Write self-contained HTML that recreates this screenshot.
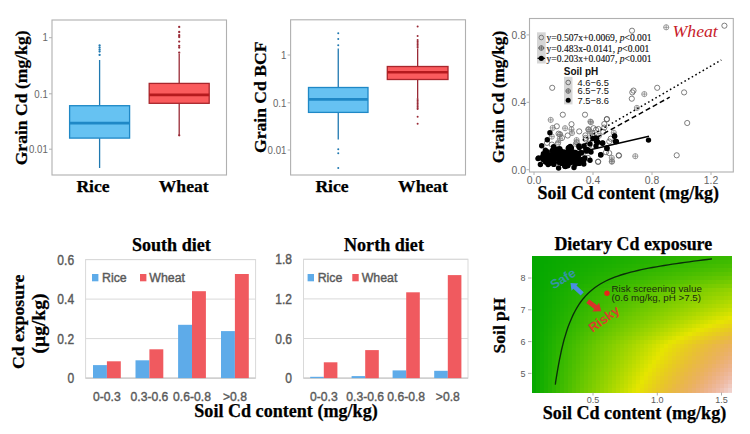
<!DOCTYPE html>
<html><head><meta charset="utf-8"><title>Figure</title>
<style>html,body{margin:0;padding:0;background:#fff;width:750px;height:434px;overflow:hidden}svg{display:block}</style>
</head><body>
<svg width="750" height="434" viewBox="0 0 750 434">
<rect width="750" height="434" fill="#fff"/>
<rect x="52" y="20" width="174.5" height="155" fill="none" stroke="#b0b0b0" stroke-width="1.1"/>
<line x1="49" y1="37.7" x2="52" y2="37.7" stroke="#b0b0b0" stroke-width="1"/>
<text transform="translate(47.8,41.4) scale(0.93,1)" font-size="10.4" text-anchor="end" font-family="Liberation Sans" fill="#666">1</text>
<line x1="49" y1="93.8" x2="52" y2="93.8" stroke="#b0b0b0" stroke-width="1"/>
<text transform="translate(47.8,97.5) scale(0.93,1)" font-size="10.4" text-anchor="end" font-family="Liberation Sans" fill="#666">0.1</text>
<line x1="49" y1="149.2" x2="52" y2="149.2" stroke="#b0b0b0" stroke-width="1"/>
<text transform="translate(47.8,152.9) scale(0.93,1)" font-size="10.4" text-anchor="end" font-family="Liberation Sans" fill="#666">0.01</text>
<line x1="99.6" y1="60" x2="99.6" y2="105.7" stroke="#1f78b0" stroke-width="1.3"/>
<line x1="99.6" y1="138.1" x2="99.6" y2="168" stroke="#1f78b0" stroke-width="1.3"/>
<rect x="69.6" y="105.7" width="60.0" height="32.39999999999999" fill="#66c2f2" stroke="#1f88c6" stroke-width="1.3"/>
<line x1="69.6" y1="123.1" x2="129.6" y2="123.1" stroke="#1f88c6" stroke-width="2.6"/>
<circle cx="99.6" cy="45.5" r="1.15" fill="#1f78b0"/>
<circle cx="99.6" cy="47.6" r="1.15" fill="#1f78b0"/>
<circle cx="99.6" cy="49.7" r="1.15" fill="#1f78b0"/>
<circle cx="99.6" cy="51.6" r="1.15" fill="#1f78b0"/>
<circle cx="99.6" cy="54.9" r="1.15" fill="#1f78b0"/>
<line x1="179.2" y1="54" x2="179.2" y2="83.4" stroke="#9a2a36" stroke-width="1.3"/>
<line x1="179.2" y1="103.3" x2="179.2" y2="135.3" stroke="#9a2a36" stroke-width="1.3"/>
<rect x="149.2" y="83.4" width="60.0" height="19.89999999999999" fill="#fa5b5d" stroke="#a8262c" stroke-width="1.3"/>
<line x1="149.2" y1="94.9" x2="209.2" y2="94.9" stroke="#b51a1e" stroke-width="2.6"/>
<circle cx="179.2" cy="26.9" r="1.15" fill="#9a2a36"/>
<circle cx="179.2" cy="32.0" r="1.15" fill="#9a2a36"/>
<circle cx="179.2" cy="35.2" r="1.15" fill="#9a2a36"/>
<circle cx="179.2" cy="37.0" r="1.15" fill="#9a2a36"/>
<circle cx="179.2" cy="41.6" r="1.15" fill="#9a2a36"/>
<circle cx="179.2" cy="45.8" r="1.15" fill="#9a2a36"/>
<circle cx="179.2" cy="47.6" r="1.15" fill="#9a2a36"/>
<circle cx="179.2" cy="52.7" r="1.15" fill="#9a2a36"/>
<circle cx="179.2" cy="135.3" r="1.15" fill="#9a2a36"/>
<text x="0.0" y="0.0" font-size="17.6" text-anchor="middle" font-family="Liberation Serif" font-weight="bold" stroke="#000" stroke-width="0.25" fill="#000" transform="translate(26.5,97.9) rotate(-90)">Grain Cd (mg/kg)</text>
<text x="93.0" y="192.0" font-size="17.6" text-anchor="middle" font-family="Liberation Serif" font-weight="bold" stroke="#000" stroke-width="0.25" fill="#000">Rice</text>
<text x="183.7" y="192.0" font-size="17.6" text-anchor="middle" font-family="Liberation Serif" font-weight="bold" stroke="#000" stroke-width="0.25" fill="#000">Wheat</text>
<rect x="290.6" y="19.8" width="174.89999999999998" height="155.2" fill="none" stroke="#b0b0b0" stroke-width="1.1"/>
<line x1="287.6" y1="55" x2="290.6" y2="55" stroke="#b0b0b0" stroke-width="1"/>
<text transform="translate(286.4,58.7) scale(0.93,1)" font-size="10.4" text-anchor="end" font-family="Liberation Sans" fill="#666">1</text>
<line x1="287.6" y1="102.8" x2="290.6" y2="102.8" stroke="#b0b0b0" stroke-width="1"/>
<text transform="translate(286.4,106.5) scale(0.93,1)" font-size="10.4" text-anchor="end" font-family="Liberation Sans" fill="#666">0.1</text>
<line x1="287.6" y1="150" x2="290.6" y2="150" stroke="#b0b0b0" stroke-width="1"/>
<text transform="translate(286.4,153.7) scale(0.93,1)" font-size="10.4" text-anchor="end" font-family="Liberation Sans" fill="#666">0.01</text>
<line x1="338.25" y1="48.4" x2="338.25" y2="87.5" stroke="#1f78b0" stroke-width="1.3"/>
<line x1="338.25" y1="112.4" x2="338.25" y2="139.5" stroke="#1f78b0" stroke-width="1.3"/>
<rect x="308.5" y="87.5" width="59.5" height="24.900000000000006" fill="#66c2f2" stroke="#1f88c6" stroke-width="1.3"/>
<line x1="308.5" y1="99.4" x2="368" y2="99.4" stroke="#1f88c6" stroke-width="2.6"/>
<circle cx="338.25" cy="33.2" r="1.0" fill="#1f78b0"/>
<circle cx="338.25" cy="39.0" r="1.0" fill="#1f78b0"/>
<circle cx="338.25" cy="45.3" r="1.0" fill="#1f78b0"/>
<circle cx="338.25" cy="149.2" r="1.0" fill="#1f78b0"/>
<circle cx="338.25" cy="153.3" r="1.0" fill="#1f78b0"/>
<circle cx="338.25" cy="168.0" r="1.0" fill="#1f78b0"/>
<line x1="417.65" y1="48.4" x2="417.65" y2="66.5" stroke="#9a2a36" stroke-width="1.3"/>
<line x1="417.65" y1="79.5" x2="417.65" y2="98" stroke="#9a2a36" stroke-width="1.3"/>
<rect x="387.3" y="66.5" width="60.69999999999999" height="13.0" fill="#fa5b5d" stroke="#a8262c" stroke-width="1.3"/>
<line x1="387.3" y1="72.3" x2="448" y2="72.3" stroke="#b51a1e" stroke-width="2.6"/>
<circle cx="417.65" cy="26.6" r="1.0" fill="#9a2a36"/>
<circle cx="417.65" cy="36.0" r="1.0" fill="#9a2a36"/>
<circle cx="417.65" cy="40.0" r="1.0" fill="#9a2a36"/>
<circle cx="417.65" cy="41.5" r="1.0" fill="#9a2a36"/>
<circle cx="417.65" cy="43.0" r="1.0" fill="#9a2a36"/>
<circle cx="417.65" cy="44.5" r="1.0" fill="#9a2a36"/>
<circle cx="417.65" cy="46.0" r="1.0" fill="#9a2a36"/>
<circle cx="417.65" cy="47.5" r="1.0" fill="#9a2a36"/>
<circle cx="417.65" cy="99.0" r="1.0" fill="#9a2a36"/>
<circle cx="417.65" cy="100.5" r="1.0" fill="#9a2a36"/>
<circle cx="417.65" cy="102.0" r="1.0" fill="#9a2a36"/>
<circle cx="417.65" cy="103.5" r="1.0" fill="#9a2a36"/>
<circle cx="417.65" cy="105.0" r="1.0" fill="#9a2a36"/>
<circle cx="417.65" cy="106.5" r="1.0" fill="#9a2a36"/>
<circle cx="417.65" cy="108.0" r="1.0" fill="#9a2a36"/>
<circle cx="417.65" cy="109.0" r="1.0" fill="#9a2a36"/>
<circle cx="417.65" cy="116.8" r="1.0" fill="#9a2a36"/>
<circle cx="417.65" cy="123.7" r="1.0" fill="#9a2a36"/>
<text x="0.0" y="0.0" font-size="17.6" text-anchor="middle" font-family="Liberation Serif" font-weight="bold" stroke="#000" stroke-width="0.25" fill="#000" transform="translate(265.8,97.3) rotate(-90)">Grain Cd BCF</text>
<text x="332.0" y="192.0" font-size="17.6" text-anchor="middle" font-family="Liberation Serif" font-weight="bold" stroke="#000" stroke-width="0.25" fill="#000">Rice</text>
<text x="423.0" y="192.0" font-size="17.6" text-anchor="middle" font-family="Liberation Serif" font-weight="bold" stroke="#000" stroke-width="0.25" fill="#000">Wheat</text>
<rect x="529.5" y="18.5" width="203.8" height="153.5" fill="none" stroke="#b0b0b0" stroke-width="1.1"/>
<line x1="526.5" y1="169.7" x2="529.5" y2="169.7" stroke="#b0b0b0" stroke-width="1"/>
<text transform="translate(526,173.6) scale(0.95,1)" font-size="11" text-anchor="end" font-family="Liberation Sans" fill="#666">0.0</text>
<line x1="526.5" y1="102.3" x2="529.5" y2="102.3" stroke="#b0b0b0" stroke-width="1"/>
<text transform="translate(526,106.2) scale(0.95,1)" font-size="11" text-anchor="end" font-family="Liberation Sans" fill="#666">0.4</text>
<line x1="526.5" y1="34.9" x2="529.5" y2="34.9" stroke="#b0b0b0" stroke-width="1"/>
<text transform="translate(526,38.8) scale(0.95,1)" font-size="11" text-anchor="end" font-family="Liberation Sans" fill="#666">0.8</text>
<line x1="534.0" y1="172" x2="534.0" y2="175" stroke="#b0b0b0" stroke-width="1"/>
<text transform="translate(534.0,184.4) scale(0.95,1)" font-size="11" text-anchor="middle" font-family="Liberation Sans" fill="#666">0.0</text>
<line x1="593.0" y1="172" x2="593.0" y2="175" stroke="#b0b0b0" stroke-width="1"/>
<text transform="translate(593.0,184.4) scale(0.95,1)" font-size="11" text-anchor="middle" font-family="Liberation Sans" fill="#666">0.4</text>
<line x1="652.0" y1="172" x2="652.0" y2="175" stroke="#b0b0b0" stroke-width="1"/>
<text transform="translate(652.0,184.4) scale(0.95,1)" font-size="11" text-anchor="middle" font-family="Liberation Sans" fill="#666">0.8</text>
<line x1="711.0" y1="172" x2="711.0" y2="175" stroke="#b0b0b0" stroke-width="1"/>
<text transform="translate(711.0,184.4) scale(0.95,1)" font-size="11" text-anchor="middle" font-family="Liberation Sans" fill="#666">1.2</text>
<circle cx="724.4" cy="25.7" r="2.6" fill="none" stroke="#555" stroke-width="0.75"/>
<circle cx="632.0" cy="30.7" r="2.6" fill="none" stroke="#555" stroke-width="0.75"/>
<circle cx="552.2" cy="87.8" r="2.6" fill="none" stroke="#555" stroke-width="0.75"/>
<circle cx="657.2" cy="87.8" r="2.6" fill="none" stroke="#555" stroke-width="0.75"/>
<circle cx="684.1" cy="92.4" r="2.6" fill="none" stroke="#555" stroke-width="0.75"/>
<circle cx="632.3" cy="92.4" r="2.6" fill="none" stroke="#555" stroke-width="0.75"/>
<circle cx="633.5" cy="90.6" r="2.6" fill="none" stroke="#555" stroke-width="0.75"/>
<circle cx="631.8" cy="98.7" r="2.6" fill="none" stroke="#555" stroke-width="0.75"/>
<circle cx="687.2" cy="123.0" r="2.6" fill="none" stroke="#555" stroke-width="0.75"/>
<circle cx="585.0" cy="114.7" r="2.6" fill="none" stroke="#555" stroke-width="0.75"/>
<circle cx="606.8" cy="119.4" r="2.6" fill="none" stroke="#555" stroke-width="0.75"/>
<circle cx="604.3" cy="124.0" r="2.6" fill="none" stroke="#555" stroke-width="0.75"/>
<circle cx="676.7" cy="155.3" r="2.6" fill="none" stroke="#555" stroke-width="0.75"/>
<circle cx="618.7" cy="155.3" r="2.6" fill="none" stroke="#555" stroke-width="0.75"/>
<circle cx="598.0" cy="161.7" r="2.6" fill="none" stroke="#555" stroke-width="0.75"/>
<circle cx="562.8" cy="114.7" r="2.6" fill="none" stroke="#555" stroke-width="0.75"/>
<circle cx="556.8" cy="126.3" r="2.6" fill="none" stroke="#555" stroke-width="0.75"/>
<circle cx="571.5" cy="124.2" r="2.6" fill="none" stroke="#555" stroke-width="0.75"/>
<circle cx="579.2" cy="131.4" r="2.6" fill="none" stroke="#555" stroke-width="0.75"/>
<circle cx="606.9" cy="119.0" r="2.6" fill="none" stroke="#555" stroke-width="0.75"/>
<circle cx="604.3" cy="127.6" r="2.6" fill="none" stroke="#555" stroke-width="0.75"/>
<circle cx="562.0" cy="138.0" r="2.6" fill="none" stroke="#555" stroke-width="0.75"/>
<circle cx="619.0" cy="155.6" r="2.6" fill="none" stroke="#555" stroke-width="0.75"/>
<circle cx="598.2" cy="161.8" r="2.6" fill="none" stroke="#555" stroke-width="0.75"/>
<circle cx="587.9" cy="157.9" r="2.6" fill="none" stroke="#555" stroke-width="0.75"/>
<circle cx="576.7" cy="142.3" r="2.6" fill="none" stroke="#555" stroke-width="0.75"/>
<circle cx="598.3" cy="129.0" r="2.6" fill="none" stroke="#555" stroke-width="0.75"/>
<circle cx="589.2" cy="145.7" r="2.6" fill="none" stroke="#555" stroke-width="0.75"/>
<circle cx="547.0" cy="142.9" r="2.6" fill="none" stroke="#555" stroke-width="0.75"/>
<circle cx="558.6" cy="133.7" r="2.6" fill="none" stroke="#555" stroke-width="0.75"/>
<circle cx="580.3" cy="146.5" r="2.6" fill="none" stroke="#555" stroke-width="0.75"/>
<circle cx="589.7" cy="140.6" r="2.6" fill="none" stroke="#555" stroke-width="0.75"/>
<circle cx="592.7" cy="136.1" r="2.6" fill="none" stroke="#555" stroke-width="0.75"/>
<circle cx="572.4" cy="153.1" r="2.6" fill="none" stroke="#555" stroke-width="0.75"/>
<circle cx="609.2" cy="153.1" r="2.6" fill="none" stroke="#555" stroke-width="0.75"/>
<circle cx="559.8" cy="155.1" r="2.6" fill="none" stroke="#555" stroke-width="0.75"/>
<circle cx="610.7" cy="138.7" r="2.6" fill="none" stroke="#555" stroke-width="0.75"/>
<circle cx="587.5" cy="150.9" r="2.6" fill="none" stroke="#555" stroke-width="0.75"/>
<circle cx="596.0" cy="129.8" r="2.6" fill="none" stroke="#555" stroke-width="0.75"/>
<circle cx="557.7" cy="143.9" r="2.6" fill="none" stroke="#555" stroke-width="0.75"/>
<circle cx="558.6" cy="149.4" r="2.6" fill="none" stroke="#555" stroke-width="0.75"/>
<circle cx="588.5" cy="129.7" r="2.6" fill="none" stroke="#555" stroke-width="0.75"/>
<circle cx="567.7" cy="135.5" r="2.6" fill="none" stroke="#555" stroke-width="0.75"/>
<circle cx="551.9" cy="144.6" r="2.6" fill="none" stroke="#555" stroke-width="0.75"/>
<circle cx="585.7" cy="137.9" r="2.6" fill="none" stroke="#555" stroke-width="0.75"/>
<circle cx="609.3" cy="141.5" r="2.6" fill="none" stroke="#555" stroke-width="0.75"/>
<circle cx="603.2" cy="131.9" r="2.6" fill="none" stroke="#555" stroke-width="0.75"/>
<circle cx="606.0" cy="152.2" r="2.6" fill="none" stroke="#555" stroke-width="0.75"/>
<circle cx="585.8" cy="139.5" r="2.6" fill="none" stroke="#555" stroke-width="0.75"/>
<circle cx="548.6" cy="156.8" r="2.6" fill="none" stroke="#555" stroke-width="0.75"/>
<circle cx="585.4" cy="135.4" r="2.6" fill="none" stroke="#555" stroke-width="0.75"/>
<circle cx="593.5" cy="128.2" r="2.6" fill="none" stroke="#555" stroke-width="0.75"/>
<g stroke="#777" stroke-width="0.7" fill="none"><circle cx="666.2" cy="27.3" r="2.6"/><path d="M663.6 27.3h5.2M666.2 24.7v5.2"/></g>
<g stroke="#777" stroke-width="0.7" fill="none"><circle cx="644.3" cy="94.1" r="2.6"/><path d="M641.7 94.1h5.2M644.3 91.5v5.2"/></g>
<g stroke="#777" stroke-width="0.7" fill="none"><circle cx="636.9" cy="107.9" r="2.6"/><path d="M634.3 107.9h5.2M636.9 105.3v5.2"/></g>
<g stroke="#777" stroke-width="0.7" fill="none"><circle cx="591.0" cy="122.2" r="2.6"/><path d="M588.4 122.2h5.2M591.0 119.6v5.2"/></g>
<g stroke="#777" stroke-width="0.7" fill="none"><circle cx="635.3" cy="156.2" r="2.6"/><path d="M632.7 156.2h5.2M635.3 153.6v5.2"/></g>
<g stroke="#777" stroke-width="0.7" fill="none"><circle cx="611.8" cy="161.7" r="2.6"/><path d="M609.2 161.7h5.2M611.8 159.1v5.2"/></g>
<g stroke="#777" stroke-width="0.7" fill="none"><circle cx="550.7" cy="119.9" r="2.6"/><path d="M548.1 119.9h5.2M550.7 117.3v5.2"/></g>
<g stroke="#777" stroke-width="0.7" fill="none"><circle cx="590.4" cy="121.6" r="2.6"/><path d="M587.8 121.6h5.2M590.4 119.0v5.2"/></g>
<g stroke="#777" stroke-width="0.7" fill="none"><circle cx="571.5" cy="129.4" r="2.6"/><path d="M568.9 129.4h5.2M571.5 126.8v5.2"/></g>
<g stroke="#777" stroke-width="0.7" fill="none"><circle cx="572.0" cy="133.0" r="2.6"/><path d="M569.4 133.0h5.2M572.0 130.4v5.2"/></g>
<g stroke="#777" stroke-width="0.7" fill="none"><circle cx="589.6" cy="131.4" r="2.6"/><path d="M587.0 131.4h5.2M589.6 128.8v5.2"/></g>
<g stroke="#777" stroke-width="0.7" fill="none"><circle cx="612.0" cy="161.3" r="2.6"/><path d="M609.4 161.3h5.2M612.0 158.7v5.2"/></g>
<g stroke="#777" stroke-width="0.7" fill="none"><circle cx="613.8" cy="132.8" r="2.6"/><path d="M611.2 132.8h5.2M613.8 130.2v5.2"/></g>
<g stroke="#777" stroke-width="0.7" fill="none"><circle cx="575.9" cy="143.9" r="2.6"/><path d="M573.3 143.9h5.2M575.9 141.3v5.2"/></g>
<g stroke="#777" stroke-width="0.7" fill="none"><circle cx="558.2" cy="142.4" r="2.6"/><path d="M555.6 142.4h5.2M558.2 139.8v5.2"/></g>
<g stroke="#777" stroke-width="0.7" fill="none"><circle cx="552.0" cy="151.9" r="2.6"/><path d="M549.4 151.9h5.2M552.0 149.3v5.2"/></g>
<g stroke="#777" stroke-width="0.7" fill="none"><circle cx="548.8" cy="157.4" r="2.6"/><path d="M546.2 157.4h5.2M548.8 154.8v5.2"/></g>
<g stroke="#777" stroke-width="0.7" fill="none"><circle cx="576.6" cy="140.1" r="2.6"/><path d="M574.0 140.1h5.2M576.6 137.5v5.2"/></g>
<g stroke="#777" stroke-width="0.7" fill="none"><circle cx="611.8" cy="157.9" r="2.6"/><path d="M609.2 157.9h5.2M611.8 155.3v5.2"/></g>
<g stroke="#777" stroke-width="0.7" fill="none"><circle cx="565.1" cy="128.2" r="2.6"/><path d="M562.5 128.2h5.2M565.1 125.6v5.2"/></g>
<g stroke="#777" stroke-width="0.7" fill="none"><circle cx="551.8" cy="136.6" r="2.6"/><path d="M549.2 136.6h5.2M551.8 134.0v5.2"/></g>
<g stroke="#777" stroke-width="0.7" fill="none"><circle cx="552.7" cy="127.9" r="2.6"/><path d="M550.1 127.9h5.2M552.7 125.3v5.2"/></g>
<g stroke="#777" stroke-width="0.7" fill="none"><circle cx="560.0" cy="134.6" r="2.6"/><path d="M557.4 134.6h5.2M560.0 132.0v5.2"/></g>
<g stroke="#777" stroke-width="0.7" fill="none"><circle cx="599.0" cy="135.7" r="2.6"/><path d="M596.4 135.7h5.2M599.0 133.1v5.2"/></g>
<g stroke="#777" stroke-width="0.7" fill="none"><circle cx="559.9" cy="138.6" r="2.6"/><path d="M557.3 138.6h5.2M559.9 136.0v5.2"/></g>
<g stroke="#777" stroke-width="0.7" fill="none"><circle cx="588.4" cy="129.2" r="2.6"/><path d="M585.8 129.2h5.2M588.4 126.6v5.2"/></g>
<g stroke="#777" stroke-width="0.7" fill="none"><circle cx="560.1" cy="134.3" r="2.6"/><path d="M557.5 134.3h5.2M560.1 131.7v5.2"/></g>
<g stroke="#777" stroke-width="0.7" fill="none"><circle cx="558.5" cy="149.7" r="2.6"/><path d="M555.9 149.7h5.2M558.5 147.1v5.2"/></g>
<g stroke="#777" stroke-width="0.7" fill="none"><circle cx="559.0" cy="156.4" r="2.6"/><path d="M556.4 156.4h5.2M559.0 153.8v5.2"/></g>
<g stroke="#777" stroke-width="0.7" fill="none"><circle cx="592.5" cy="134.2" r="2.6"/><path d="M589.9 134.2h5.2M592.5 131.6v5.2"/></g>
<g stroke="#777" stroke-width="0.7" fill="none"><circle cx="582.9" cy="153.3" r="2.6"/><path d="M580.3 153.3h5.2M582.9 150.7v5.2"/></g>
<circle cx="648.5" cy="140.1" r="2.7" fill="#000"/>
<circle cx="614.5" cy="136.0" r="2.7" fill="#000"/>
<circle cx="615.4" cy="141.5" r="2.7" fill="#000"/>
<circle cx="607.0" cy="147.9" r="2.7" fill="#000"/>
<circle cx="600.7" cy="154.8" r="2.7" fill="#000"/>
<circle cx="602.7" cy="142.9" r="2.7" fill="#000"/>
<circle cx="596.6" cy="138.8" r="2.7" fill="#000"/>
<circle cx="598.0" cy="142.3" r="2.7" fill="#000"/>
<circle cx="549.9" cy="132.8" r="2.7" fill="#000"/>
<circle cx="547.3" cy="139.7" r="2.7" fill="#000"/>
<circle cx="595.6" cy="138.0" r="2.7" fill="#000"/>
<circle cx="596.5" cy="141.5" r="2.7" fill="#000"/>
<circle cx="602.5" cy="143.2" r="2.7" fill="#000"/>
<circle cx="606.9" cy="148.4" r="2.7" fill="#000"/>
<circle cx="600.8" cy="154.9" r="2.7" fill="#000"/>
<circle cx="614.6" cy="136.3" r="2.7" fill="#000"/>
<circle cx="616.4" cy="141.5" r="2.7" fill="#000"/>
<circle cx="538.6" cy="157.9" r="2.7" fill="#000"/>
<circle cx="543.0" cy="159.6" r="2.7" fill="#000"/>
<circle cx="565.4" cy="166.5" r="2.7" fill="#000"/>
<circle cx="590.0" cy="144.0" r="2.7" fill="#000"/>
<circle cx="593.0" cy="138.5" r="2.7" fill="#000"/>
<circle cx="596.0" cy="146.0" r="2.7" fill="#000"/>
<circle cx="588.0" cy="150.0" r="2.7" fill="#000"/>
<circle cx="584.0" cy="146.0" r="2.7" fill="#000"/>
<circle cx="591.0" cy="152.0" r="2.7" fill="#000"/>
<circle cx="558.6" cy="168.0" r="2.7" fill="#000"/>
<circle cx="563.5" cy="158.9" r="2.7" fill="#000"/>
<circle cx="561.6" cy="163.4" r="2.7" fill="#000"/>
<circle cx="569.1" cy="159.2" r="2.7" fill="#000"/>
<circle cx="553.7" cy="162.8" r="2.7" fill="#000"/>
<circle cx="569.7" cy="161.5" r="2.7" fill="#000"/>
<circle cx="585.8" cy="149.1" r="2.7" fill="#000"/>
<circle cx="554.1" cy="151.6" r="2.7" fill="#000"/>
<circle cx="558.0" cy="156.6" r="2.7" fill="#000"/>
<circle cx="564.9" cy="158.2" r="2.7" fill="#000"/>
<circle cx="576.8" cy="153.8" r="2.7" fill="#000"/>
<circle cx="565.1" cy="157.8" r="2.7" fill="#000"/>
<circle cx="555.1" cy="153.7" r="2.7" fill="#000"/>
<circle cx="561.9" cy="153.7" r="2.7" fill="#000"/>
<circle cx="567.2" cy="158.0" r="2.7" fill="#000"/>
<circle cx="546.6" cy="155.7" r="2.7" fill="#000"/>
<circle cx="576.9" cy="153.2" r="2.7" fill="#000"/>
<circle cx="557.7" cy="149.5" r="2.7" fill="#000"/>
<circle cx="571.4" cy="155.6" r="2.7" fill="#000"/>
<circle cx="554.1" cy="148.1" r="2.7" fill="#000"/>
<circle cx="570.5" cy="154.2" r="2.7" fill="#000"/>
<circle cx="568.3" cy="148.3" r="2.7" fill="#000"/>
<circle cx="549.8" cy="154.9" r="2.7" fill="#000"/>
<circle cx="552.7" cy="162.5" r="2.7" fill="#000"/>
<circle cx="559.7" cy="156.7" r="2.7" fill="#000"/>
<circle cx="541.7" cy="145.8" r="2.7" fill="#000"/>
<circle cx="575.3" cy="152.5" r="2.7" fill="#000"/>
<circle cx="549.9" cy="163.3" r="2.7" fill="#000"/>
<circle cx="553.1" cy="155.4" r="2.7" fill="#000"/>
<circle cx="565.3" cy="156.2" r="2.7" fill="#000"/>
<circle cx="563.0" cy="156.8" r="2.7" fill="#000"/>
<circle cx="553.3" cy="154.6" r="2.7" fill="#000"/>
<circle cx="565.0" cy="165.7" r="2.7" fill="#000"/>
<circle cx="548.5" cy="158.1" r="2.7" fill="#000"/>
<circle cx="570.1" cy="156.2" r="2.7" fill="#000"/>
<circle cx="571.9" cy="158.3" r="2.7" fill="#000"/>
<circle cx="559.9" cy="155.0" r="2.7" fill="#000"/>
<circle cx="574.0" cy="167.5" r="2.7" fill="#000"/>
<circle cx="556.9" cy="153.4" r="2.7" fill="#000"/>
<circle cx="570.3" cy="155.2" r="2.7" fill="#000"/>
<circle cx="559.5" cy="155.1" r="2.7" fill="#000"/>
<circle cx="545.7" cy="161.8" r="2.7" fill="#000"/>
<circle cx="581.6" cy="152.7" r="2.7" fill="#000"/>
<circle cx="552.6" cy="162.4" r="2.7" fill="#000"/>
<circle cx="560.7" cy="160.5" r="2.7" fill="#000"/>
<circle cx="543.0" cy="158.2" r="2.7" fill="#000"/>
<circle cx="572.6" cy="151.6" r="2.7" fill="#000"/>
<circle cx="571.0" cy="156.8" r="2.7" fill="#000"/>
<circle cx="568.6" cy="162.8" r="2.7" fill="#000"/>
<circle cx="561.9" cy="161.4" r="2.7" fill="#000"/>
<circle cx="550.4" cy="161.6" r="2.7" fill="#000"/>
<circle cx="553.9" cy="158.2" r="2.7" fill="#000"/>
<circle cx="578.8" cy="146.0" r="2.7" fill="#000"/>
<circle cx="559.0" cy="158.6" r="2.7" fill="#000"/>
<circle cx="583.9" cy="160.0" r="2.7" fill="#000"/>
<circle cx="578.9" cy="160.0" r="2.7" fill="#000"/>
<circle cx="554.8" cy="156.2" r="2.7" fill="#000"/>
<circle cx="563.5" cy="157.1" r="2.7" fill="#000"/>
<circle cx="570.6" cy="162.2" r="2.7" fill="#000"/>
<circle cx="582.5" cy="159.5" r="2.7" fill="#000"/>
<circle cx="563.5" cy="160.7" r="2.7" fill="#000"/>
<circle cx="577.2" cy="160.0" r="2.7" fill="#000"/>
<circle cx="549.0" cy="160.3" r="2.7" fill="#000"/>
<circle cx="552.3" cy="150.5" r="2.7" fill="#000"/>
<circle cx="578.4" cy="156.0" r="2.7" fill="#000"/>
<circle cx="566.7" cy="163.4" r="2.7" fill="#000"/>
<circle cx="563.7" cy="158.7" r="2.7" fill="#000"/>
<circle cx="546.6" cy="159.4" r="2.7" fill="#000"/>
<circle cx="566.6" cy="161.6" r="2.7" fill="#000"/>
<circle cx="553.8" cy="164.4" r="2.7" fill="#000"/>
<circle cx="548.6" cy="157.1" r="2.7" fill="#000"/>
<circle cx="563.4" cy="153.0" r="2.7" fill="#000"/>
<circle cx="568.9" cy="147.5" r="2.7" fill="#000"/>
<circle cx="583.8" cy="164.0" r="2.7" fill="#000"/>
<circle cx="562.0" cy="155.4" r="2.7" fill="#000"/>
<circle cx="548.9" cy="160.0" r="2.7" fill="#000"/>
<circle cx="571.6" cy="155.4" r="2.7" fill="#000"/>
<circle cx="543.4" cy="153.7" r="2.7" fill="#000"/>
<circle cx="570.3" cy="146.5" r="2.7" fill="#000"/>
<circle cx="548.2" cy="159.6" r="2.7" fill="#000"/>
<circle cx="567.7" cy="165.7" r="2.7" fill="#000"/>
<circle cx="569.3" cy="151.5" r="2.7" fill="#000"/>
<circle cx="561.5" cy="154.6" r="2.7" fill="#000"/>
<circle cx="586.8" cy="149.8" r="2.7" fill="#000"/>
<circle cx="575.9" cy="157.1" r="2.7" fill="#000"/>
<circle cx="565.3" cy="153.7" r="2.7" fill="#000"/>
<circle cx="580.4" cy="152.7" r="2.7" fill="#000"/>
<circle cx="560.5" cy="159.7" r="2.7" fill="#000"/>
<circle cx="550.6" cy="160.3" r="2.7" fill="#000"/>
<circle cx="564.4" cy="152.3" r="2.7" fill="#000"/>
<circle cx="581.8" cy="159.6" r="2.7" fill="#000"/>
<circle cx="580.3" cy="161.5" r="2.7" fill="#000"/>
<circle cx="567.4" cy="162.0" r="2.7" fill="#000"/>
<circle cx="564.4" cy="155.3" r="2.7" fill="#000"/>
<circle cx="570.5" cy="162.8" r="2.7" fill="#000"/>
<circle cx="559.7" cy="148.6" r="2.7" fill="#000"/>
<circle cx="553.6" cy="146.8" r="2.7" fill="#000"/>
<circle cx="538.0" cy="158.6" r="2.7" fill="#000"/>
<circle cx="569.4" cy="159.8" r="2.7" fill="#000"/>
<circle cx="554.4" cy="157.3" r="2.7" fill="#000"/>
<circle cx="561.0" cy="150.9" r="2.7" fill="#000"/>
<circle cx="543.0" cy="156.6" r="2.7" fill="#000"/>
<circle cx="554.6" cy="156.4" r="2.7" fill="#000"/>
<circle cx="548.1" cy="164.6" r="2.7" fill="#000"/>
<circle cx="568.8" cy="156.0" r="2.7" fill="#000"/>
<circle cx="579.3" cy="147.4" r="2.7" fill="#000"/>
<circle cx="549.5" cy="157.0" r="2.7" fill="#000"/>
<circle cx="566.9" cy="163.9" r="2.7" fill="#000"/>
<circle cx="548.7" cy="157.9" r="2.7" fill="#000"/>
<circle cx="590.0" cy="160.3" r="2.7" fill="#000"/>
<circle cx="552.4" cy="157.5" r="2.7" fill="#000"/>
<circle cx="567.3" cy="151.9" r="2.7" fill="#000"/>
<circle cx="546.9" cy="158.4" r="2.7" fill="#000"/>
<circle cx="575.0" cy="160.5" r="2.7" fill="#000"/>
<circle cx="540.4" cy="164.5" r="2.7" fill="#000"/>
<circle cx="570.4" cy="156.2" r="2.7" fill="#000"/>
<circle cx="557.6" cy="158.4" r="2.7" fill="#000"/>
<circle cx="545.3" cy="161.7" r="2.7" fill="#000"/>
<circle cx="572.7" cy="154.7" r="2.7" fill="#000"/>
<circle cx="560.2" cy="161.0" r="2.7" fill="#000"/>
<circle cx="545.4" cy="150.3" r="2.7" fill="#000"/>
<circle cx="575.5" cy="164.3" r="2.7" fill="#000"/>
<circle cx="569.8" cy="158.5" r="2.7" fill="#000"/>
<circle cx="565.3" cy="165.5" r="2.7" fill="#000"/>
<circle cx="558.7" cy="162.2" r="2.7" fill="#000"/>
<circle cx="559.4" cy="156.4" r="2.7" fill="#000"/>
<circle cx="562.4" cy="155.5" r="2.7" fill="#000"/>
<circle cx="555.0" cy="157.8" r="2.7" fill="#000"/>
<circle cx="567.2" cy="163.8" r="2.7" fill="#000"/>
<circle cx="553.6" cy="159.9" r="2.7" fill="#000"/>
<circle cx="552.0" cy="161.2" r="2.7" fill="#000"/>
<circle cx="566.8" cy="160.9" r="2.7" fill="#000"/>
<circle cx="552.8" cy="152.8" r="2.7" fill="#000"/>
<circle cx="542.9" cy="156.2" r="2.7" fill="#000"/>
<circle cx="547.2" cy="151.6" r="2.7" fill="#000"/>
<circle cx="564.9" cy="166.2" r="2.7" fill="#000"/>
<circle cx="571.4" cy="148.0" r="2.7" fill="#000"/>
<circle cx="559.3" cy="162.0" r="2.7" fill="#000"/>
<circle cx="569.5" cy="156.4" r="2.7" fill="#000"/>
<circle cx="584.9" cy="157.9" r="2.7" fill="#000"/>
<circle cx="568.2" cy="160.8" r="2.7" fill="#000"/>
<circle cx="561.8" cy="154.2" r="2.7" fill="#000"/>
<circle cx="579.3" cy="163.4" r="2.7" fill="#000"/>
<circle cx="546.7" cy="162.2" r="2.7" fill="#000"/>
<circle cx="570.5" cy="161.6" r="2.7" fill="#000"/>
<circle cx="562.2" cy="157.1" r="2.7" fill="#000"/>
<circle cx="567.8" cy="165.2" r="2.7" fill="#000"/>
<circle cx="586.4" cy="151.1" r="2.7" fill="#000"/>
<circle cx="572.3" cy="161.9" r="2.7" fill="#000"/>
<circle cx="563.6" cy="152.1" r="2.7" fill="#000"/>
<line x1="582.7" y1="151.6" x2="649.0" y2="136.2" stroke="#000" stroke-width="1.5" />
<line x1="582.7" y1="145.2" x2="669.7" y2="97.2" stroke="#000" stroke-width="1.5" stroke-dasharray="5 3"/>
<line x1="582.7" y1="140.3" x2="721.3" y2="60.0" stroke="#000" stroke-width="1.5" stroke-dasharray="1.6 2.6"/>
<rect x="537" y="32.3" width="8.7" height="31.2" fill="#d6d6d6"/>
<circle cx="541.3" cy="37.5" r="2.3" fill="none" stroke="#666" stroke-width="0.8"/>
<g stroke="#555" stroke-width="0.8" fill="none"><circle cx="541.3" cy="48" r="2.3"/><path d="M538 48h6.6M541.3 45.7v4.6"/></g>
<circle cx="541.3" cy="58.3" r="2.6" fill="#000"/><path d="M537.5 58.3h7.6" stroke="#000" stroke-width="1.2"/>
<text x="546.5" y="41" font-size="9.6" font-family="Liberation Serif" fill="#111" stroke="#111" stroke-width="0.12">y=0.507x+0.0069, <tspan font-style="italic">p</tspan>&lt;0.001</text>
<text x="546.5" y="51.5" font-size="9.6" font-family="Liberation Serif" fill="#111" stroke="#111" stroke-width="0.12">y=0.483x-0.0141, <tspan font-style="italic">p</tspan>&lt;0.001</text>
<text x="546.5" y="61.6" font-size="9.6" font-family="Liberation Serif" fill="#111" stroke="#111" stroke-width="0.12">y=0.203x+0.0407, <tspan font-style="italic">p</tspan>&lt;0.001</text>
<text x="563.8" y="75.3" font-size="10" text-anchor="start" font-family="Liberation Sans" font-weight="bold" fill="#111">Soil pH</text>
<rect x="564" y="76.8" width="8.5" height="27.6" fill="#d6d6d6"/>
<circle cx="568.2" cy="82.5" r="2.3" fill="none" stroke="#555" stroke-width="0.8"/>
<g stroke="#555" stroke-width="0.8" fill="none"><circle cx="568.2" cy="91" r="2.3"/><path d="M565.9 91h4.6M568.2 88.7v4.6"/></g>
<circle cx="568.2" cy="100.3" r="2.5" fill="#000"/>
<text x="577.6" y="85.8" font-size="9.3" text-anchor="start" font-family="Liberation Sans" fill="#111">4.6−6.5</text>
<text x="577.6" y="94.3" font-size="9.3" text-anchor="start" font-family="Liberation Sans" fill="#111">6.5−7.5</text>
<text x="577.6" y="103.6" font-size="9.3" text-anchor="start" font-family="Liberation Sans" fill="#111">7.5−8.6</text>
<text x="672.6" y="36.5" font-size="17.7" text-anchor="start" font-family="Liberation Serif" font-style="italic" fill="#c8202a">Wheat</text>
<text x="0.0" y="0.0" font-size="17.3" text-anchor="middle" font-family="Liberation Serif" font-weight="bold" stroke="#000" stroke-width="0.25" fill="#000" transform="translate(504,97) rotate(-90)">Grain Cd (mg/kg)</text>
<text x="628.3" y="198.9" font-size="17.9" text-anchor="middle" font-family="Liberation Serif" font-weight="bold" stroke="#000" stroke-width="0.25" fill="#000">Soil Cd content (mg/kg)</text>
<rect x="85.6" y="259.6" width="170.0" height="118.5" fill="none" stroke="#d9d9d9" stroke-width="1"/>
<text transform="translate(74.1,383.1) scale(0.86,1)" x="0" y="0" font-size="14" text-anchor="end" font-family="Liberation Sans" fill="#595959" stroke="#595959" stroke-width="0.42">0</text>
<line x1="85.6" y1="338.6" x2="255.6" y2="338.6" stroke="#d9d9d9" stroke-width="1"/>
<text transform="translate(74.1,343.6) scale(0.86,1)" x="0" y="0" font-size="14" text-anchor="end" font-family="Liberation Sans" fill="#595959" stroke="#595959" stroke-width="0.42">0.2</text>
<line x1="85.6" y1="299.1" x2="255.6" y2="299.1" stroke="#d9d9d9" stroke-width="1"/>
<text transform="translate(74.1,304.1) scale(0.86,1)" x="0" y="0" font-size="14" text-anchor="end" font-family="Liberation Sans" fill="#595959" stroke="#595959" stroke-width="0.42">0.4</text>
<line x1="85.6" y1="259.6" x2="255.6" y2="259.6" stroke="#d9d9d9" stroke-width="1"/>
<text transform="translate(74.1,264.6) scale(0.86,1)" x="0" y="0" font-size="14" text-anchor="end" font-family="Liberation Sans" fill="#595959" stroke="#595959" stroke-width="0.42">0.6</text>
<line x1="85.6" y1="378.1" x2="255.6" y2="378.1" stroke="#c8c8c8" stroke-width="1.2"/>
<rect x="93" y="365.1" width="13.9" height="13.0" fill="#5eabe9"/>
<rect x="106.9" y="361.3" width="13.9" height="16.8" fill="#f05a5f"/>
<text transform="translate(106.9,400.6) scale(0.9,1)" x="0" y="0" font-size="13.5" text-anchor="middle" font-family="Liberation Sans" fill="#595959" stroke="#595959" stroke-width="0.42">0-0.3</text>
<rect x="135.5" y="360.3" width="13.9" height="17.8" fill="#5eabe9"/>
<rect x="149.4" y="349.3" width="13.9" height="28.8" fill="#f05a5f"/>
<text transform="translate(149.4,400.6) scale(0.9,1)" x="0" y="0" font-size="13.5" text-anchor="middle" font-family="Liberation Sans" fill="#595959" stroke="#595959" stroke-width="0.42">0.3-0.6</text>
<rect x="178.1" y="324.8" width="13.9" height="53.3" fill="#5eabe9"/>
<rect x="192.0" y="291.2" width="13.9" height="86.9" fill="#f05a5f"/>
<text transform="translate(192.0,400.6) scale(0.9,1)" x="0" y="0" font-size="13.5" text-anchor="middle" font-family="Liberation Sans" fill="#595959" stroke="#595959" stroke-width="0.42">0.6-0.8</text>
<rect x="221" y="331.1" width="13.9" height="47.0" fill="#5eabe9"/>
<rect x="234.9" y="274.0" width="13.9" height="104.1" fill="#f05a5f"/>
<text transform="translate(234.9,400.6) scale(0.9,1)" x="0" y="0" font-size="13.5" text-anchor="middle" font-family="Liberation Sans" fill="#595959" stroke="#595959" stroke-width="0.42">&gt;0.8</text>
<rect x="92" y="274" width="6.4" height="7.3" fill="#5eabe9"/>
<text transform="translate(102.0,282.4) scale(0.93,1)" x="0" y="0" font-size="13.3" text-anchor="start" font-family="Liberation Sans" fill="#595959" stroke="#595959" stroke-width="0.42">Rice</text>
<rect x="140" y="274" width="6.4" height="7.3" fill="#f05a5f"/>
<text transform="translate(149.3,282.4) scale(0.93,1)" x="0" y="0" font-size="13.3" text-anchor="start" font-family="Liberation Sans" fill="#595959" stroke="#595959" stroke-width="0.42">Wheat</text>
<text x="131.9" y="251.0" font-size="18.1" text-anchor="start" font-family="Liberation Serif" font-weight="bold" stroke="#000" stroke-width="0.25" fill="#000">South diet</text>
<rect x="303.5" y="259.3" width="164.5" height="118.80000000000001" fill="none" stroke="#d9d9d9" stroke-width="1"/>
<text transform="translate(292.0,383.1) scale(0.86,1)" x="0" y="0" font-size="14" text-anchor="end" font-family="Liberation Sans" fill="#595959" stroke="#595959" stroke-width="0.42">0</text>
<line x1="303.5" y1="338.5" x2="468" y2="338.5" stroke="#d9d9d9" stroke-width="1"/>
<text transform="translate(292.0,343.5) scale(0.86,1)" x="0" y="0" font-size="14" text-anchor="end" font-family="Liberation Sans" fill="#595959" stroke="#595959" stroke-width="0.42">0.6</text>
<line x1="303.5" y1="298.9" x2="468" y2="298.9" stroke="#d9d9d9" stroke-width="1"/>
<text transform="translate(292.0,303.9) scale(0.86,1)" x="0" y="0" font-size="14" text-anchor="end" font-family="Liberation Sans" fill="#595959" stroke="#595959" stroke-width="0.42">1.2</text>
<line x1="303.5" y1="259.3" x2="468" y2="259.3" stroke="#d9d9d9" stroke-width="1"/>
<text transform="translate(292.0,264.3) scale(0.86,1)" x="0" y="0" font-size="14" text-anchor="end" font-family="Liberation Sans" fill="#595959" stroke="#595959" stroke-width="0.42">1.8</text>
<line x1="303.5" y1="378.1" x2="468" y2="378.1" stroke="#c8c8c8" stroke-width="1.2"/>
<rect x="310.2" y="376.8" width="13.6" height="1.3" fill="#5eabe9"/>
<rect x="323.8" y="362.3" width="13.6" height="15.8" fill="#f05a5f"/>
<text transform="translate(323.8,400.6) scale(0.9,1)" x="0" y="0" font-size="13.5" text-anchor="middle" font-family="Liberation Sans" fill="#595959" stroke="#595959" stroke-width="0.42">0-0.3</text>
<rect x="351.6" y="376.1" width="13.6" height="2.0" fill="#5eabe9"/>
<rect x="365.20000000000005" y="350.1" width="13.6" height="28.1" fill="#f05a5f"/>
<text transform="translate(365.2,400.6) scale(0.9,1)" x="0" y="0" font-size="13.5" text-anchor="middle" font-family="Liberation Sans" fill="#595959" stroke="#595959" stroke-width="0.42">0.3-0.6</text>
<rect x="392.6" y="370.4" width="13.6" height="7.7" fill="#5eabe9"/>
<rect x="406.20000000000005" y="292.3" width="13.6" height="85.8" fill="#f05a5f"/>
<text transform="translate(406.2,400.6) scale(0.9,1)" x="0" y="0" font-size="13.5" text-anchor="middle" font-family="Liberation Sans" fill="#595959" stroke="#595959" stroke-width="0.42">0.6-0.8</text>
<rect x="434.2" y="370.8" width="13.6" height="7.3" fill="#5eabe9"/>
<rect x="447.8" y="275.1" width="13.6" height="103.0" fill="#f05a5f"/>
<text transform="translate(447.8,400.6) scale(0.9,1)" x="0" y="0" font-size="13.5" text-anchor="middle" font-family="Liberation Sans" fill="#595959" stroke="#595959" stroke-width="0.42">&gt;0.8</text>
<rect x="307.6" y="274" width="6.4" height="7.3" fill="#5eabe9"/>
<text transform="translate(317.7,282.4) scale(0.93,1)" x="0" y="0" font-size="13.3" text-anchor="start" font-family="Liberation Sans" fill="#595959" stroke="#595959" stroke-width="0.42">Rice</text>
<rect x="352.3" y="274" width="6.4" height="7.3" fill="#f05a5f"/>
<text transform="translate(361.7,282.4) scale(0.93,1)" x="0" y="0" font-size="13.3" text-anchor="start" font-family="Liberation Sans" fill="#595959" stroke="#595959" stroke-width="0.42">Wheat</text>
<text x="344.0" y="251.0" font-size="18.1" text-anchor="start" font-family="Liberation Serif" font-weight="bold" stroke="#000" stroke-width="0.25" fill="#000">North diet</text>
<text x="0.0" y="0.0" font-size="17.7" text-anchor="middle" font-family="Liberation Serif" font-weight="bold" stroke="#000" stroke-width="0.25" fill="#000" transform="translate(24.2,321.8) rotate(-90)">Cd exposure</text>
<text x="0.0" y="0.0" font-size="19.5" text-anchor="middle" font-family="Liberation Serif" font-weight="bold" stroke="#000" stroke-width="0.25" fill="#000" transform="translate(45,323.5) rotate(-90)">(μg/kg)</text>
<text x="286.0" y="417.2" font-size="18.1" text-anchor="middle" font-family="Liberation Serif" font-weight="bold" stroke="#000" stroke-width="0.25" fill="#000">Soil Cd content (mg/kg)</text>
<g shape-rendering="crispEdges">
<rect x="532" y="256" width="4.0" height="4.3" fill="#04a700"/>
<rect x="536" y="256" width="4.0" height="4.3" fill="#05a800"/>
<rect x="540" y="256" width="4.0" height="4.3" fill="#06a800"/>
<rect x="544" y="256" width="4.0" height="4.3" fill="#07a800"/>
<rect x="548" y="256" width="4.0" height="4.3" fill="#08a900"/>
<rect x="552" y="256" width="4.0" height="4.3" fill="#09a900"/>
<rect x="556" y="256" width="4.0" height="4.3" fill="#0aa900"/>
<rect x="560" y="256" width="4.0" height="4.3" fill="#0baa00"/>
<rect x="564" y="256" width="4.0" height="4.3" fill="#0caa00"/>
<rect x="568" y="256" width="4.0" height="4.3" fill="#0dab00"/>
<rect x="572" y="256" width="4.0" height="4.3" fill="#0eab00"/>
<rect x="576" y="256" width="4.0" height="4.3" fill="#0fab00"/>
<rect x="580" y="256" width="4.0" height="4.3" fill="#10ac00"/>
<rect x="584" y="256" width="4.0" height="4.3" fill="#11ac00"/>
<rect x="588" y="256" width="4.0" height="4.3" fill="#12ac00"/>
<rect x="592" y="256" width="4.0" height="4.3" fill="#13ad00"/>
<rect x="596" y="256" width="4.0" height="4.3" fill="#14ad00"/>
<rect x="600" y="256" width="4.0" height="4.3" fill="#15ae00"/>
<rect x="604" y="256" width="4.0" height="4.3" fill="#16ae00"/>
<rect x="608" y="256" width="4.0" height="4.3" fill="#17ae00"/>
<rect x="612" y="256" width="4.0" height="4.3" fill="#19af00"/>
<rect x="616" y="256" width="4.0" height="4.3" fill="#1aaf00"/>
<rect x="620" y="256" width="4.0" height="4.3" fill="#1baf00"/>
<rect x="624" y="256" width="4.0" height="4.3" fill="#1cb000"/>
<rect x="628" y="256" width="4.0" height="4.3" fill="#1db000"/>
<rect x="632" y="256" width="4.0" height="4.3" fill="#1eb100"/>
<rect x="636" y="256" width="4.0" height="4.3" fill="#1fb100"/>
<rect x="640" y="256" width="4.0" height="4.3" fill="#20b100"/>
<rect x="644" y="256" width="4.0" height="4.3" fill="#21b200"/>
<rect x="648" y="256" width="4.0" height="4.3" fill="#22b200"/>
<rect x="652" y="256" width="4.0" height="4.3" fill="#24b200"/>
<rect x="656" y="256" width="4.0" height="4.3" fill="#25b300"/>
<rect x="660" y="256" width="4.0" height="4.3" fill="#26b300"/>
<rect x="664" y="256" width="4.0" height="4.3" fill="#27b400"/>
<rect x="668" y="256" width="4.0" height="4.3" fill="#28b400"/>
<rect x="672" y="256" width="4.0" height="4.3" fill="#29b400"/>
<rect x="676" y="256" width="4.0" height="4.3" fill="#2ab500"/>
<rect x="680" y="256" width="4.0" height="4.3" fill="#2bb500"/>
<rect x="684" y="256" width="4.0" height="4.3" fill="#2db500"/>
<rect x="688" y="256" width="4.0" height="4.3" fill="#2eb600"/>
<rect x="692" y="256" width="4.0" height="4.3" fill="#2fb600"/>
<rect x="696" y="256" width="4.0" height="4.3" fill="#30b700"/>
<rect x="700" y="256" width="4.0" height="4.3" fill="#31b700"/>
<rect x="704" y="256" width="4.0" height="4.3" fill="#32b700"/>
<rect x="708" y="256" width="4.0" height="4.3" fill="#34b800"/>
<rect x="712" y="256" width="4.0" height="4.3" fill="#35b800"/>
<rect x="716" y="256" width="4.0" height="4.3" fill="#36b800"/>
<rect x="720" y="256" width="4.0" height="4.3" fill="#37b900"/>
<rect x="724" y="256" width="4.0" height="4.3" fill="#38b900"/>
<rect x="728" y="256" width="4.0" height="4.3" fill="#39ba00"/>
<rect x="732" y="256" width="0.3" height="4.3" fill="#3aba00"/>
<rect x="532" y="260" width="4.0" height="4.3" fill="#04a700"/>
<rect x="536" y="260" width="4.0" height="4.3" fill="#05a800"/>
<rect x="540" y="260" width="4.0" height="4.3" fill="#06a800"/>
<rect x="544" y="260" width="4.0" height="4.3" fill="#07a800"/>
<rect x="548" y="260" width="4.0" height="4.3" fill="#08a900"/>
<rect x="552" y="260" width="4.0" height="4.3" fill="#0aa900"/>
<rect x="556" y="260" width="4.0" height="4.3" fill="#0baa00"/>
<rect x="560" y="260" width="4.0" height="4.3" fill="#0caa00"/>
<rect x="564" y="260" width="4.0" height="4.3" fill="#0dab00"/>
<rect x="568" y="260" width="4.0" height="4.3" fill="#0eab00"/>
<rect x="572" y="260" width="4.0" height="4.3" fill="#0fab00"/>
<rect x="576" y="260" width="4.0" height="4.3" fill="#10ac00"/>
<rect x="580" y="260" width="4.0" height="4.3" fill="#12ac00"/>
<rect x="584" y="260" width="4.0" height="4.3" fill="#13ad00"/>
<rect x="588" y="260" width="4.0" height="4.3" fill="#14ad00"/>
<rect x="592" y="260" width="4.0" height="4.3" fill="#15ae00"/>
<rect x="596" y="260" width="4.0" height="4.3" fill="#16ae00"/>
<rect x="600" y="260" width="4.0" height="4.3" fill="#18ae00"/>
<rect x="604" y="260" width="4.0" height="4.3" fill="#19af00"/>
<rect x="608" y="260" width="4.0" height="4.3" fill="#1aaf00"/>
<rect x="612" y="260" width="4.0" height="4.3" fill="#1bb000"/>
<rect x="616" y="260" width="4.0" height="4.3" fill="#1db000"/>
<rect x="620" y="260" width="4.0" height="4.3" fill="#1eb000"/>
<rect x="624" y="260" width="4.0" height="4.3" fill="#1fb100"/>
<rect x="628" y="260" width="4.0" height="4.3" fill="#20b100"/>
<rect x="632" y="260" width="4.0" height="4.3" fill="#21b200"/>
<rect x="636" y="260" width="4.0" height="4.3" fill="#23b200"/>
<rect x="640" y="260" width="4.0" height="4.3" fill="#24b300"/>
<rect x="644" y="260" width="4.0" height="4.3" fill="#25b300"/>
<rect x="648" y="260" width="4.0" height="4.3" fill="#27b300"/>
<rect x="652" y="260" width="4.0" height="4.3" fill="#28b400"/>
<rect x="656" y="260" width="4.0" height="4.3" fill="#29b400"/>
<rect x="660" y="260" width="4.0" height="4.3" fill="#2ab500"/>
<rect x="664" y="260" width="4.0" height="4.3" fill="#2cb500"/>
<rect x="668" y="260" width="4.0" height="4.3" fill="#2db600"/>
<rect x="672" y="260" width="4.0" height="4.3" fill="#2eb600"/>
<rect x="676" y="260" width="4.0" height="4.3" fill="#30b600"/>
<rect x="680" y="260" width="4.0" height="4.3" fill="#31b700"/>
<rect x="684" y="260" width="4.0" height="4.3" fill="#32b700"/>
<rect x="688" y="260" width="4.0" height="4.3" fill="#34b800"/>
<rect x="692" y="260" width="4.0" height="4.3" fill="#35b800"/>
<rect x="696" y="260" width="4.0" height="4.3" fill="#36b800"/>
<rect x="700" y="260" width="4.0" height="4.3" fill="#38b900"/>
<rect x="704" y="260" width="4.0" height="4.3" fill="#39b900"/>
<rect x="708" y="260" width="4.0" height="4.3" fill="#3aba00"/>
<rect x="712" y="260" width="4.0" height="4.3" fill="#3bba00"/>
<rect x="716" y="260" width="4.0" height="4.3" fill="#3dba00"/>
<rect x="720" y="260" width="4.0" height="4.3" fill="#3ebb00"/>
<rect x="724" y="260" width="4.0" height="4.3" fill="#3fbb00"/>
<rect x="728" y="260" width="4.0" height="4.3" fill="#40bc00"/>
<rect x="732" y="260" width="0.3" height="4.3" fill="#41bc00"/>
<rect x="532" y="264" width="4.0" height="4.3" fill="#04a700"/>
<rect x="536" y="264" width="4.0" height="4.3" fill="#05a800"/>
<rect x="540" y="264" width="4.0" height="4.3" fill="#06a800"/>
<rect x="544" y="264" width="4.0" height="4.3" fill="#08a900"/>
<rect x="548" y="264" width="4.0" height="4.3" fill="#09a900"/>
<rect x="552" y="264" width="4.0" height="4.3" fill="#0aaa00"/>
<rect x="556" y="264" width="4.0" height="4.3" fill="#0caa00"/>
<rect x="560" y="264" width="4.0" height="4.3" fill="#0dab00"/>
<rect x="564" y="264" width="4.0" height="4.3" fill="#0eab00"/>
<rect x="568" y="264" width="4.0" height="4.3" fill="#10ac00"/>
<rect x="572" y="264" width="4.0" height="4.3" fill="#11ac00"/>
<rect x="576" y="264" width="4.0" height="4.3" fill="#12ac00"/>
<rect x="580" y="264" width="4.0" height="4.3" fill="#14ad00"/>
<rect x="584" y="264" width="4.0" height="4.3" fill="#15ad00"/>
<rect x="588" y="264" width="4.0" height="4.3" fill="#16ae00"/>
<rect x="592" y="264" width="4.0" height="4.3" fill="#18ae00"/>
<rect x="596" y="264" width="4.0" height="4.3" fill="#19af00"/>
<rect x="600" y="264" width="4.0" height="4.3" fill="#1aaf00"/>
<rect x="604" y="264" width="4.0" height="4.3" fill="#1cb000"/>
<rect x="608" y="264" width="4.0" height="4.3" fill="#1db000"/>
<rect x="612" y="264" width="4.0" height="4.3" fill="#1eb100"/>
<rect x="616" y="264" width="4.0" height="4.3" fill="#20b100"/>
<rect x="620" y="264" width="4.0" height="4.3" fill="#21b200"/>
<rect x="624" y="264" width="4.0" height="4.3" fill="#23b200"/>
<rect x="628" y="264" width="4.0" height="4.3" fill="#24b300"/>
<rect x="632" y="264" width="4.0" height="4.3" fill="#26b300"/>
<rect x="636" y="264" width="4.0" height="4.3" fill="#27b400"/>
<rect x="640" y="264" width="4.0" height="4.3" fill="#28b400"/>
<rect x="644" y="264" width="4.0" height="4.3" fill="#2ab500"/>
<rect x="648" y="264" width="4.0" height="4.3" fill="#2bb500"/>
<rect x="652" y="264" width="4.0" height="4.3" fill="#2db500"/>
<rect x="656" y="264" width="4.0" height="4.3" fill="#2eb600"/>
<rect x="660" y="264" width="4.0" height="4.3" fill="#30b600"/>
<rect x="664" y="264" width="4.0" height="4.3" fill="#31b700"/>
<rect x="668" y="264" width="4.0" height="4.3" fill="#33b700"/>
<rect x="672" y="264" width="4.0" height="4.3" fill="#34b800"/>
<rect x="676" y="264" width="4.0" height="4.3" fill="#36b800"/>
<rect x="680" y="264" width="4.0" height="4.3" fill="#37b900"/>
<rect x="684" y="264" width="4.0" height="4.3" fill="#39b900"/>
<rect x="688" y="264" width="4.0" height="4.3" fill="#3aba00"/>
<rect x="692" y="264" width="4.0" height="4.3" fill="#3bba00"/>
<rect x="696" y="264" width="4.0" height="4.3" fill="#3dbb00"/>
<rect x="700" y="264" width="4.0" height="4.3" fill="#3ebb00"/>
<rect x="704" y="264" width="4.0" height="4.3" fill="#40bb00"/>
<rect x="708" y="264" width="4.0" height="4.3" fill="#41bc00"/>
<rect x="712" y="264" width="4.0" height="4.3" fill="#43bc00"/>
<rect x="716" y="264" width="4.0" height="4.3" fill="#44bd00"/>
<rect x="720" y="264" width="4.0" height="4.3" fill="#46bd00"/>
<rect x="724" y="264" width="4.0" height="4.3" fill="#47be00"/>
<rect x="728" y="264" width="4.0" height="4.3" fill="#48be00"/>
<rect x="732" y="264" width="0.3" height="4.3" fill="#49be00"/>
<rect x="532" y="268" width="4.0" height="4.3" fill="#04a700"/>
<rect x="536" y="268" width="4.0" height="4.3" fill="#05a800"/>
<rect x="540" y="268" width="4.0" height="4.3" fill="#07a800"/>
<rect x="544" y="268" width="4.0" height="4.3" fill="#08a900"/>
<rect x="548" y="268" width="4.0" height="4.3" fill="#0aa900"/>
<rect x="552" y="268" width="4.0" height="4.3" fill="#0baa00"/>
<rect x="556" y="268" width="4.0" height="4.3" fill="#0daa00"/>
<rect x="560" y="268" width="4.0" height="4.3" fill="#0eab00"/>
<rect x="564" y="268" width="4.0" height="4.3" fill="#10ac00"/>
<rect x="568" y="268" width="4.0" height="4.3" fill="#11ac00"/>
<rect x="572" y="268" width="4.0" height="4.3" fill="#13ad00"/>
<rect x="576" y="268" width="4.0" height="4.3" fill="#14ad00"/>
<rect x="580" y="268" width="4.0" height="4.3" fill="#16ae00"/>
<rect x="584" y="268" width="4.0" height="4.3" fill="#17ae00"/>
<rect x="588" y="268" width="4.0" height="4.3" fill="#19af00"/>
<rect x="592" y="268" width="4.0" height="4.3" fill="#1aaf00"/>
<rect x="596" y="268" width="4.0" height="4.3" fill="#1cb000"/>
<rect x="600" y="268" width="4.0" height="4.3" fill="#1db000"/>
<rect x="604" y="268" width="4.0" height="4.3" fill="#1fb100"/>
<rect x="608" y="268" width="4.0" height="4.3" fill="#20b100"/>
<rect x="612" y="268" width="4.0" height="4.3" fill="#22b200"/>
<rect x="616" y="268" width="4.0" height="4.3" fill="#24b200"/>
<rect x="620" y="268" width="4.0" height="4.3" fill="#25b300"/>
<rect x="624" y="268" width="4.0" height="4.3" fill="#27b400"/>
<rect x="628" y="268" width="4.0" height="4.3" fill="#28b400"/>
<rect x="632" y="268" width="4.0" height="4.3" fill="#2ab500"/>
<rect x="636" y="268" width="4.0" height="4.3" fill="#2cb500"/>
<rect x="640" y="268" width="4.0" height="4.3" fill="#2db600"/>
<rect x="644" y="268" width="4.0" height="4.3" fill="#2fb600"/>
<rect x="648" y="268" width="4.0" height="4.3" fill="#31b700"/>
<rect x="652" y="268" width="4.0" height="4.3" fill="#32b700"/>
<rect x="656" y="268" width="4.0" height="4.3" fill="#34b800"/>
<rect x="660" y="268" width="4.0" height="4.3" fill="#36b800"/>
<rect x="664" y="268" width="4.0" height="4.3" fill="#37b900"/>
<rect x="668" y="268" width="4.0" height="4.3" fill="#39b900"/>
<rect x="672" y="268" width="4.0" height="4.3" fill="#3bba00"/>
<rect x="676" y="268" width="4.0" height="4.3" fill="#3cba00"/>
<rect x="680" y="268" width="4.0" height="4.3" fill="#3ebb00"/>
<rect x="684" y="268" width="4.0" height="4.3" fill="#3fbb00"/>
<rect x="688" y="268" width="4.0" height="4.3" fill="#41bc00"/>
<rect x="692" y="268" width="4.0" height="4.3" fill="#43bc00"/>
<rect x="696" y="268" width="4.0" height="4.3" fill="#44bd00"/>
<rect x="700" y="268" width="4.0" height="4.3" fill="#46bd00"/>
<rect x="704" y="268" width="4.0" height="4.3" fill="#48be00"/>
<rect x="708" y="268" width="4.0" height="4.3" fill="#49be00"/>
<rect x="712" y="268" width="4.0" height="4.3" fill="#4bbf00"/>
<rect x="716" y="268" width="4.0" height="4.3" fill="#4dbf00"/>
<rect x="720" y="268" width="4.0" height="4.3" fill="#4ec000"/>
<rect x="724" y="268" width="4.0" height="4.3" fill="#50c000"/>
<rect x="728" y="268" width="4.0" height="4.3" fill="#52c100"/>
<rect x="732" y="268" width="0.3" height="4.3" fill="#53c100"/>
<rect x="532" y="272" width="4.0" height="4.3" fill="#04a700"/>
<rect x="536" y="272" width="4.0" height="4.3" fill="#06a800"/>
<rect x="540" y="272" width="4.0" height="4.3" fill="#07a900"/>
<rect x="544" y="272" width="4.0" height="4.3" fill="#09a900"/>
<rect x="548" y="272" width="4.0" height="4.3" fill="#0baa00"/>
<rect x="552" y="272" width="4.0" height="4.3" fill="#0caa00"/>
<rect x="556" y="272" width="4.0" height="4.3" fill="#0eab00"/>
<rect x="560" y="272" width="4.0" height="4.3" fill="#10ac00"/>
<rect x="564" y="272" width="4.0" height="4.3" fill="#11ac00"/>
<rect x="568" y="272" width="4.0" height="4.3" fill="#13ad00"/>
<rect x="572" y="272" width="4.0" height="4.3" fill="#15ad00"/>
<rect x="576" y="272" width="4.0" height="4.3" fill="#16ae00"/>
<rect x="580" y="272" width="4.0" height="4.3" fill="#18af00"/>
<rect x="584" y="272" width="4.0" height="4.3" fill="#1aaf00"/>
<rect x="588" y="272" width="4.0" height="4.3" fill="#1bb000"/>
<rect x="592" y="272" width="4.0" height="4.3" fill="#1db000"/>
<rect x="596" y="272" width="4.0" height="4.3" fill="#1fb100"/>
<rect x="600" y="272" width="4.0" height="4.3" fill="#21b200"/>
<rect x="604" y="272" width="4.0" height="4.3" fill="#23b200"/>
<rect x="608" y="272" width="4.0" height="4.3" fill="#24b300"/>
<rect x="612" y="272" width="4.0" height="4.3" fill="#26b300"/>
<rect x="616" y="272" width="4.0" height="4.3" fill="#28b400"/>
<rect x="620" y="272" width="4.0" height="4.3" fill="#2ab500"/>
<rect x="624" y="272" width="4.0" height="4.3" fill="#2cb500"/>
<rect x="628" y="272" width="4.0" height="4.3" fill="#2db600"/>
<rect x="632" y="272" width="4.0" height="4.3" fill="#2fb600"/>
<rect x="636" y="272" width="4.0" height="4.3" fill="#31b700"/>
<rect x="640" y="272" width="4.0" height="4.3" fill="#33b700"/>
<rect x="644" y="272" width="4.0" height="4.3" fill="#35b800"/>
<rect x="648" y="272" width="4.0" height="4.3" fill="#37b900"/>
<rect x="652" y="272" width="4.0" height="4.3" fill="#39b900"/>
<rect x="656" y="272" width="4.0" height="4.3" fill="#3aba00"/>
<rect x="660" y="272" width="4.0" height="4.3" fill="#3cba00"/>
<rect x="664" y="272" width="4.0" height="4.3" fill="#3ebb00"/>
<rect x="668" y="272" width="4.0" height="4.3" fill="#40bb00"/>
<rect x="672" y="272" width="4.0" height="4.3" fill="#42bc00"/>
<rect x="676" y="272" width="4.0" height="4.3" fill="#44bd00"/>
<rect x="680" y="272" width="4.0" height="4.3" fill="#45bd00"/>
<rect x="684" y="272" width="4.0" height="4.3" fill="#47be00"/>
<rect x="688" y="272" width="4.0" height="4.3" fill="#49be00"/>
<rect x="692" y="272" width="4.0" height="4.3" fill="#4bbf00"/>
<rect x="696" y="272" width="4.0" height="4.3" fill="#4dbf00"/>
<rect x="700" y="272" width="4.0" height="4.3" fill="#4fc000"/>
<rect x="704" y="272" width="4.0" height="4.3" fill="#51c000"/>
<rect x="708" y="272" width="4.0" height="4.3" fill="#53c100"/>
<rect x="712" y="272" width="4.0" height="4.3" fill="#55c200"/>
<rect x="716" y="272" width="4.0" height="4.3" fill="#57c200"/>
<rect x="720" y="272" width="4.0" height="4.3" fill="#58c300"/>
<rect x="724" y="272" width="4.0" height="4.3" fill="#5ac300"/>
<rect x="728" y="272" width="4.0" height="4.3" fill="#5cc400"/>
<rect x="732" y="272" width="0.3" height="4.3" fill="#5ec400"/>
<rect x="532" y="276" width="4.0" height="4.3" fill="#04a700"/>
<rect x="536" y="276" width="4.0" height="4.3" fill="#06a800"/>
<rect x="540" y="276" width="4.0" height="4.3" fill="#08a900"/>
<rect x="544" y="276" width="4.0" height="4.3" fill="#0aa900"/>
<rect x="548" y="276" width="4.0" height="4.3" fill="#0baa00"/>
<rect x="552" y="276" width="4.0" height="4.3" fill="#0dab00"/>
<rect x="556" y="276" width="4.0" height="4.3" fill="#0fab00"/>
<rect x="560" y="276" width="4.0" height="4.3" fill="#11ac00"/>
<rect x="564" y="276" width="4.0" height="4.3" fill="#13ad00"/>
<rect x="568" y="276" width="4.0" height="4.3" fill="#15ad00"/>
<rect x="572" y="276" width="4.0" height="4.3" fill="#17ae00"/>
<rect x="576" y="276" width="4.0" height="4.3" fill="#19af00"/>
<rect x="580" y="276" width="4.0" height="4.3" fill="#1baf00"/>
<rect x="584" y="276" width="4.0" height="4.3" fill="#1db000"/>
<rect x="588" y="276" width="4.0" height="4.3" fill="#1fb100"/>
<rect x="592" y="276" width="4.0" height="4.3" fill="#21b100"/>
<rect x="596" y="276" width="4.0" height="4.3" fill="#23b200"/>
<rect x="600" y="276" width="4.0" height="4.3" fill="#25b300"/>
<rect x="604" y="276" width="4.0" height="4.3" fill="#27b300"/>
<rect x="608" y="276" width="4.0" height="4.3" fill="#29b400"/>
<rect x="612" y="276" width="4.0" height="4.3" fill="#2bb500"/>
<rect x="616" y="276" width="4.0" height="4.3" fill="#2db600"/>
<rect x="620" y="276" width="4.0" height="4.3" fill="#2fb600"/>
<rect x="624" y="276" width="4.0" height="4.3" fill="#31b700"/>
<rect x="628" y="276" width="4.0" height="4.3" fill="#33b800"/>
<rect x="632" y="276" width="4.0" height="4.3" fill="#35b800"/>
<rect x="636" y="276" width="4.0" height="4.3" fill="#37b900"/>
<rect x="640" y="276" width="4.0" height="4.3" fill="#39b900"/>
<rect x="644" y="276" width="4.0" height="4.3" fill="#3bba00"/>
<rect x="648" y="276" width="4.0" height="4.3" fill="#3ebb00"/>
<rect x="652" y="276" width="4.0" height="4.3" fill="#40bb00"/>
<rect x="656" y="276" width="4.0" height="4.3" fill="#42bc00"/>
<rect x="660" y="276" width="4.0" height="4.3" fill="#44bd00"/>
<rect x="664" y="276" width="4.0" height="4.3" fill="#46bd00"/>
<rect x="668" y="276" width="4.0" height="4.3" fill="#48be00"/>
<rect x="672" y="276" width="4.0" height="4.3" fill="#4abf00"/>
<rect x="676" y="276" width="4.0" height="4.3" fill="#4cbf00"/>
<rect x="680" y="276" width="4.0" height="4.3" fill="#4ec000"/>
<rect x="684" y="276" width="4.0" height="4.3" fill="#50c000"/>
<rect x="688" y="276" width="4.0" height="4.3" fill="#53c100"/>
<rect x="692" y="276" width="4.0" height="4.3" fill="#55c200"/>
<rect x="696" y="276" width="4.0" height="4.3" fill="#57c200"/>
<rect x="700" y="276" width="4.0" height="4.3" fill="#59c300"/>
<rect x="704" y="276" width="4.0" height="4.3" fill="#5bc400"/>
<rect x="708" y="276" width="4.0" height="4.3" fill="#5dc400"/>
<rect x="712" y="276" width="4.0" height="4.3" fill="#60c500"/>
<rect x="716" y="276" width="4.0" height="4.3" fill="#62c500"/>
<rect x="720" y="276" width="4.0" height="4.3" fill="#64c600"/>
<rect x="724" y="276" width="4.0" height="4.3" fill="#66c700"/>
<rect x="728" y="276" width="4.0" height="4.3" fill="#69c700"/>
<rect x="732" y="276" width="0.3" height="4.3" fill="#6ac800"/>
<rect x="532" y="280" width="4.0" height="4.3" fill="#04a700"/>
<rect x="536" y="280" width="4.0" height="4.3" fill="#06a800"/>
<rect x="540" y="280" width="4.0" height="4.3" fill="#08a900"/>
<rect x="544" y="280" width="4.0" height="4.3" fill="#0aaa00"/>
<rect x="548" y="280" width="4.0" height="4.3" fill="#0daa00"/>
<rect x="552" y="280" width="4.0" height="4.3" fill="#0fab00"/>
<rect x="556" y="280" width="4.0" height="4.3" fill="#11ac00"/>
<rect x="560" y="280" width="4.0" height="4.3" fill="#13ad00"/>
<rect x="564" y="280" width="4.0" height="4.3" fill="#15ad00"/>
<rect x="568" y="280" width="4.0" height="4.3" fill="#17ae00"/>
<rect x="572" y="280" width="4.0" height="4.3" fill="#19af00"/>
<rect x="576" y="280" width="4.0" height="4.3" fill="#1cb000"/>
<rect x="580" y="280" width="4.0" height="4.3" fill="#1eb000"/>
<rect x="584" y="280" width="4.0" height="4.3" fill="#20b100"/>
<rect x="588" y="280" width="4.0" height="4.3" fill="#22b200"/>
<rect x="592" y="280" width="4.0" height="4.3" fill="#25b300"/>
<rect x="596" y="280" width="4.0" height="4.3" fill="#27b400"/>
<rect x="600" y="280" width="4.0" height="4.3" fill="#29b400"/>
<rect x="604" y="280" width="4.0" height="4.3" fill="#2bb500"/>
<rect x="608" y="280" width="4.0" height="4.3" fill="#2eb600"/>
<rect x="612" y="280" width="4.0" height="4.3" fill="#30b700"/>
<rect x="616" y="280" width="4.0" height="4.3" fill="#32b700"/>
<rect x="620" y="280" width="4.0" height="4.3" fill="#35b800"/>
<rect x="624" y="280" width="4.0" height="4.3" fill="#37b900"/>
<rect x="628" y="280" width="4.0" height="4.3" fill="#3aba00"/>
<rect x="632" y="280" width="4.0" height="4.3" fill="#3cba00"/>
<rect x="636" y="280" width="4.0" height="4.3" fill="#3ebb00"/>
<rect x="640" y="280" width="4.0" height="4.3" fill="#40bc00"/>
<rect x="644" y="280" width="4.0" height="4.3" fill="#43bc00"/>
<rect x="648" y="280" width="4.0" height="4.3" fill="#45bd00"/>
<rect x="652" y="280" width="4.0" height="4.3" fill="#47be00"/>
<rect x="656" y="280" width="4.0" height="4.3" fill="#4abe00"/>
<rect x="660" y="280" width="4.0" height="4.3" fill="#4cbf00"/>
<rect x="664" y="280" width="4.0" height="4.3" fill="#4fc000"/>
<rect x="668" y="280" width="4.0" height="4.3" fill="#51c100"/>
<rect x="672" y="280" width="4.0" height="4.3" fill="#53c100"/>
<rect x="676" y="280" width="4.0" height="4.3" fill="#56c200"/>
<rect x="680" y="280" width="4.0" height="4.3" fill="#58c300"/>
<rect x="684" y="280" width="4.0" height="4.3" fill="#5bc300"/>
<rect x="688" y="280" width="4.0" height="4.3" fill="#5dc400"/>
<rect x="692" y="280" width="4.0" height="4.3" fill="#60c500"/>
<rect x="696" y="280" width="4.0" height="4.3" fill="#62c500"/>
<rect x="700" y="280" width="4.0" height="4.3" fill="#65c600"/>
<rect x="704" y="280" width="4.0" height="4.3" fill="#67c700"/>
<rect x="708" y="280" width="4.0" height="4.3" fill="#6ac800"/>
<rect x="712" y="280" width="4.0" height="4.3" fill="#6cc800"/>
<rect x="716" y="280" width="4.0" height="4.3" fill="#6fc900"/>
<rect x="720" y="280" width="4.0" height="4.3" fill="#71c900"/>
<rect x="724" y="280" width="4.0" height="4.3" fill="#73ca00"/>
<rect x="728" y="280" width="4.0" height="4.3" fill="#75cb00"/>
<rect x="732" y="280" width="0.3" height="4.3" fill="#77cb00"/>
<rect x="532" y="284" width="4.0" height="4.3" fill="#04a700"/>
<rect x="536" y="284" width="4.0" height="4.3" fill="#07a800"/>
<rect x="540" y="284" width="4.0" height="4.3" fill="#09a900"/>
<rect x="544" y="284" width="4.0" height="4.3" fill="#0baa00"/>
<rect x="548" y="284" width="4.0" height="4.3" fill="#0eab00"/>
<rect x="552" y="284" width="4.0" height="4.3" fill="#10ac00"/>
<rect x="556" y="284" width="4.0" height="4.3" fill="#12ad00"/>
<rect x="560" y="284" width="4.0" height="4.3" fill="#15ad00"/>
<rect x="564" y="284" width="4.0" height="4.3" fill="#17ae00"/>
<rect x="568" y="284" width="4.0" height="4.3" fill="#1aaf00"/>
<rect x="572" y="284" width="4.0" height="4.3" fill="#1cb000"/>
<rect x="576" y="284" width="4.0" height="4.3" fill="#1fb100"/>
<rect x="580" y="284" width="4.0" height="4.3" fill="#21b200"/>
<rect x="584" y="284" width="4.0" height="4.3" fill="#24b300"/>
<rect x="588" y="284" width="4.0" height="4.3" fill="#26b300"/>
<rect x="592" y="284" width="4.0" height="4.3" fill="#29b400"/>
<rect x="596" y="284" width="4.0" height="4.3" fill="#2cb500"/>
<rect x="600" y="284" width="4.0" height="4.3" fill="#2eb600"/>
<rect x="604" y="284" width="4.0" height="4.3" fill="#31b700"/>
<rect x="608" y="284" width="4.0" height="4.3" fill="#34b800"/>
<rect x="612" y="284" width="4.0" height="4.3" fill="#36b800"/>
<rect x="616" y="284" width="4.0" height="4.3" fill="#39b900"/>
<rect x="620" y="284" width="4.0" height="4.3" fill="#3bba00"/>
<rect x="624" y="284" width="4.0" height="4.3" fill="#3ebb00"/>
<rect x="628" y="284" width="4.0" height="4.3" fill="#41bc00"/>
<rect x="632" y="284" width="4.0" height="4.3" fill="#43bc00"/>
<rect x="636" y="284" width="4.0" height="4.3" fill="#46bd00"/>
<rect x="640" y="284" width="4.0" height="4.3" fill="#48be00"/>
<rect x="644" y="284" width="4.0" height="4.3" fill="#4bbf00"/>
<rect x="648" y="284" width="4.0" height="4.3" fill="#4ec000"/>
<rect x="652" y="284" width="4.0" height="4.3" fill="#51c000"/>
<rect x="656" y="284" width="4.0" height="4.3" fill="#53c100"/>
<rect x="660" y="284" width="4.0" height="4.3" fill="#56c200"/>
<rect x="664" y="284" width="4.0" height="4.3" fill="#59c300"/>
<rect x="668" y="284" width="4.0" height="4.3" fill="#5cc400"/>
<rect x="672" y="284" width="4.0" height="4.3" fill="#5ec400"/>
<rect x="676" y="284" width="4.0" height="4.3" fill="#61c500"/>
<rect x="680" y="284" width="4.0" height="4.3" fill="#64c600"/>
<rect x="684" y="284" width="4.0" height="4.3" fill="#67c700"/>
<rect x="688" y="284" width="4.0" height="4.3" fill="#6ac800"/>
<rect x="692" y="284" width="4.0" height="4.3" fill="#6dc800"/>
<rect x="696" y="284" width="4.0" height="4.3" fill="#6fc900"/>
<rect x="700" y="284" width="4.0" height="4.3" fill="#72ca00"/>
<rect x="704" y="284" width="4.0" height="4.3" fill="#74ca00"/>
<rect x="708" y="284" width="4.0" height="4.3" fill="#77cb00"/>
<rect x="712" y="284" width="4.0" height="4.3" fill="#79cc00"/>
<rect x="716" y="284" width="4.0" height="4.3" fill="#7ccc00"/>
<rect x="720" y="284" width="4.0" height="4.3" fill="#7ecd00"/>
<rect x="724" y="284" width="4.0" height="4.3" fill="#81ce00"/>
<rect x="728" y="284" width="4.0" height="4.3" fill="#83ce00"/>
<rect x="732" y="284" width="0.3" height="4.3" fill="#85cf00"/>
<rect x="532" y="288" width="4.0" height="4.3" fill="#05a800"/>
<rect x="536" y="288" width="4.0" height="4.3" fill="#07a800"/>
<rect x="540" y="288" width="4.0" height="4.3" fill="#0aa900"/>
<rect x="544" y="288" width="4.0" height="4.3" fill="#0caa00"/>
<rect x="548" y="288" width="4.0" height="4.3" fill="#0fab00"/>
<rect x="552" y="288" width="4.0" height="4.3" fill="#12ac00"/>
<rect x="556" y="288" width="4.0" height="4.3" fill="#14ad00"/>
<rect x="560" y="288" width="4.0" height="4.3" fill="#17ae00"/>
<rect x="564" y="288" width="4.0" height="4.3" fill="#1aaf00"/>
<rect x="568" y="288" width="4.0" height="4.3" fill="#1db000"/>
<rect x="572" y="288" width="4.0" height="4.3" fill="#1fb100"/>
<rect x="576" y="288" width="4.0" height="4.3" fill="#22b200"/>
<rect x="580" y="288" width="4.0" height="4.3" fill="#25b300"/>
<rect x="584" y="288" width="4.0" height="4.3" fill="#28b400"/>
<rect x="588" y="288" width="4.0" height="4.3" fill="#2bb500"/>
<rect x="592" y="288" width="4.0" height="4.3" fill="#2eb600"/>
<rect x="596" y="288" width="4.0" height="4.3" fill="#31b700"/>
<rect x="600" y="288" width="4.0" height="4.3" fill="#34b800"/>
<rect x="604" y="288" width="4.0" height="4.3" fill="#37b900"/>
<rect x="608" y="288" width="4.0" height="4.3" fill="#3aba00"/>
<rect x="612" y="288" width="4.0" height="4.3" fill="#3dbb00"/>
<rect x="616" y="288" width="4.0" height="4.3" fill="#40bb00"/>
<rect x="620" y="288" width="4.0" height="4.3" fill="#43bc00"/>
<rect x="624" y="288" width="4.0" height="4.3" fill="#46bd00"/>
<rect x="628" y="288" width="4.0" height="4.3" fill="#49be00"/>
<rect x="632" y="288" width="4.0" height="4.3" fill="#4cbf00"/>
<rect x="636" y="288" width="4.0" height="4.3" fill="#4fc000"/>
<rect x="640" y="288" width="4.0" height="4.3" fill="#52c100"/>
<rect x="644" y="288" width="4.0" height="4.3" fill="#55c200"/>
<rect x="648" y="288" width="4.0" height="4.3" fill="#58c300"/>
<rect x="652" y="288" width="4.0" height="4.3" fill="#5bc300"/>
<rect x="656" y="288" width="4.0" height="4.3" fill="#5ec400"/>
<rect x="660" y="288" width="4.0" height="4.3" fill="#61c500"/>
<rect x="664" y="288" width="4.0" height="4.3" fill="#65c600"/>
<rect x="668" y="288" width="4.0" height="4.3" fill="#68c700"/>
<rect x="672" y="288" width="4.0" height="4.3" fill="#6bc800"/>
<rect x="676" y="288" width="4.0" height="4.3" fill="#6ec900"/>
<rect x="680" y="288" width="4.0" height="4.3" fill="#71c900"/>
<rect x="684" y="288" width="4.0" height="4.3" fill="#74ca00"/>
<rect x="688" y="288" width="4.0" height="4.3" fill="#76cb00"/>
<rect x="692" y="288" width="4.0" height="4.3" fill="#79cc00"/>
<rect x="696" y="288" width="4.0" height="4.3" fill="#7ccc00"/>
<rect x="700" y="288" width="4.0" height="4.3" fill="#7fcd00"/>
<rect x="704" y="288" width="4.0" height="4.3" fill="#82ce00"/>
<rect x="708" y="288" width="4.0" height="4.3" fill="#85cf00"/>
<rect x="712" y="288" width="4.0" height="4.3" fill="#88cf00"/>
<rect x="716" y="288" width="4.0" height="4.3" fill="#8bd000"/>
<rect x="720" y="288" width="4.0" height="4.3" fill="#8ed100"/>
<rect x="724" y="288" width="4.0" height="4.3" fill="#91d200"/>
<rect x="728" y="288" width="4.0" height="4.3" fill="#94d200"/>
<rect x="732" y="288" width="0.3" height="4.3" fill="#95d300"/>
<rect x="532" y="292" width="4.0" height="4.3" fill="#05a800"/>
<rect x="536" y="292" width="4.0" height="4.3" fill="#07a900"/>
<rect x="540" y="292" width="4.0" height="4.3" fill="#0aaa00"/>
<rect x="544" y="292" width="4.0" height="4.3" fill="#0dab00"/>
<rect x="548" y="292" width="4.0" height="4.3" fill="#10ac00"/>
<rect x="552" y="292" width="4.0" height="4.3" fill="#13ad00"/>
<rect x="556" y="292" width="4.0" height="4.3" fill="#15ae00"/>
<rect x="560" y="292" width="4.0" height="4.3" fill="#18af00"/>
<rect x="564" y="292" width="4.0" height="4.3" fill="#1bb000"/>
<rect x="568" y="292" width="4.0" height="4.3" fill="#1eb100"/>
<rect x="572" y="292" width="4.0" height="4.3" fill="#21b200"/>
<rect x="576" y="292" width="4.0" height="4.3" fill="#24b300"/>
<rect x="580" y="292" width="4.0" height="4.3" fill="#27b400"/>
<rect x="584" y="292" width="4.0" height="4.3" fill="#2bb500"/>
<rect x="588" y="292" width="4.0" height="4.3" fill="#2eb600"/>
<rect x="592" y="292" width="4.0" height="4.3" fill="#31b700"/>
<rect x="596" y="292" width="4.0" height="4.3" fill="#34b800"/>
<rect x="600" y="292" width="4.0" height="4.3" fill="#37b900"/>
<rect x="604" y="292" width="4.0" height="4.3" fill="#3aba00"/>
<rect x="608" y="292" width="4.0" height="4.3" fill="#3dbb00"/>
<rect x="612" y="292" width="4.0" height="4.3" fill="#40bc00"/>
<rect x="616" y="292" width="4.0" height="4.3" fill="#44bd00"/>
<rect x="620" y="292" width="4.0" height="4.3" fill="#47be00"/>
<rect x="624" y="292" width="4.0" height="4.3" fill="#4abe00"/>
<rect x="628" y="292" width="4.0" height="4.3" fill="#4dbf00"/>
<rect x="632" y="292" width="4.0" height="4.3" fill="#50c000"/>
<rect x="636" y="292" width="4.0" height="4.3" fill="#54c100"/>
<rect x="640" y="292" width="4.0" height="4.3" fill="#57c200"/>
<rect x="644" y="292" width="4.0" height="4.3" fill="#5ac300"/>
<rect x="648" y="292" width="4.0" height="4.3" fill="#5dc400"/>
<rect x="652" y="292" width="4.0" height="4.3" fill="#61c500"/>
<rect x="656" y="292" width="4.0" height="4.3" fill="#64c600"/>
<rect x="660" y="292" width="4.0" height="4.3" fill="#68c700"/>
<rect x="664" y="292" width="4.0" height="4.3" fill="#6bc800"/>
<rect x="668" y="292" width="4.0" height="4.3" fill="#6ec900"/>
<rect x="672" y="292" width="4.0" height="4.3" fill="#71ca00"/>
<rect x="676" y="292" width="4.0" height="4.3" fill="#74ca00"/>
<rect x="680" y="292" width="4.0" height="4.3" fill="#77cb00"/>
<rect x="684" y="292" width="4.0" height="4.3" fill="#7acc00"/>
<rect x="688" y="292" width="4.0" height="4.3" fill="#7dcd00"/>
<rect x="692" y="292" width="4.0" height="4.3" fill="#80ce00"/>
<rect x="696" y="292" width="4.0" height="4.3" fill="#83ce00"/>
<rect x="700" y="292" width="4.0" height="4.3" fill="#86cf00"/>
<rect x="704" y="292" width="4.0" height="4.3" fill="#8ad000"/>
<rect x="708" y="292" width="4.0" height="4.3" fill="#8dd100"/>
<rect x="712" y="292" width="4.0" height="4.3" fill="#90d200"/>
<rect x="716" y="292" width="4.0" height="4.3" fill="#93d200"/>
<rect x="720" y="292" width="4.0" height="4.3" fill="#96d300"/>
<rect x="724" y="292" width="4.0" height="4.3" fill="#99d400"/>
<rect x="728" y="292" width="4.0" height="4.3" fill="#9dd500"/>
<rect x="732" y="292" width="0.3" height="4.3" fill="#9fd500"/>
<rect x="532" y="296" width="4.0" height="4.3" fill="#05a800"/>
<rect x="536" y="296" width="4.0" height="4.3" fill="#08a900"/>
<rect x="540" y="296" width="4.0" height="4.3" fill="#0baa00"/>
<rect x="544" y="296" width="4.0" height="4.3" fill="#0eab00"/>
<rect x="548" y="296" width="4.0" height="4.3" fill="#10ac00"/>
<rect x="552" y="296" width="4.0" height="4.3" fill="#14ad00"/>
<rect x="556" y="296" width="4.0" height="4.3" fill="#17ae00"/>
<rect x="560" y="296" width="4.0" height="4.3" fill="#1aaf00"/>
<rect x="564" y="296" width="4.0" height="4.3" fill="#1db000"/>
<rect x="568" y="296" width="4.0" height="4.3" fill="#20b100"/>
<rect x="572" y="296" width="4.0" height="4.3" fill="#23b200"/>
<rect x="576" y="296" width="4.0" height="4.3" fill="#26b300"/>
<rect x="580" y="296" width="4.0" height="4.3" fill="#2ab400"/>
<rect x="584" y="296" width="4.0" height="4.3" fill="#2db600"/>
<rect x="588" y="296" width="4.0" height="4.3" fill="#30b700"/>
<rect x="592" y="296" width="4.0" height="4.3" fill="#34b800"/>
<rect x="596" y="296" width="4.0" height="4.3" fill="#37b900"/>
<rect x="600" y="296" width="4.0" height="4.3" fill="#3aba00"/>
<rect x="604" y="296" width="4.0" height="4.3" fill="#3ebb00"/>
<rect x="608" y="296" width="4.0" height="4.3" fill="#41bc00"/>
<rect x="612" y="296" width="4.0" height="4.3" fill="#44bd00"/>
<rect x="616" y="296" width="4.0" height="4.3" fill="#48be00"/>
<rect x="620" y="296" width="4.0" height="4.3" fill="#4bbf00"/>
<rect x="624" y="296" width="4.0" height="4.3" fill="#4ec000"/>
<rect x="628" y="296" width="4.0" height="4.3" fill="#52c100"/>
<rect x="632" y="296" width="4.0" height="4.3" fill="#55c200"/>
<rect x="636" y="296" width="4.0" height="4.3" fill="#59c300"/>
<rect x="640" y="296" width="4.0" height="4.3" fill="#5cc400"/>
<rect x="644" y="296" width="4.0" height="4.3" fill="#60c500"/>
<rect x="648" y="296" width="4.0" height="4.3" fill="#63c600"/>
<rect x="652" y="296" width="4.0" height="4.3" fill="#67c700"/>
<rect x="656" y="296" width="4.0" height="4.3" fill="#6bc800"/>
<rect x="660" y="296" width="4.0" height="4.3" fill="#6ec900"/>
<rect x="664" y="296" width="4.0" height="4.3" fill="#71ca00"/>
<rect x="668" y="296" width="4.0" height="4.3" fill="#74ca00"/>
<rect x="672" y="296" width="4.0" height="4.3" fill="#77cb00"/>
<rect x="676" y="296" width="4.0" height="4.3" fill="#7bcc00"/>
<rect x="680" y="296" width="4.0" height="4.3" fill="#7ecd00"/>
<rect x="684" y="296" width="4.0" height="4.3" fill="#81ce00"/>
<rect x="688" y="296" width="4.0" height="4.3" fill="#84cf00"/>
<rect x="692" y="296" width="4.0" height="4.3" fill="#88cf00"/>
<rect x="696" y="296" width="4.0" height="4.3" fill="#8bd000"/>
<rect x="700" y="296" width="4.0" height="4.3" fill="#8ed100"/>
<rect x="704" y="296" width="4.0" height="4.3" fill="#92d200"/>
<rect x="708" y="296" width="4.0" height="4.3" fill="#95d300"/>
<rect x="712" y="296" width="4.0" height="4.3" fill="#99d400"/>
<rect x="716" y="296" width="4.0" height="4.3" fill="#9cd500"/>
<rect x="720" y="296" width="4.0" height="4.3" fill="#9fd500"/>
<rect x="724" y="296" width="4.0" height="4.3" fill="#a3d600"/>
<rect x="728" y="296" width="4.0" height="4.3" fill="#a6d700"/>
<rect x="732" y="296" width="0.3" height="4.3" fill="#a9d800"/>
<rect x="532" y="300" width="4.0" height="4.3" fill="#05a800"/>
<rect x="536" y="300" width="4.0" height="4.3" fill="#08a900"/>
<rect x="540" y="300" width="4.0" height="4.3" fill="#0baa00"/>
<rect x="544" y="300" width="4.0" height="4.3" fill="#0eab00"/>
<rect x="548" y="300" width="4.0" height="4.3" fill="#11ac00"/>
<rect x="552" y="300" width="4.0" height="4.3" fill="#15ad00"/>
<rect x="556" y="300" width="4.0" height="4.3" fill="#18ae00"/>
<rect x="560" y="300" width="4.0" height="4.3" fill="#1bb000"/>
<rect x="564" y="300" width="4.0" height="4.3" fill="#1eb100"/>
<rect x="568" y="300" width="4.0" height="4.3" fill="#22b200"/>
<rect x="572" y="300" width="4.0" height="4.3" fill="#25b300"/>
<rect x="576" y="300" width="4.0" height="4.3" fill="#29b400"/>
<rect x="580" y="300" width="4.0" height="4.3" fill="#2cb500"/>
<rect x="584" y="300" width="4.0" height="4.3" fill="#30b600"/>
<rect x="588" y="300" width="4.0" height="4.3" fill="#33b800"/>
<rect x="592" y="300" width="4.0" height="4.3" fill="#37b900"/>
<rect x="596" y="300" width="4.0" height="4.3" fill="#3aba00"/>
<rect x="600" y="300" width="4.0" height="4.3" fill="#3ebb00"/>
<rect x="604" y="300" width="4.0" height="4.3" fill="#41bc00"/>
<rect x="608" y="300" width="4.0" height="4.3" fill="#45bd00"/>
<rect x="612" y="300" width="4.0" height="4.3" fill="#48be00"/>
<rect x="616" y="300" width="4.0" height="4.3" fill="#4cbf00"/>
<rect x="620" y="300" width="4.0" height="4.3" fill="#50c000"/>
<rect x="624" y="300" width="4.0" height="4.3" fill="#53c100"/>
<rect x="628" y="300" width="4.0" height="4.3" fill="#57c200"/>
<rect x="632" y="300" width="4.0" height="4.3" fill="#5bc300"/>
<rect x="636" y="300" width="4.0" height="4.3" fill="#5ec400"/>
<rect x="640" y="300" width="4.0" height="4.3" fill="#62c500"/>
<rect x="644" y="300" width="4.0" height="4.3" fill="#66c600"/>
<rect x="648" y="300" width="4.0" height="4.3" fill="#6ac800"/>
<rect x="652" y="300" width="4.0" height="4.3" fill="#6dc900"/>
<rect x="656" y="300" width="4.0" height="4.3" fill="#71c900"/>
<rect x="660" y="300" width="4.0" height="4.3" fill="#74ca00"/>
<rect x="664" y="300" width="4.0" height="4.3" fill="#77cb00"/>
<rect x="668" y="300" width="4.0" height="4.3" fill="#7bcc00"/>
<rect x="672" y="300" width="4.0" height="4.3" fill="#7ecd00"/>
<rect x="676" y="300" width="4.0" height="4.3" fill="#82ce00"/>
<rect x="680" y="300" width="4.0" height="4.3" fill="#85cf00"/>
<rect x="684" y="300" width="4.0" height="4.3" fill="#89d000"/>
<rect x="688" y="300" width="4.0" height="4.3" fill="#8cd100"/>
<rect x="692" y="300" width="4.0" height="4.3" fill="#90d200"/>
<rect x="696" y="300" width="4.0" height="4.3" fill="#93d200"/>
<rect x="700" y="300" width="4.0" height="4.3" fill="#97d300"/>
<rect x="704" y="300" width="4.0" height="4.3" fill="#9bd400"/>
<rect x="708" y="300" width="4.0" height="4.3" fill="#9ed500"/>
<rect x="712" y="300" width="4.0" height="4.3" fill="#a2d600"/>
<rect x="716" y="300" width="4.0" height="4.3" fill="#a6d700"/>
<rect x="720" y="300" width="4.0" height="4.3" fill="#a9d800"/>
<rect x="724" y="300" width="4.0" height="4.3" fill="#add900"/>
<rect x="728" y="300" width="4.0" height="4.3" fill="#b1da00"/>
<rect x="732" y="300" width="0.3" height="4.3" fill="#b3da00"/>
<rect x="532" y="304" width="4.0" height="4.3" fill="#05a800"/>
<rect x="536" y="304" width="4.0" height="4.3" fill="#08a900"/>
<rect x="540" y="304" width="4.0" height="4.3" fill="#0baa00"/>
<rect x="544" y="304" width="4.0" height="4.3" fill="#0fab00"/>
<rect x="548" y="304" width="4.0" height="4.3" fill="#12ac00"/>
<rect x="552" y="304" width="4.0" height="4.3" fill="#16ae00"/>
<rect x="556" y="304" width="4.0" height="4.3" fill="#19af00"/>
<rect x="560" y="304" width="4.0" height="4.3" fill="#1db000"/>
<rect x="564" y="304" width="4.0" height="4.3" fill="#20b100"/>
<rect x="568" y="304" width="4.0" height="4.3" fill="#24b300"/>
<rect x="572" y="304" width="4.0" height="4.3" fill="#27b400"/>
<rect x="576" y="304" width="4.0" height="4.3" fill="#2bb500"/>
<rect x="580" y="304" width="4.0" height="4.3" fill="#2fb600"/>
<rect x="584" y="304" width="4.0" height="4.3" fill="#33b700"/>
<rect x="588" y="304" width="4.0" height="4.3" fill="#36b900"/>
<rect x="592" y="304" width="4.0" height="4.3" fill="#3aba00"/>
<rect x="596" y="304" width="4.0" height="4.3" fill="#3ebb00"/>
<rect x="600" y="304" width="4.0" height="4.3" fill="#41bc00"/>
<rect x="604" y="304" width="4.0" height="4.3" fill="#45bd00"/>
<rect x="608" y="304" width="4.0" height="4.3" fill="#49be00"/>
<rect x="612" y="304" width="4.0" height="4.3" fill="#4dbf00"/>
<rect x="616" y="304" width="4.0" height="4.3" fill="#51c000"/>
<rect x="620" y="304" width="4.0" height="4.3" fill="#54c200"/>
<rect x="624" y="304" width="4.0" height="4.3" fill="#58c300"/>
<rect x="628" y="304" width="4.0" height="4.3" fill="#5cc400"/>
<rect x="632" y="304" width="4.0" height="4.3" fill="#60c500"/>
<rect x="636" y="304" width="4.0" height="4.3" fill="#64c600"/>
<rect x="640" y="304" width="4.0" height="4.3" fill="#68c700"/>
<rect x="644" y="304" width="4.0" height="4.3" fill="#6cc800"/>
<rect x="648" y="304" width="4.0" height="4.3" fill="#70c900"/>
<rect x="652" y="304" width="4.0" height="4.3" fill="#74ca00"/>
<rect x="656" y="304" width="4.0" height="4.3" fill="#77cb00"/>
<rect x="660" y="304" width="4.0" height="4.3" fill="#7bcc00"/>
<rect x="664" y="304" width="4.0" height="4.3" fill="#7ecd00"/>
<rect x="668" y="304" width="4.0" height="4.3" fill="#82ce00"/>
<rect x="672" y="304" width="4.0" height="4.3" fill="#86cf00"/>
<rect x="676" y="304" width="4.0" height="4.3" fill="#89d000"/>
<rect x="680" y="304" width="4.0" height="4.3" fill="#8dd100"/>
<rect x="684" y="304" width="4.0" height="4.3" fill="#91d200"/>
<rect x="688" y="304" width="4.0" height="4.3" fill="#95d300"/>
<rect x="692" y="304" width="4.0" height="4.3" fill="#98d400"/>
<rect x="696" y="304" width="4.0" height="4.3" fill="#9cd500"/>
<rect x="700" y="304" width="4.0" height="4.3" fill="#a0d600"/>
<rect x="704" y="304" width="4.0" height="4.3" fill="#a4d700"/>
<rect x="708" y="304" width="4.0" height="4.3" fill="#a8d700"/>
<rect x="712" y="304" width="4.0" height="4.3" fill="#acd800"/>
<rect x="716" y="304" width="4.0" height="4.3" fill="#b0d900"/>
<rect x="720" y="304" width="4.0" height="4.3" fill="#b4da00"/>
<rect x="724" y="304" width="4.0" height="4.3" fill="#b8db00"/>
<rect x="728" y="304" width="4.0" height="4.3" fill="#bcdc00"/>
<rect x="732" y="304" width="0.3" height="4.3" fill="#bfdd00"/>
<rect x="532" y="308" width="4.0" height="4.3" fill="#05a800"/>
<rect x="536" y="308" width="4.0" height="4.3" fill="#08a900"/>
<rect x="540" y="308" width="4.0" height="4.3" fill="#0caa00"/>
<rect x="544" y="308" width="4.0" height="4.3" fill="#0fac00"/>
<rect x="548" y="308" width="4.0" height="4.3" fill="#13ad00"/>
<rect x="552" y="308" width="4.0" height="4.3" fill="#17ae00"/>
<rect x="556" y="308" width="4.0" height="4.3" fill="#1aaf00"/>
<rect x="560" y="308" width="4.0" height="4.3" fill="#1eb100"/>
<rect x="564" y="308" width="4.0" height="4.3" fill="#22b200"/>
<rect x="568" y="308" width="4.0" height="4.3" fill="#26b300"/>
<rect x="572" y="308" width="4.0" height="4.3" fill="#2ab400"/>
<rect x="576" y="308" width="4.0" height="4.3" fill="#2eb600"/>
<rect x="580" y="308" width="4.0" height="4.3" fill="#32b700"/>
<rect x="584" y="308" width="4.0" height="4.3" fill="#36b800"/>
<rect x="588" y="308" width="4.0" height="4.3" fill="#3aba00"/>
<rect x="592" y="308" width="4.0" height="4.3" fill="#3dbb00"/>
<rect x="596" y="308" width="4.0" height="4.3" fill="#41bc00"/>
<rect x="600" y="308" width="4.0" height="4.3" fill="#45bd00"/>
<rect x="604" y="308" width="4.0" height="4.3" fill="#49be00"/>
<rect x="608" y="308" width="4.0" height="4.3" fill="#4dbf00"/>
<rect x="612" y="308" width="4.0" height="4.3" fill="#51c100"/>
<rect x="616" y="308" width="4.0" height="4.3" fill="#56c200"/>
<rect x="620" y="308" width="4.0" height="4.3" fill="#5ac300"/>
<rect x="624" y="308" width="4.0" height="4.3" fill="#5ec400"/>
<rect x="628" y="308" width="4.0" height="4.3" fill="#62c500"/>
<rect x="632" y="308" width="4.0" height="4.3" fill="#66c700"/>
<rect x="636" y="308" width="4.0" height="4.3" fill="#6bc800"/>
<rect x="640" y="308" width="4.0" height="4.3" fill="#6fc900"/>
<rect x="644" y="308" width="4.0" height="4.3" fill="#72ca00"/>
<rect x="648" y="308" width="4.0" height="4.3" fill="#76cb00"/>
<rect x="652" y="308" width="4.0" height="4.3" fill="#7acc00"/>
<rect x="656" y="308" width="4.0" height="4.3" fill="#7ecd00"/>
<rect x="660" y="308" width="4.0" height="4.3" fill="#82ce00"/>
<rect x="664" y="308" width="4.0" height="4.3" fill="#86cf00"/>
<rect x="668" y="308" width="4.0" height="4.3" fill="#8ad000"/>
<rect x="672" y="308" width="4.0" height="4.3" fill="#8ed100"/>
<rect x="676" y="308" width="4.0" height="4.3" fill="#92d200"/>
<rect x="680" y="308" width="4.0" height="4.3" fill="#96d300"/>
<rect x="684" y="308" width="4.0" height="4.3" fill="#9ad400"/>
<rect x="688" y="308" width="4.0" height="4.3" fill="#9ed500"/>
<rect x="692" y="308" width="4.0" height="4.3" fill="#a2d600"/>
<rect x="696" y="308" width="4.0" height="4.3" fill="#a6d700"/>
<rect x="700" y="308" width="4.0" height="4.3" fill="#aad800"/>
<rect x="704" y="308" width="4.0" height="4.3" fill="#afd900"/>
<rect x="708" y="308" width="4.0" height="4.3" fill="#b3da00"/>
<rect x="712" y="308" width="4.0" height="4.3" fill="#b7db00"/>
<rect x="716" y="308" width="4.0" height="4.3" fill="#bcdc00"/>
<rect x="720" y="308" width="4.0" height="4.3" fill="#c0dd00"/>
<rect x="724" y="308" width="4.0" height="4.3" fill="#c4de00"/>
<rect x="728" y="308" width="4.0" height="4.3" fill="#c9df00"/>
<rect x="732" y="308" width="0.3" height="4.3" fill="#cbe000"/>
<rect x="532" y="312" width="4.0" height="4.3" fill="#05a800"/>
<rect x="536" y="312" width="4.0" height="4.3" fill="#09a900"/>
<rect x="540" y="312" width="4.0" height="4.3" fill="#0caa00"/>
<rect x="544" y="312" width="4.0" height="4.3" fill="#10ac00"/>
<rect x="548" y="312" width="4.0" height="4.3" fill="#14ad00"/>
<rect x="552" y="312" width="4.0" height="4.3" fill="#18ae00"/>
<rect x="556" y="312" width="4.0" height="4.3" fill="#1cb000"/>
<rect x="560" y="312" width="4.0" height="4.3" fill="#20b100"/>
<rect x="564" y="312" width="4.0" height="4.3" fill="#24b300"/>
<rect x="568" y="312" width="4.0" height="4.3" fill="#28b400"/>
<rect x="572" y="312" width="4.0" height="4.3" fill="#2cb500"/>
<rect x="576" y="312" width="4.0" height="4.3" fill="#30b700"/>
<rect x="580" y="312" width="4.0" height="4.3" fill="#35b800"/>
<rect x="584" y="312" width="4.0" height="4.3" fill="#39b900"/>
<rect x="588" y="312" width="4.0" height="4.3" fill="#3dbb00"/>
<rect x="592" y="312" width="4.0" height="4.3" fill="#41bc00"/>
<rect x="596" y="312" width="4.0" height="4.3" fill="#45bd00"/>
<rect x="600" y="312" width="4.0" height="4.3" fill="#49be00"/>
<rect x="604" y="312" width="4.0" height="4.3" fill="#4ec000"/>
<rect x="608" y="312" width="4.0" height="4.3" fill="#52c100"/>
<rect x="612" y="312" width="4.0" height="4.3" fill="#56c200"/>
<rect x="616" y="312" width="4.0" height="4.3" fill="#5bc300"/>
<rect x="620" y="312" width="4.0" height="4.3" fill="#5fc500"/>
<rect x="624" y="312" width="4.0" height="4.3" fill="#64c600"/>
<rect x="628" y="312" width="4.0" height="4.3" fill="#68c700"/>
<rect x="632" y="312" width="4.0" height="4.3" fill="#6dc800"/>
<rect x="636" y="312" width="4.0" height="4.3" fill="#71c900"/>
<rect x="640" y="312" width="4.0" height="4.3" fill="#75cb00"/>
<rect x="644" y="312" width="4.0" height="4.3" fill="#79cc00"/>
<rect x="648" y="312" width="4.0" height="4.3" fill="#7dcd00"/>
<rect x="652" y="312" width="4.0" height="4.3" fill="#81ce00"/>
<rect x="656" y="312" width="4.0" height="4.3" fill="#85cf00"/>
<rect x="660" y="312" width="4.0" height="4.3" fill="#89d000"/>
<rect x="664" y="312" width="4.0" height="4.3" fill="#8ed100"/>
<rect x="668" y="312" width="4.0" height="4.3" fill="#92d200"/>
<rect x="672" y="312" width="4.0" height="4.3" fill="#96d300"/>
<rect x="676" y="312" width="4.0" height="4.3" fill="#9ad400"/>
<rect x="680" y="312" width="4.0" height="4.3" fill="#9fd500"/>
<rect x="684" y="312" width="4.0" height="4.3" fill="#a3d600"/>
<rect x="688" y="312" width="4.0" height="4.3" fill="#a8d700"/>
<rect x="692" y="312" width="4.0" height="4.3" fill="#acd800"/>
<rect x="696" y="312" width="4.0" height="4.3" fill="#b1da00"/>
<rect x="700" y="312" width="4.0" height="4.3" fill="#b5db00"/>
<rect x="704" y="312" width="4.0" height="4.3" fill="#badc00"/>
<rect x="708" y="312" width="4.0" height="4.3" fill="#bedd00"/>
<rect x="712" y="312" width="4.0" height="4.3" fill="#c3de00"/>
<rect x="716" y="312" width="4.0" height="4.3" fill="#c8df00"/>
<rect x="720" y="312" width="4.0" height="4.3" fill="#cde000"/>
<rect x="724" y="312" width="4.0" height="4.3" fill="#d1e100"/>
<rect x="728" y="312" width="4.0" height="4.3" fill="#d6e200"/>
<rect x="732" y="312" width="0.3" height="4.3" fill="#d9e300"/>
<rect x="532" y="316" width="4.0" height="4.3" fill="#05a800"/>
<rect x="536" y="316" width="4.0" height="4.3" fill="#09a900"/>
<rect x="540" y="316" width="4.0" height="4.3" fill="#0dab00"/>
<rect x="544" y="316" width="4.0" height="4.3" fill="#11ac00"/>
<rect x="548" y="316" width="4.0" height="4.3" fill="#15ad00"/>
<rect x="552" y="316" width="4.0" height="4.3" fill="#19af00"/>
<rect x="556" y="316" width="4.0" height="4.3" fill="#1db000"/>
<rect x="560" y="316" width="4.0" height="4.3" fill="#22b200"/>
<rect x="564" y="316" width="4.0" height="4.3" fill="#26b300"/>
<rect x="568" y="316" width="4.0" height="4.3" fill="#2ab500"/>
<rect x="572" y="316" width="4.0" height="4.3" fill="#2fb600"/>
<rect x="576" y="316" width="4.0" height="4.3" fill="#33b800"/>
<rect x="580" y="316" width="4.0" height="4.3" fill="#38b900"/>
<rect x="584" y="316" width="4.0" height="4.3" fill="#3cba00"/>
<rect x="588" y="316" width="4.0" height="4.3" fill="#41bc00"/>
<rect x="592" y="316" width="4.0" height="4.3" fill="#45bd00"/>
<rect x="596" y="316" width="4.0" height="4.3" fill="#49be00"/>
<rect x="600" y="316" width="4.0" height="4.3" fill="#4ec000"/>
<rect x="604" y="316" width="4.0" height="4.3" fill="#53c100"/>
<rect x="608" y="316" width="4.0" height="4.3" fill="#57c200"/>
<rect x="612" y="316" width="4.0" height="4.3" fill="#5cc400"/>
<rect x="616" y="316" width="4.0" height="4.3" fill="#61c500"/>
<rect x="620" y="316" width="4.0" height="4.3" fill="#65c600"/>
<rect x="624" y="316" width="4.0" height="4.3" fill="#6ac800"/>
<rect x="628" y="316" width="4.0" height="4.3" fill="#6fc900"/>
<rect x="632" y="316" width="4.0" height="4.3" fill="#73ca00"/>
<rect x="636" y="316" width="4.0" height="4.3" fill="#77cb00"/>
<rect x="640" y="316" width="4.0" height="4.3" fill="#7bcc00"/>
<rect x="644" y="316" width="4.0" height="4.3" fill="#80cd00"/>
<rect x="648" y="316" width="4.0" height="4.3" fill="#84cf00"/>
<rect x="652" y="316" width="4.0" height="4.3" fill="#89d000"/>
<rect x="656" y="316" width="4.0" height="4.3" fill="#8dd100"/>
<rect x="660" y="316" width="4.0" height="4.3" fill="#91d200"/>
<rect x="664" y="316" width="4.0" height="4.3" fill="#96d300"/>
<rect x="668" y="316" width="4.0" height="4.3" fill="#9bd400"/>
<rect x="672" y="316" width="4.0" height="4.3" fill="#9fd500"/>
<rect x="676" y="316" width="4.0" height="4.3" fill="#a4d600"/>
<rect x="680" y="316" width="4.0" height="4.3" fill="#a9d800"/>
<rect x="684" y="316" width="4.0" height="4.3" fill="#add900"/>
<rect x="688" y="316" width="4.0" height="4.3" fill="#b2da00"/>
<rect x="692" y="316" width="4.0" height="4.3" fill="#b7db00"/>
<rect x="696" y="316" width="4.0" height="4.3" fill="#bcdc00"/>
<rect x="700" y="316" width="4.0" height="4.3" fill="#c1dd00"/>
<rect x="704" y="316" width="4.0" height="4.3" fill="#c6de00"/>
<rect x="708" y="316" width="4.0" height="4.3" fill="#cbe000"/>
<rect x="712" y="316" width="4.0" height="4.3" fill="#d0e100"/>
<rect x="716" y="316" width="4.0" height="4.3" fill="#d5e200"/>
<rect x="720" y="316" width="4.0" height="4.3" fill="#dae300"/>
<rect x="724" y="316" width="4.0" height="4.3" fill="#dfe400"/>
<rect x="728" y="316" width="4.0" height="4.3" fill="#e5e500"/>
<rect x="732" y="316" width="0.3" height="4.3" fill="#e6e402"/>
<rect x="532" y="320" width="4.0" height="4.3" fill="#05a800"/>
<rect x="536" y="320" width="4.0" height="4.3" fill="#09a900"/>
<rect x="540" y="320" width="4.0" height="4.3" fill="#0eab00"/>
<rect x="544" y="320" width="4.0" height="4.3" fill="#12ac00"/>
<rect x="548" y="320" width="4.0" height="4.3" fill="#16ae00"/>
<rect x="552" y="320" width="4.0" height="4.3" fill="#1baf00"/>
<rect x="556" y="320" width="4.0" height="4.3" fill="#1fb100"/>
<rect x="560" y="320" width="4.0" height="4.3" fill="#24b200"/>
<rect x="564" y="320" width="4.0" height="4.3" fill="#28b400"/>
<rect x="568" y="320" width="4.0" height="4.3" fill="#2db600"/>
<rect x="572" y="320" width="4.0" height="4.3" fill="#32b700"/>
<rect x="576" y="320" width="4.0" height="4.3" fill="#36b900"/>
<rect x="580" y="320" width="4.0" height="4.3" fill="#3bba00"/>
<rect x="584" y="320" width="4.0" height="4.3" fill="#40bb00"/>
<rect x="588" y="320" width="4.0" height="4.3" fill="#44bd00"/>
<rect x="592" y="320" width="4.0" height="4.3" fill="#49be00"/>
<rect x="596" y="320" width="4.0" height="4.3" fill="#4ec000"/>
<rect x="600" y="320" width="4.0" height="4.3" fill="#53c100"/>
<rect x="604" y="320" width="4.0" height="4.3" fill="#58c200"/>
<rect x="608" y="320" width="4.0" height="4.3" fill="#5dc400"/>
<rect x="612" y="320" width="4.0" height="4.3" fill="#62c500"/>
<rect x="616" y="320" width="4.0" height="4.3" fill="#67c700"/>
<rect x="620" y="320" width="4.0" height="4.3" fill="#6cc800"/>
<rect x="624" y="320" width="4.0" height="4.3" fill="#70c900"/>
<rect x="628" y="320" width="4.0" height="4.3" fill="#75cb00"/>
<rect x="632" y="320" width="4.0" height="4.3" fill="#79cc00"/>
<rect x="636" y="320" width="4.0" height="4.3" fill="#7ecd00"/>
<rect x="640" y="320" width="4.0" height="4.3" fill="#83ce00"/>
<rect x="644" y="320" width="4.0" height="4.3" fill="#87cf00"/>
<rect x="648" y="320" width="4.0" height="4.3" fill="#8cd100"/>
<rect x="652" y="320" width="4.0" height="4.3" fill="#91d200"/>
<rect x="656" y="320" width="4.0" height="4.3" fill="#95d300"/>
<rect x="660" y="320" width="4.0" height="4.3" fill="#9ad400"/>
<rect x="664" y="320" width="4.0" height="4.3" fill="#9fd500"/>
<rect x="668" y="320" width="4.0" height="4.3" fill="#a4d700"/>
<rect x="672" y="320" width="4.0" height="4.3" fill="#a9d800"/>
<rect x="676" y="320" width="4.0" height="4.3" fill="#aed900"/>
<rect x="680" y="320" width="4.0" height="4.3" fill="#b3da00"/>
<rect x="684" y="320" width="4.0" height="4.3" fill="#b9db00"/>
<rect x="688" y="320" width="4.0" height="4.3" fill="#bedd00"/>
<rect x="692" y="320" width="4.0" height="4.3" fill="#c3de00"/>
<rect x="696" y="320" width="4.0" height="4.3" fill="#c8df00"/>
<rect x="700" y="320" width="4.0" height="4.3" fill="#cee000"/>
<rect x="704" y="320" width="4.0" height="4.3" fill="#d3e100"/>
<rect x="708" y="320" width="4.0" height="4.3" fill="#d9e300"/>
<rect x="712" y="320" width="4.0" height="4.3" fill="#dee400"/>
<rect x="716" y="320" width="4.0" height="4.3" fill="#e4e500"/>
<rect x="720" y="320" width="4.0" height="4.3" fill="#e6e303"/>
<rect x="724" y="320" width="4.0" height="4.3" fill="#e6df07"/>
<rect x="728" y="320" width="4.0" height="4.3" fill="#e6dc0b"/>
<rect x="732" y="320" width="0.3" height="4.3" fill="#e6da0d"/>
<rect x="532" y="324" width="4.0" height="4.3" fill="#05a800"/>
<rect x="536" y="324" width="4.0" height="4.3" fill="#0aa900"/>
<rect x="540" y="324" width="4.0" height="4.3" fill="#0eab00"/>
<rect x="544" y="324" width="4.0" height="4.3" fill="#13ad00"/>
<rect x="548" y="324" width="4.0" height="4.3" fill="#17ae00"/>
<rect x="552" y="324" width="4.0" height="4.3" fill="#1cb000"/>
<rect x="556" y="324" width="4.0" height="4.3" fill="#21b200"/>
<rect x="560" y="324" width="4.0" height="4.3" fill="#26b300"/>
<rect x="564" y="324" width="4.0" height="4.3" fill="#2bb500"/>
<rect x="568" y="324" width="4.0" height="4.3" fill="#30b600"/>
<rect x="572" y="324" width="4.0" height="4.3" fill="#35b800"/>
<rect x="576" y="324" width="4.0" height="4.3" fill="#3aba00"/>
<rect x="580" y="324" width="4.0" height="4.3" fill="#3ebb00"/>
<rect x="584" y="324" width="4.0" height="4.3" fill="#43bd00"/>
<rect x="588" y="324" width="4.0" height="4.3" fill="#48be00"/>
<rect x="592" y="324" width="4.0" height="4.3" fill="#4ec000"/>
<rect x="596" y="324" width="4.0" height="4.3" fill="#53c100"/>
<rect x="600" y="324" width="4.0" height="4.3" fill="#58c300"/>
<rect x="604" y="324" width="4.0" height="4.3" fill="#5dc400"/>
<rect x="608" y="324" width="4.0" height="4.3" fill="#63c600"/>
<rect x="612" y="324" width="4.0" height="4.3" fill="#68c700"/>
<rect x="616" y="324" width="4.0" height="4.3" fill="#6dc800"/>
<rect x="620" y="324" width="4.0" height="4.3" fill="#72ca00"/>
<rect x="624" y="324" width="4.0" height="4.3" fill="#77cb00"/>
<rect x="628" y="324" width="4.0" height="4.3" fill="#7ccc00"/>
<rect x="632" y="324" width="4.0" height="4.3" fill="#80ce00"/>
<rect x="636" y="324" width="4.0" height="4.3" fill="#85cf00"/>
<rect x="640" y="324" width="4.0" height="4.3" fill="#8ad000"/>
<rect x="644" y="324" width="4.0" height="4.3" fill="#8fd100"/>
<rect x="648" y="324" width="4.0" height="4.3" fill="#94d300"/>
<rect x="652" y="324" width="4.0" height="4.3" fill="#99d400"/>
<rect x="656" y="324" width="4.0" height="4.3" fill="#9fd500"/>
<rect x="660" y="324" width="4.0" height="4.3" fill="#a4d600"/>
<rect x="664" y="324" width="4.0" height="4.3" fill="#a9d800"/>
<rect x="668" y="324" width="4.0" height="4.3" fill="#afd900"/>
<rect x="672" y="324" width="4.0" height="4.3" fill="#b4da00"/>
<rect x="676" y="324" width="4.0" height="4.3" fill="#b9dc00"/>
<rect x="680" y="324" width="4.0" height="4.3" fill="#bfdd00"/>
<rect x="684" y="324" width="4.0" height="4.3" fill="#c5de00"/>
<rect x="688" y="324" width="4.0" height="4.3" fill="#cadf00"/>
<rect x="692" y="324" width="4.0" height="4.3" fill="#d0e100"/>
<rect x="696" y="324" width="4.0" height="4.3" fill="#d6e200"/>
<rect x="700" y="324" width="4.0" height="4.3" fill="#dce300"/>
<rect x="704" y="324" width="4.0" height="4.3" fill="#e1e500"/>
<rect x="708" y="324" width="4.0" height="4.3" fill="#e6e401"/>
<rect x="712" y="324" width="4.0" height="4.3" fill="#e6e006"/>
<rect x="716" y="324" width="4.0" height="4.3" fill="#e6dd0a"/>
<rect x="720" y="324" width="4.0" height="4.3" fill="#e6d90e"/>
<rect x="724" y="324" width="4.0" height="4.3" fill="#e7d513"/>
<rect x="728" y="324" width="4.0" height="4.3" fill="#e7d217"/>
<rect x="732" y="324" width="0.3" height="4.3" fill="#e7d01a"/>
<rect x="532" y="328" width="4.0" height="4.3" fill="#06a800"/>
<rect x="536" y="328" width="4.0" height="4.3" fill="#0aaa00"/>
<rect x="540" y="328" width="4.0" height="4.3" fill="#0fab00"/>
<rect x="544" y="328" width="4.0" height="4.3" fill="#14ad00"/>
<rect x="548" y="328" width="4.0" height="4.3" fill="#19af00"/>
<rect x="552" y="328" width="4.0" height="4.3" fill="#1eb000"/>
<rect x="556" y="328" width="4.0" height="4.3" fill="#23b200"/>
<rect x="560" y="328" width="4.0" height="4.3" fill="#28b400"/>
<rect x="564" y="328" width="4.0" height="4.3" fill="#2db600"/>
<rect x="568" y="328" width="4.0" height="4.3" fill="#32b700"/>
<rect x="572" y="328" width="4.0" height="4.3" fill="#38b900"/>
<rect x="576" y="328" width="4.0" height="4.3" fill="#3dbb00"/>
<rect x="580" y="328" width="4.0" height="4.3" fill="#42bc00"/>
<rect x="584" y="328" width="4.0" height="4.3" fill="#47be00"/>
<rect x="588" y="328" width="4.0" height="4.3" fill="#4dbf00"/>
<rect x="592" y="328" width="4.0" height="4.3" fill="#52c100"/>
<rect x="596" y="328" width="4.0" height="4.3" fill="#58c300"/>
<rect x="600" y="328" width="4.0" height="4.3" fill="#5dc400"/>
<rect x="604" y="328" width="4.0" height="4.3" fill="#63c600"/>
<rect x="608" y="328" width="4.0" height="4.3" fill="#69c700"/>
<rect x="612" y="328" width="4.0" height="4.3" fill="#6ec900"/>
<rect x="616" y="328" width="4.0" height="4.3" fill="#73ca00"/>
<rect x="620" y="328" width="4.0" height="4.3" fill="#78cb00"/>
<rect x="624" y="328" width="4.0" height="4.3" fill="#7ecd00"/>
<rect x="628" y="328" width="4.0" height="4.3" fill="#83ce00"/>
<rect x="632" y="328" width="4.0" height="4.3" fill="#88d000"/>
<rect x="636" y="328" width="4.0" height="4.3" fill="#8dd100"/>
<rect x="640" y="328" width="4.0" height="4.3" fill="#93d200"/>
<rect x="644" y="328" width="4.0" height="4.3" fill="#98d400"/>
<rect x="648" y="328" width="4.0" height="4.3" fill="#9dd500"/>
<rect x="652" y="328" width="4.0" height="4.3" fill="#a3d600"/>
<rect x="656" y="328" width="4.0" height="4.3" fill="#a9d800"/>
<rect x="660" y="328" width="4.0" height="4.3" fill="#aed900"/>
<rect x="664" y="328" width="4.0" height="4.3" fill="#b4da00"/>
<rect x="668" y="328" width="4.0" height="4.3" fill="#badc00"/>
<rect x="672" y="328" width="4.0" height="4.3" fill="#c0dd00"/>
<rect x="676" y="328" width="4.0" height="4.3" fill="#c6de00"/>
<rect x="680" y="328" width="4.0" height="4.3" fill="#cce000"/>
<rect x="684" y="328" width="4.0" height="4.3" fill="#d2e100"/>
<rect x="688" y="328" width="4.0" height="4.3" fill="#d8e200"/>
<rect x="692" y="328" width="4.0" height="4.3" fill="#dee400"/>
<rect x="696" y="328" width="4.0" height="4.3" fill="#e4e500"/>
<rect x="700" y="328" width="4.0" height="4.3" fill="#e6e204"/>
<rect x="704" y="328" width="4.0" height="4.3" fill="#e6de08"/>
<rect x="708" y="328" width="4.0" height="4.3" fill="#e6da0d"/>
<rect x="712" y="328" width="4.0" height="4.3" fill="#e6d611"/>
<rect x="716" y="328" width="4.0" height="4.3" fill="#e7d316"/>
<rect x="720" y="328" width="4.0" height="4.3" fill="#e7cf1b"/>
<rect x="724" y="328" width="4.0" height="4.3" fill="#e7cc1f"/>
<rect x="728" y="328" width="4.0" height="4.3" fill="#e7c924"/>
<rect x="732" y="328" width="0.3" height="4.3" fill="#e8c727"/>
<rect x="532" y="332" width="4.0" height="4.3" fill="#06a800"/>
<rect x="536" y="332" width="4.0" height="4.3" fill="#0baa00"/>
<rect x="540" y="332" width="4.0" height="4.3" fill="#10ac00"/>
<rect x="544" y="332" width="4.0" height="4.3" fill="#15ad00"/>
<rect x="548" y="332" width="4.0" height="4.3" fill="#1aaf00"/>
<rect x="552" y="332" width="4.0" height="4.3" fill="#1fb100"/>
<rect x="556" y="332" width="4.0" height="4.3" fill="#25b300"/>
<rect x="560" y="332" width="4.0" height="4.3" fill="#2ab500"/>
<rect x="564" y="332" width="4.0" height="4.3" fill="#30b600"/>
<rect x="568" y="332" width="4.0" height="4.3" fill="#36b800"/>
<rect x="572" y="332" width="4.0" height="4.3" fill="#3bba00"/>
<rect x="576" y="332" width="4.0" height="4.3" fill="#41bc00"/>
<rect x="580" y="332" width="4.0" height="4.3" fill="#46bd00"/>
<rect x="584" y="332" width="4.0" height="4.3" fill="#4cbf00"/>
<rect x="588" y="332" width="4.0" height="4.3" fill="#52c100"/>
<rect x="592" y="332" width="4.0" height="4.3" fill="#57c200"/>
<rect x="596" y="332" width="4.0" height="4.3" fill="#5dc400"/>
<rect x="600" y="332" width="4.0" height="4.3" fill="#63c600"/>
<rect x="604" y="332" width="4.0" height="4.3" fill="#6ac700"/>
<rect x="608" y="332" width="4.0" height="4.3" fill="#6fc900"/>
<rect x="612" y="332" width="4.0" height="4.3" fill="#74ca00"/>
<rect x="616" y="332" width="4.0" height="4.3" fill="#7acc00"/>
<rect x="620" y="332" width="4.0" height="4.3" fill="#7fcd00"/>
<rect x="624" y="332" width="4.0" height="4.3" fill="#85cf00"/>
<rect x="628" y="332" width="4.0" height="4.3" fill="#8ad000"/>
<rect x="632" y="332" width="4.0" height="4.3" fill="#90d200"/>
<rect x="636" y="332" width="4.0" height="4.3" fill="#96d300"/>
<rect x="640" y="332" width="4.0" height="4.3" fill="#9bd400"/>
<rect x="644" y="332" width="4.0" height="4.3" fill="#a1d600"/>
<rect x="648" y="332" width="4.0" height="4.3" fill="#a7d700"/>
<rect x="652" y="332" width="4.0" height="4.3" fill="#add900"/>
<rect x="656" y="332" width="4.0" height="4.3" fill="#b3da00"/>
<rect x="660" y="332" width="4.0" height="4.3" fill="#badc00"/>
<rect x="664" y="332" width="4.0" height="4.3" fill="#c0dd00"/>
<rect x="668" y="332" width="4.0" height="4.3" fill="#c6de00"/>
<rect x="672" y="332" width="4.0" height="4.3" fill="#cce000"/>
<rect x="676" y="332" width="4.0" height="4.3" fill="#d3e100"/>
<rect x="680" y="332" width="4.0" height="4.3" fill="#d9e300"/>
<rect x="684" y="332" width="4.0" height="4.3" fill="#e0e400"/>
<rect x="688" y="332" width="4.0" height="4.3" fill="#e6e501"/>
<rect x="692" y="332" width="4.0" height="4.3" fill="#e6e006"/>
<rect x="696" y="332" width="4.0" height="4.3" fill="#e6dc0a"/>
<rect x="700" y="332" width="4.0" height="4.3" fill="#e6d80f"/>
<rect x="704" y="332" width="4.0" height="4.3" fill="#e7d414"/>
<rect x="708" y="332" width="4.0" height="4.3" fill="#e7d019"/>
<rect x="712" y="332" width="4.0" height="4.3" fill="#e7cd1e"/>
<rect x="716" y="332" width="4.0" height="4.3" fill="#e7ca23"/>
<rect x="720" y="332" width="4.0" height="4.3" fill="#e8c728"/>
<rect x="724" y="332" width="4.0" height="4.3" fill="#e8c42d"/>
<rect x="728" y="332" width="4.0" height="4.3" fill="#e8c132"/>
<rect x="732" y="332" width="0.3" height="4.3" fill="#e8c035"/>
<rect x="532" y="336" width="4.0" height="4.3" fill="#06a800"/>
<rect x="536" y="336" width="4.0" height="4.3" fill="#0baa00"/>
<rect x="540" y="336" width="4.0" height="4.3" fill="#10ac00"/>
<rect x="544" y="336" width="4.0" height="4.3" fill="#16ae00"/>
<rect x="548" y="336" width="4.0" height="4.3" fill="#1bb000"/>
<rect x="552" y="336" width="4.0" height="4.3" fill="#21b200"/>
<rect x="556" y="336" width="4.0" height="4.3" fill="#27b400"/>
<rect x="560" y="336" width="4.0" height="4.3" fill="#2db500"/>
<rect x="564" y="336" width="4.0" height="4.3" fill="#33b700"/>
<rect x="568" y="336" width="4.0" height="4.3" fill="#39b900"/>
<rect x="572" y="336" width="4.0" height="4.3" fill="#3ebb00"/>
<rect x="576" y="336" width="4.0" height="4.3" fill="#44bd00"/>
<rect x="580" y="336" width="4.0" height="4.3" fill="#4abf00"/>
<rect x="584" y="336" width="4.0" height="4.3" fill="#50c000"/>
<rect x="588" y="336" width="4.0" height="4.3" fill="#57c200"/>
<rect x="592" y="336" width="4.0" height="4.3" fill="#5dc400"/>
<rect x="596" y="336" width="4.0" height="4.3" fill="#63c600"/>
<rect x="600" y="336" width="4.0" height="4.3" fill="#6ac800"/>
<rect x="604" y="336" width="4.0" height="4.3" fill="#70c900"/>
<rect x="608" y="336" width="4.0" height="4.3" fill="#75cb00"/>
<rect x="612" y="336" width="4.0" height="4.3" fill="#7bcc00"/>
<rect x="616" y="336" width="4.0" height="4.3" fill="#81ce00"/>
<rect x="620" y="336" width="4.0" height="4.3" fill="#87cf00"/>
<rect x="624" y="336" width="4.0" height="4.3" fill="#8dd100"/>
<rect x="628" y="336" width="4.0" height="4.3" fill="#93d200"/>
<rect x="632" y="336" width="4.0" height="4.3" fill="#99d400"/>
<rect x="636" y="336" width="4.0" height="4.3" fill="#9fd500"/>
<rect x="640" y="336" width="4.0" height="4.3" fill="#a5d700"/>
<rect x="644" y="336" width="4.0" height="4.3" fill="#abd800"/>
<rect x="648" y="336" width="4.0" height="4.3" fill="#b2da00"/>
<rect x="652" y="336" width="4.0" height="4.3" fill="#b8db00"/>
<rect x="656" y="336" width="4.0" height="4.3" fill="#bfdd00"/>
<rect x="660" y="336" width="4.0" height="4.3" fill="#c6de00"/>
<rect x="664" y="336" width="4.0" height="4.3" fill="#cce000"/>
<rect x="668" y="336" width="4.0" height="4.3" fill="#d3e100"/>
<rect x="672" y="336" width="4.0" height="4.3" fill="#dae300"/>
<rect x="676" y="336" width="4.0" height="4.3" fill="#e1e500"/>
<rect x="680" y="336" width="4.0" height="4.3" fill="#e6e402"/>
<rect x="684" y="336" width="4.0" height="4.3" fill="#e6df07"/>
<rect x="688" y="336" width="4.0" height="4.3" fill="#e6db0c"/>
<rect x="692" y="336" width="4.0" height="4.3" fill="#e6d611"/>
<rect x="696" y="336" width="4.0" height="4.3" fill="#e7d217"/>
<rect x="700" y="336" width="4.0" height="4.3" fill="#e7cf1c"/>
<rect x="704" y="336" width="4.0" height="4.3" fill="#e7cb21"/>
<rect x="708" y="336" width="4.0" height="4.3" fill="#e8c826"/>
<rect x="712" y="336" width="4.0" height="4.3" fill="#e8c52b"/>
<rect x="716" y="336" width="4.0" height="4.3" fill="#e8c231"/>
<rect x="720" y="336" width="4.0" height="4.3" fill="#e8bf36"/>
<rect x="724" y="336" width="4.0" height="4.3" fill="#e9bd3b"/>
<rect x="728" y="336" width="4.0" height="4.3" fill="#e9ba41"/>
<rect x="732" y="336" width="0.3" height="4.3" fill="#e9b944"/>
<rect x="532" y="340" width="4.0" height="4.3" fill="#06a800"/>
<rect x="536" y="340" width="4.0" height="4.3" fill="#0caa00"/>
<rect x="540" y="340" width="4.0" height="4.3" fill="#11ac00"/>
<rect x="544" y="340" width="4.0" height="4.3" fill="#17ae00"/>
<rect x="548" y="340" width="4.0" height="4.3" fill="#1db000"/>
<rect x="552" y="340" width="4.0" height="4.3" fill="#23b200"/>
<rect x="556" y="340" width="4.0" height="4.3" fill="#29b400"/>
<rect x="560" y="340" width="4.0" height="4.3" fill="#2fb600"/>
<rect x="564" y="340" width="4.0" height="4.3" fill="#36b800"/>
<rect x="568" y="340" width="4.0" height="4.3" fill="#3cba00"/>
<rect x="572" y="340" width="4.0" height="4.3" fill="#42bc00"/>
<rect x="576" y="340" width="4.0" height="4.3" fill="#48be00"/>
<rect x="580" y="340" width="4.0" height="4.3" fill="#4fc000"/>
<rect x="584" y="340" width="4.0" height="4.3" fill="#55c200"/>
<rect x="588" y="340" width="4.0" height="4.3" fill="#5cc400"/>
<rect x="592" y="340" width="4.0" height="4.3" fill="#63c600"/>
<rect x="596" y="340" width="4.0" height="4.3" fill="#6ac800"/>
<rect x="600" y="340" width="4.0" height="4.3" fill="#70c900"/>
<rect x="604" y="340" width="4.0" height="4.3" fill="#76cb00"/>
<rect x="608" y="340" width="4.0" height="4.3" fill="#7ccc00"/>
<rect x="612" y="340" width="4.0" height="4.3" fill="#82ce00"/>
<rect x="616" y="340" width="4.0" height="4.3" fill="#88d000"/>
<rect x="620" y="340" width="4.0" height="4.3" fill="#8fd100"/>
<rect x="624" y="340" width="4.0" height="4.3" fill="#95d300"/>
<rect x="628" y="340" width="4.0" height="4.3" fill="#9cd400"/>
<rect x="632" y="340" width="4.0" height="4.3" fill="#a2d600"/>
<rect x="636" y="340" width="4.0" height="4.3" fill="#a9d800"/>
<rect x="640" y="340" width="4.0" height="4.3" fill="#b0d900"/>
<rect x="644" y="340" width="4.0" height="4.3" fill="#b7db00"/>
<rect x="648" y="340" width="4.0" height="4.3" fill="#bddd00"/>
<rect x="652" y="340" width="4.0" height="4.3" fill="#c5de00"/>
<rect x="656" y="340" width="4.0" height="4.3" fill="#cce000"/>
<rect x="660" y="340" width="4.0" height="4.3" fill="#d3e100"/>
<rect x="664" y="340" width="4.0" height="4.3" fill="#dae300"/>
<rect x="668" y="340" width="4.0" height="4.3" fill="#e2e500"/>
<rect x="672" y="340" width="4.0" height="4.3" fill="#e6e303"/>
<rect x="676" y="340" width="4.0" height="4.3" fill="#e6de08"/>
<rect x="680" y="340" width="4.0" height="4.3" fill="#e6da0d"/>
<rect x="684" y="340" width="4.0" height="4.3" fill="#e7d513"/>
<rect x="688" y="340" width="4.0" height="4.3" fill="#e7d118"/>
<rect x="692" y="340" width="4.0" height="4.3" fill="#e7cd1e"/>
<rect x="696" y="340" width="4.0" height="4.3" fill="#e7c924"/>
<rect x="700" y="340" width="4.0" height="4.3" fill="#e8c629"/>
<rect x="704" y="340" width="4.0" height="4.3" fill="#e8c32f"/>
<rect x="708" y="340" width="4.0" height="4.3" fill="#e8c034"/>
<rect x="712" y="340" width="4.0" height="4.3" fill="#e9bd3a"/>
<rect x="716" y="340" width="4.0" height="4.3" fill="#e9bb3f"/>
<rect x="720" y="340" width="4.0" height="4.3" fill="#e9b945"/>
<rect x="724" y="340" width="4.0" height="4.3" fill="#eab74b"/>
<rect x="728" y="340" width="4.0" height="4.3" fill="#eab550"/>
<rect x="732" y="340" width="0.3" height="4.3" fill="#eab454"/>
<rect x="532" y="344" width="4.0" height="4.3" fill="#06a800"/>
<rect x="536" y="344" width="4.0" height="4.3" fill="#0caa00"/>
<rect x="540" y="344" width="4.0" height="4.3" fill="#12ac00"/>
<rect x="544" y="344" width="4.0" height="4.3" fill="#18ae00"/>
<rect x="548" y="344" width="4.0" height="4.3" fill="#1eb100"/>
<rect x="552" y="344" width="4.0" height="4.3" fill="#24b300"/>
<rect x="556" y="344" width="4.0" height="4.3" fill="#2bb500"/>
<rect x="560" y="344" width="4.0" height="4.3" fill="#32b700"/>
<rect x="564" y="344" width="4.0" height="4.3" fill="#38b900"/>
<rect x="568" y="344" width="4.0" height="4.3" fill="#3fbb00"/>
<rect x="572" y="344" width="4.0" height="4.3" fill="#45bd00"/>
<rect x="576" y="344" width="4.0" height="4.3" fill="#4cbf00"/>
<rect x="580" y="344" width="4.0" height="4.3" fill="#53c100"/>
<rect x="584" y="344" width="4.0" height="4.3" fill="#5ac300"/>
<rect x="588" y="344" width="4.0" height="4.3" fill="#61c500"/>
<rect x="592" y="344" width="4.0" height="4.3" fill="#68c700"/>
<rect x="596" y="344" width="4.0" height="4.3" fill="#6fc900"/>
<rect x="600" y="344" width="4.0" height="4.3" fill="#75cb00"/>
<rect x="604" y="344" width="4.0" height="4.3" fill="#7bcc00"/>
<rect x="608" y="344" width="4.0" height="4.3" fill="#82ce00"/>
<rect x="612" y="344" width="4.0" height="4.3" fill="#88d000"/>
<rect x="616" y="344" width="4.0" height="4.3" fill="#8fd100"/>
<rect x="620" y="344" width="4.0" height="4.3" fill="#95d300"/>
<rect x="624" y="344" width="4.0" height="4.3" fill="#9cd500"/>
<rect x="628" y="344" width="4.0" height="4.3" fill="#a3d600"/>
<rect x="632" y="344" width="4.0" height="4.3" fill="#aad800"/>
<rect x="636" y="344" width="4.0" height="4.3" fill="#b1da00"/>
<rect x="640" y="344" width="4.0" height="4.3" fill="#b8db00"/>
<rect x="644" y="344" width="4.0" height="4.3" fill="#c0dd00"/>
<rect x="648" y="344" width="4.0" height="4.3" fill="#c7df00"/>
<rect x="652" y="344" width="4.0" height="4.3" fill="#cfe000"/>
<rect x="656" y="344" width="4.0" height="4.3" fill="#d6e200"/>
<rect x="660" y="344" width="4.0" height="4.3" fill="#dee400"/>
<rect x="664" y="344" width="4.0" height="4.3" fill="#e6e500"/>
<rect x="668" y="344" width="4.0" height="4.3" fill="#e6e006"/>
<rect x="672" y="344" width="4.0" height="4.3" fill="#e6db0b"/>
<rect x="676" y="344" width="4.0" height="4.3" fill="#e6d711"/>
<rect x="680" y="344" width="4.0" height="4.3" fill="#e7d217"/>
<rect x="684" y="344" width="4.0" height="4.3" fill="#e7ce1d"/>
<rect x="688" y="344" width="4.0" height="4.3" fill="#e7ca23"/>
<rect x="692" y="344" width="4.0" height="4.3" fill="#e8c628"/>
<rect x="696" y="344" width="4.0" height="4.3" fill="#e8c32e"/>
<rect x="700" y="344" width="4.0" height="4.3" fill="#e8c034"/>
<rect x="704" y="344" width="4.0" height="4.3" fill="#e9bd3a"/>
<rect x="708" y="344" width="4.0" height="4.3" fill="#e9bb40"/>
<rect x="712" y="344" width="4.0" height="4.3" fill="#e9b846"/>
<rect x="716" y="344" width="4.0" height="4.3" fill="#eab74b"/>
<rect x="720" y="344" width="4.0" height="4.3" fill="#eab551"/>
<rect x="724" y="344" width="4.0" height="4.3" fill="#eab357"/>
<rect x="728" y="344" width="4.0" height="4.3" fill="#ebb25d"/>
<rect x="732" y="344" width="0.3" height="4.3" fill="#ebb261"/>
<rect x="532" y="348" width="4.0" height="4.3" fill="#06a800"/>
<rect x="536" y="348" width="4.0" height="4.3" fill="#0caa00"/>
<rect x="540" y="348" width="4.0" height="4.3" fill="#12ac00"/>
<rect x="544" y="348" width="4.0" height="4.3" fill="#18af00"/>
<rect x="548" y="348" width="4.0" height="4.3" fill="#1fb100"/>
<rect x="552" y="348" width="4.0" height="4.3" fill="#25b300"/>
<rect x="556" y="348" width="4.0" height="4.3" fill="#2cb500"/>
<rect x="560" y="348" width="4.0" height="4.3" fill="#33b700"/>
<rect x="564" y="348" width="4.0" height="4.3" fill="#3aba00"/>
<rect x="568" y="348" width="4.0" height="4.3" fill="#40bc00"/>
<rect x="572" y="348" width="4.0" height="4.3" fill="#47be00"/>
<rect x="576" y="348" width="4.0" height="4.3" fill="#4ec000"/>
<rect x="580" y="348" width="4.0" height="4.3" fill="#55c200"/>
<rect x="584" y="348" width="4.0" height="4.3" fill="#5cc400"/>
<rect x="588" y="348" width="4.0" height="4.3" fill="#63c600"/>
<rect x="592" y="348" width="4.0" height="4.3" fill="#6ac800"/>
<rect x="596" y="348" width="4.0" height="4.3" fill="#71c900"/>
<rect x="600" y="348" width="4.0" height="4.3" fill="#77cb00"/>
<rect x="604" y="348" width="4.0" height="4.3" fill="#7ecd00"/>
<rect x="608" y="348" width="4.0" height="4.3" fill="#84cf00"/>
<rect x="612" y="348" width="4.0" height="4.3" fill="#8bd000"/>
<rect x="616" y="348" width="4.0" height="4.3" fill="#92d200"/>
<rect x="620" y="348" width="4.0" height="4.3" fill="#99d400"/>
<rect x="624" y="348" width="4.0" height="4.3" fill="#a0d500"/>
<rect x="628" y="348" width="4.0" height="4.3" fill="#a7d700"/>
<rect x="632" y="348" width="4.0" height="4.3" fill="#aed900"/>
<rect x="636" y="348" width="4.0" height="4.3" fill="#b5db00"/>
<rect x="640" y="348" width="4.0" height="4.3" fill="#bddc00"/>
<rect x="644" y="348" width="4.0" height="4.3" fill="#c4de00"/>
<rect x="648" y="348" width="4.0" height="4.3" fill="#cce000"/>
<rect x="652" y="348" width="4.0" height="4.3" fill="#d4e200"/>
<rect x="656" y="348" width="4.0" height="4.3" fill="#dce300"/>
<rect x="660" y="348" width="4.0" height="4.3" fill="#e4e500"/>
<rect x="664" y="348" width="4.0" height="4.3" fill="#e6e104"/>
<rect x="668" y="348" width="4.0" height="4.3" fill="#e6dc0a"/>
<rect x="672" y="348" width="4.0" height="4.3" fill="#e6d710"/>
<rect x="676" y="348" width="4.0" height="4.3" fill="#e7d316"/>
<rect x="680" y="348" width="4.0" height="4.3" fill="#e7ce1c"/>
<rect x="684" y="348" width="4.0" height="4.3" fill="#e7ca22"/>
<rect x="688" y="348" width="4.0" height="4.3" fill="#e8c728"/>
<rect x="692" y="348" width="4.0" height="4.3" fill="#e8c32e"/>
<rect x="696" y="348" width="4.0" height="4.3" fill="#e8c034"/>
<rect x="700" y="348" width="4.0" height="4.3" fill="#e9bd3a"/>
<rect x="704" y="348" width="4.0" height="4.3" fill="#e9bb40"/>
<rect x="708" y="348" width="4.0" height="4.3" fill="#e9b846"/>
<rect x="712" y="348" width="4.0" height="4.3" fill="#eab64c"/>
<rect x="716" y="348" width="4.0" height="4.3" fill="#eab552"/>
<rect x="720" y="348" width="4.0" height="4.3" fill="#eab358"/>
<rect x="724" y="348" width="4.0" height="4.3" fill="#ebb25e"/>
<rect x="728" y="348" width="4.0" height="4.3" fill="#ebb166"/>
<rect x="732" y="348" width="0.3" height="4.3" fill="#ebb16a"/>
<rect x="532" y="352" width="4.0" height="4.3" fill="#06a800"/>
<rect x="536" y="352" width="4.0" height="4.3" fill="#0caa00"/>
<rect x="540" y="352" width="4.0" height="4.3" fill="#13ad00"/>
<rect x="544" y="352" width="4.0" height="4.3" fill="#19af00"/>
<rect x="548" y="352" width="4.0" height="4.3" fill="#1fb100"/>
<rect x="552" y="352" width="4.0" height="4.3" fill="#26b300"/>
<rect x="556" y="352" width="4.0" height="4.3" fill="#2db600"/>
<rect x="560" y="352" width="4.0" height="4.3" fill="#34b800"/>
<rect x="564" y="352" width="4.0" height="4.3" fill="#3bba00"/>
<rect x="568" y="352" width="4.0" height="4.3" fill="#42bc00"/>
<rect x="572" y="352" width="4.0" height="4.3" fill="#48be00"/>
<rect x="576" y="352" width="4.0" height="4.3" fill="#4fc000"/>
<rect x="580" y="352" width="4.0" height="4.3" fill="#57c200"/>
<rect x="584" y="352" width="4.0" height="4.3" fill="#5ec400"/>
<rect x="588" y="352" width="4.0" height="4.3" fill="#65c600"/>
<rect x="592" y="352" width="4.0" height="4.3" fill="#6dc800"/>
<rect x="596" y="352" width="4.0" height="4.3" fill="#73ca00"/>
<rect x="600" y="352" width="4.0" height="4.3" fill="#7acc00"/>
<rect x="604" y="352" width="4.0" height="4.3" fill="#81ce00"/>
<rect x="608" y="352" width="4.0" height="4.3" fill="#87cf00"/>
<rect x="612" y="352" width="4.0" height="4.3" fill="#8ed100"/>
<rect x="616" y="352" width="4.0" height="4.3" fill="#95d300"/>
<rect x="620" y="352" width="4.0" height="4.3" fill="#9cd500"/>
<rect x="624" y="352" width="4.0" height="4.3" fill="#a4d600"/>
<rect x="628" y="352" width="4.0" height="4.3" fill="#abd800"/>
<rect x="632" y="352" width="4.0" height="4.3" fill="#b2da00"/>
<rect x="636" y="352" width="4.0" height="4.3" fill="#badc00"/>
<rect x="640" y="352" width="4.0" height="4.3" fill="#c2dd00"/>
<rect x="644" y="352" width="4.0" height="4.3" fill="#c9df00"/>
<rect x="648" y="352" width="4.0" height="4.3" fill="#d1e100"/>
<rect x="652" y="352" width="4.0" height="4.3" fill="#d9e300"/>
<rect x="656" y="352" width="4.0" height="4.3" fill="#e1e500"/>
<rect x="660" y="352" width="4.0" height="4.3" fill="#e6e303"/>
<rect x="664" y="352" width="4.0" height="4.3" fill="#e6dd09"/>
<rect x="668" y="352" width="4.0" height="4.3" fill="#e6d80f"/>
<rect x="672" y="352" width="4.0" height="4.3" fill="#e7d415"/>
<rect x="676" y="352" width="4.0" height="4.3" fill="#e7cf1b"/>
<rect x="680" y="352" width="4.0" height="4.3" fill="#e7cb21"/>
<rect x="684" y="352" width="4.0" height="4.3" fill="#e8c727"/>
<rect x="688" y="352" width="4.0" height="4.3" fill="#e8c42d"/>
<rect x="692" y="352" width="4.0" height="4.3" fill="#e8c033"/>
<rect x="696" y="352" width="4.0" height="4.3" fill="#e9bd39"/>
<rect x="700" y="352" width="4.0" height="4.3" fill="#e9bb40"/>
<rect x="704" y="352" width="4.0" height="4.3" fill="#e9b846"/>
<rect x="708" y="352" width="4.0" height="4.3" fill="#eab64c"/>
<rect x="712" y="352" width="4.0" height="4.3" fill="#eab552"/>
<rect x="716" y="352" width="4.0" height="4.3" fill="#eab358"/>
<rect x="720" y="352" width="4.0" height="4.3" fill="#ebb25f"/>
<rect x="724" y="352" width="4.0" height="4.3" fill="#ebb166"/>
<rect x="728" y="352" width="4.0" height="4.3" fill="#ebb16e"/>
<rect x="732" y="352" width="0.3" height="4.3" fill="#ecb173"/>
<rect x="532" y="356" width="4.0" height="4.3" fill="#06a800"/>
<rect x="536" y="356" width="4.0" height="4.3" fill="#0daa00"/>
<rect x="540" y="356" width="4.0" height="4.3" fill="#13ad00"/>
<rect x="544" y="356" width="4.0" height="4.3" fill="#19af00"/>
<rect x="548" y="356" width="4.0" height="4.3" fill="#20b100"/>
<rect x="552" y="356" width="4.0" height="4.3" fill="#27b400"/>
<rect x="556" y="356" width="4.0" height="4.3" fill="#2eb600"/>
<rect x="560" y="356" width="4.0" height="4.3" fill="#35b800"/>
<rect x="564" y="356" width="4.0" height="4.3" fill="#3cba00"/>
<rect x="568" y="356" width="4.0" height="4.3" fill="#43bc00"/>
<rect x="572" y="356" width="4.0" height="4.3" fill="#4abf00"/>
<rect x="576" y="356" width="4.0" height="4.3" fill="#51c100"/>
<rect x="580" y="356" width="4.0" height="4.3" fill="#59c300"/>
<rect x="584" y="356" width="4.0" height="4.3" fill="#60c500"/>
<rect x="588" y="356" width="4.0" height="4.3" fill="#68c700"/>
<rect x="592" y="356" width="4.0" height="4.3" fill="#6fc900"/>
<rect x="596" y="356" width="4.0" height="4.3" fill="#76cb00"/>
<rect x="600" y="356" width="4.0" height="4.3" fill="#7dcd00"/>
<rect x="604" y="356" width="4.0" height="4.3" fill="#83ce00"/>
<rect x="608" y="356" width="4.0" height="4.3" fill="#8ad000"/>
<rect x="612" y="356" width="4.0" height="4.3" fill="#92d200"/>
<rect x="616" y="356" width="4.0" height="4.3" fill="#99d400"/>
<rect x="620" y="356" width="4.0" height="4.3" fill="#a0d600"/>
<rect x="624" y="356" width="4.0" height="4.3" fill="#a8d700"/>
<rect x="628" y="356" width="4.0" height="4.3" fill="#afd900"/>
<rect x="632" y="356" width="4.0" height="4.3" fill="#b7db00"/>
<rect x="636" y="356" width="4.0" height="4.3" fill="#bfdd00"/>
<rect x="640" y="356" width="4.0" height="4.3" fill="#c7df00"/>
<rect x="644" y="356" width="4.0" height="4.3" fill="#cfe000"/>
<rect x="648" y="356" width="4.0" height="4.3" fill="#d7e200"/>
<rect x="652" y="356" width="4.0" height="4.3" fill="#dfe400"/>
<rect x="656" y="356" width="4.0" height="4.3" fill="#e6e401"/>
<rect x="660" y="356" width="4.0" height="4.3" fill="#e6df07"/>
<rect x="664" y="356" width="4.0" height="4.3" fill="#e6da0d"/>
<rect x="668" y="356" width="4.0" height="4.3" fill="#e7d514"/>
<rect x="672" y="356" width="4.0" height="4.3" fill="#e7d01a"/>
<rect x="676" y="356" width="4.0" height="4.3" fill="#e7cc20"/>
<rect x="680" y="356" width="4.0" height="4.3" fill="#e8c826"/>
<rect x="684" y="356" width="4.0" height="4.3" fill="#e8c42c"/>
<rect x="688" y="356" width="4.0" height="4.3" fill="#e8c133"/>
<rect x="692" y="356" width="4.0" height="4.3" fill="#e9be39"/>
<rect x="696" y="356" width="4.0" height="4.3" fill="#e9bb3f"/>
<rect x="700" y="356" width="4.0" height="4.3" fill="#e9b945"/>
<rect x="704" y="356" width="4.0" height="4.3" fill="#eab64c"/>
<rect x="708" y="356" width="4.0" height="4.3" fill="#eab552"/>
<rect x="712" y="356" width="4.0" height="4.3" fill="#eab358"/>
<rect x="716" y="356" width="4.0" height="4.3" fill="#ebb25f"/>
<rect x="720" y="356" width="4.0" height="4.3" fill="#ebb167"/>
<rect x="724" y="356" width="4.0" height="4.3" fill="#ecb16f"/>
<rect x="728" y="356" width="4.0" height="4.3" fill="#ecb177"/>
<rect x="732" y="356" width="0.3" height="4.3" fill="#ecb17c"/>
<rect x="532" y="360" width="4.0" height="4.3" fill="#06a800"/>
<rect x="536" y="360" width="4.0" height="4.3" fill="#0dab00"/>
<rect x="540" y="360" width="4.0" height="4.3" fill="#13ad00"/>
<rect x="544" y="360" width="4.0" height="4.3" fill="#1aaf00"/>
<rect x="548" y="360" width="4.0" height="4.3" fill="#21b200"/>
<rect x="552" y="360" width="4.0" height="4.3" fill="#28b400"/>
<rect x="556" y="360" width="4.0" height="4.3" fill="#2fb600"/>
<rect x="560" y="360" width="4.0" height="4.3" fill="#36b900"/>
<rect x="564" y="360" width="4.0" height="4.3" fill="#3dbb00"/>
<rect x="568" y="360" width="4.0" height="4.3" fill="#45bd00"/>
<rect x="572" y="360" width="4.0" height="4.3" fill="#4cbf00"/>
<rect x="576" y="360" width="4.0" height="4.3" fill="#53c100"/>
<rect x="580" y="360" width="4.0" height="4.3" fill="#5bc300"/>
<rect x="584" y="360" width="4.0" height="4.3" fill="#63c600"/>
<rect x="588" y="360" width="4.0" height="4.3" fill="#6ac800"/>
<rect x="592" y="360" width="4.0" height="4.3" fill="#71ca00"/>
<rect x="596" y="360" width="4.0" height="4.3" fill="#78cb00"/>
<rect x="600" y="360" width="4.0" height="4.3" fill="#7fcd00"/>
<rect x="604" y="360" width="4.0" height="4.3" fill="#86cf00"/>
<rect x="608" y="360" width="4.0" height="4.3" fill="#8ed100"/>
<rect x="612" y="360" width="4.0" height="4.3" fill="#95d300"/>
<rect x="616" y="360" width="4.0" height="4.3" fill="#9cd500"/>
<rect x="620" y="360" width="4.0" height="4.3" fill="#a4d600"/>
<rect x="624" y="360" width="4.0" height="4.3" fill="#acd800"/>
<rect x="628" y="360" width="4.0" height="4.3" fill="#b3da00"/>
<rect x="632" y="360" width="4.0" height="4.3" fill="#bbdc00"/>
<rect x="636" y="360" width="4.0" height="4.3" fill="#c3de00"/>
<rect x="640" y="360" width="4.0" height="4.3" fill="#cce000"/>
<rect x="644" y="360" width="4.0" height="4.3" fill="#d4e200"/>
<rect x="648" y="360" width="4.0" height="4.3" fill="#dce300"/>
<rect x="652" y="360" width="4.0" height="4.3" fill="#e5e500"/>
<rect x="656" y="360" width="4.0" height="4.3" fill="#e6e006"/>
<rect x="660" y="360" width="4.0" height="4.3" fill="#e6db0c"/>
<rect x="664" y="360" width="4.0" height="4.3" fill="#e7d612"/>
<rect x="668" y="360" width="4.0" height="4.3" fill="#e7d119"/>
<rect x="672" y="360" width="4.0" height="4.3" fill="#e7cc1f"/>
<rect x="676" y="360" width="4.0" height="4.3" fill="#e8c825"/>
<rect x="680" y="360" width="4.0" height="4.3" fill="#e8c52c"/>
<rect x="684" y="360" width="4.0" height="4.3" fill="#e8c132"/>
<rect x="688" y="360" width="4.0" height="4.3" fill="#e9be38"/>
<rect x="692" y="360" width="4.0" height="4.3" fill="#e9bb3f"/>
<rect x="696" y="360" width="4.0" height="4.3" fill="#e9b945"/>
<rect x="700" y="360" width="4.0" height="4.3" fill="#eab64c"/>
<rect x="704" y="360" width="4.0" height="4.3" fill="#eab552"/>
<rect x="708" y="360" width="4.0" height="4.3" fill="#eab359"/>
<rect x="712" y="360" width="4.0" height="4.3" fill="#ebb25f"/>
<rect x="716" y="360" width="4.0" height="4.3" fill="#ebb168"/>
<rect x="720" y="360" width="4.0" height="4.3" fill="#ecb170"/>
<rect x="724" y="360" width="4.0" height="4.3" fill="#ecb178"/>
<rect x="728" y="360" width="4.0" height="4.3" fill="#ecb280"/>
<rect x="732" y="360" width="0.3" height="4.3" fill="#edb285"/>
<rect x="532" y="364" width="4.0" height="4.3" fill="#07a800"/>
<rect x="536" y="364" width="4.0" height="4.3" fill="#0dab00"/>
<rect x="540" y="364" width="4.0" height="4.3" fill="#14ad00"/>
<rect x="544" y="364" width="4.0" height="4.3" fill="#1aaf00"/>
<rect x="548" y="364" width="4.0" height="4.3" fill="#22b200"/>
<rect x="552" y="364" width="4.0" height="4.3" fill="#29b400"/>
<rect x="556" y="364" width="4.0" height="4.3" fill="#30b700"/>
<rect x="560" y="364" width="4.0" height="4.3" fill="#38b900"/>
<rect x="564" y="364" width="4.0" height="4.3" fill="#3fbb00"/>
<rect x="568" y="364" width="4.0" height="4.3" fill="#46bd00"/>
<rect x="572" y="364" width="4.0" height="4.3" fill="#4ec000"/>
<rect x="576" y="364" width="4.0" height="4.3" fill="#55c200"/>
<rect x="580" y="364" width="4.0" height="4.3" fill="#5dc400"/>
<rect x="584" y="364" width="4.0" height="4.3" fill="#65c600"/>
<rect x="588" y="364" width="4.0" height="4.3" fill="#6dc800"/>
<rect x="592" y="364" width="4.0" height="4.3" fill="#74ca00"/>
<rect x="596" y="364" width="4.0" height="4.3" fill="#7bcc00"/>
<rect x="600" y="364" width="4.0" height="4.3" fill="#82ce00"/>
<rect x="604" y="364" width="4.0" height="4.3" fill="#89d000"/>
<rect x="608" y="364" width="4.0" height="4.3" fill="#91d200"/>
<rect x="612" y="364" width="4.0" height="4.3" fill="#98d400"/>
<rect x="616" y="364" width="4.0" height="4.3" fill="#a0d600"/>
<rect x="620" y="364" width="4.0" height="4.3" fill="#a8d700"/>
<rect x="624" y="364" width="4.0" height="4.3" fill="#b0d900"/>
<rect x="628" y="364" width="4.0" height="4.3" fill="#b8db00"/>
<rect x="632" y="364" width="4.0" height="4.3" fill="#c0dd00"/>
<rect x="636" y="364" width="4.0" height="4.3" fill="#c8df00"/>
<rect x="640" y="364" width="4.0" height="4.3" fill="#d1e100"/>
<rect x="644" y="364" width="4.0" height="4.3" fill="#d9e300"/>
<rect x="648" y="364" width="4.0" height="4.3" fill="#e2e500"/>
<rect x="652" y="364" width="4.0" height="4.3" fill="#e6e204"/>
<rect x="656" y="364" width="4.0" height="4.3" fill="#e6dc0a"/>
<rect x="660" y="364" width="4.0" height="4.3" fill="#e6d711"/>
<rect x="664" y="364" width="4.0" height="4.3" fill="#e7d217"/>
<rect x="668" y="364" width="4.0" height="4.3" fill="#e7cd1d"/>
<rect x="672" y="364" width="4.0" height="4.3" fill="#e7c924"/>
<rect x="676" y="364" width="4.0" height="4.3" fill="#e8c52a"/>
<rect x="680" y="364" width="4.0" height="4.3" fill="#e8c231"/>
<rect x="684" y="364" width="4.0" height="4.3" fill="#e9be38"/>
<rect x="688" y="364" width="4.0" height="4.3" fill="#e9bb3e"/>
<rect x="692" y="364" width="4.0" height="4.3" fill="#e9b945"/>
<rect x="696" y="364" width="4.0" height="4.3" fill="#eab74b"/>
<rect x="700" y="364" width="4.0" height="4.3" fill="#eab552"/>
<rect x="704" y="364" width="4.0" height="4.3" fill="#eab359"/>
<rect x="708" y="364" width="4.0" height="4.3" fill="#ebb260"/>
<rect x="712" y="364" width="4.0" height="4.3" fill="#ebb168"/>
<rect x="716" y="364" width="4.0" height="4.3" fill="#ecb170"/>
<rect x="720" y="364" width="4.0" height="4.3" fill="#ecb179"/>
<rect x="724" y="364" width="4.0" height="4.3" fill="#ecb281"/>
<rect x="728" y="364" width="4.0" height="4.3" fill="#edb38a"/>
<rect x="732" y="364" width="0.3" height="4.3" fill="#edb48f"/>
<rect x="532" y="368" width="4.0" height="4.3" fill="#07a800"/>
<rect x="536" y="368" width="4.0" height="4.3" fill="#0dab00"/>
<rect x="540" y="368" width="4.0" height="4.3" fill="#14ad00"/>
<rect x="544" y="368" width="4.0" height="4.3" fill="#1bb000"/>
<rect x="548" y="368" width="4.0" height="4.3" fill="#22b200"/>
<rect x="552" y="368" width="4.0" height="4.3" fill="#2ab400"/>
<rect x="556" y="368" width="4.0" height="4.3" fill="#31b700"/>
<rect x="560" y="368" width="4.0" height="4.3" fill="#39b900"/>
<rect x="564" y="368" width="4.0" height="4.3" fill="#40bc00"/>
<rect x="568" y="368" width="4.0" height="4.3" fill="#48be00"/>
<rect x="572" y="368" width="4.0" height="4.3" fill="#4fc000"/>
<rect x="576" y="368" width="4.0" height="4.3" fill="#57c200"/>
<rect x="580" y="368" width="4.0" height="4.3" fill="#5fc500"/>
<rect x="584" y="368" width="4.0" height="4.3" fill="#67c700"/>
<rect x="588" y="368" width="4.0" height="4.3" fill="#6fc900"/>
<rect x="592" y="368" width="4.0" height="4.3" fill="#76cb00"/>
<rect x="596" y="368" width="4.0" height="4.3" fill="#7ecd00"/>
<rect x="600" y="368" width="4.0" height="4.3" fill="#85cf00"/>
<rect x="604" y="368" width="4.0" height="4.3" fill="#8dd100"/>
<rect x="608" y="368" width="4.0" height="4.3" fill="#94d300"/>
<rect x="612" y="368" width="4.0" height="4.3" fill="#9cd500"/>
<rect x="616" y="368" width="4.0" height="4.3" fill="#a4d600"/>
<rect x="620" y="368" width="4.0" height="4.3" fill="#acd800"/>
<rect x="624" y="368" width="4.0" height="4.3" fill="#b4da00"/>
<rect x="628" y="368" width="4.0" height="4.3" fill="#bcdc00"/>
<rect x="632" y="368" width="4.0" height="4.3" fill="#c5de00"/>
<rect x="636" y="368" width="4.0" height="4.3" fill="#cde000"/>
<rect x="640" y="368" width="4.0" height="4.3" fill="#d6e200"/>
<rect x="644" y="368" width="4.0" height="4.3" fill="#dfe400"/>
<rect x="648" y="368" width="4.0" height="4.3" fill="#e6e402"/>
<rect x="652" y="368" width="4.0" height="4.3" fill="#e6de08"/>
<rect x="656" y="368" width="4.0" height="4.3" fill="#e6d80f"/>
<rect x="660" y="368" width="4.0" height="4.3" fill="#e7d315"/>
<rect x="664" y="368" width="4.0" height="4.3" fill="#e7ce1c"/>
<rect x="668" y="368" width="4.0" height="4.3" fill="#e7ca23"/>
<rect x="672" y="368" width="4.0" height="4.3" fill="#e8c629"/>
<rect x="676" y="368" width="4.0" height="4.3" fill="#e8c230"/>
<rect x="680" y="368" width="4.0" height="4.3" fill="#e8bf37"/>
<rect x="684" y="368" width="4.0" height="4.3" fill="#e9bc3d"/>
<rect x="688" y="368" width="4.0" height="4.3" fill="#e9b944"/>
<rect x="692" y="368" width="4.0" height="4.3" fill="#eab74b"/>
<rect x="696" y="368" width="4.0" height="4.3" fill="#eab552"/>
<rect x="700" y="368" width="4.0" height="4.3" fill="#eab358"/>
<rect x="704" y="368" width="4.0" height="4.3" fill="#ebb260"/>
<rect x="708" y="368" width="4.0" height="4.3" fill="#ebb168"/>
<rect x="712" y="368" width="4.0" height="4.3" fill="#ecb171"/>
<rect x="716" y="368" width="4.0" height="4.3" fill="#ecb179"/>
<rect x="720" y="368" width="4.0" height="4.3" fill="#edb282"/>
<rect x="724" y="368" width="4.0" height="4.3" fill="#edb38b"/>
<rect x="728" y="368" width="4.0" height="4.3" fill="#edb593"/>
<rect x="732" y="368" width="0.3" height="4.3" fill="#eeb798"/>
<rect x="532" y="372" width="4.0" height="4.3" fill="#07a800"/>
<rect x="536" y="372" width="4.0" height="4.3" fill="#0dab00"/>
<rect x="540" y="372" width="4.0" height="4.3" fill="#14ad00"/>
<rect x="544" y="372" width="4.0" height="4.3" fill="#1cb000"/>
<rect x="548" y="372" width="4.0" height="4.3" fill="#23b200"/>
<rect x="552" y="372" width="4.0" height="4.3" fill="#2bb500"/>
<rect x="556" y="372" width="4.0" height="4.3" fill="#32b700"/>
<rect x="560" y="372" width="4.0" height="4.3" fill="#3aba00"/>
<rect x="564" y="372" width="4.0" height="4.3" fill="#42bc00"/>
<rect x="568" y="372" width="4.0" height="4.3" fill="#49be00"/>
<rect x="572" y="372" width="4.0" height="4.3" fill="#51c100"/>
<rect x="576" y="372" width="4.0" height="4.3" fill="#59c300"/>
<rect x="580" y="372" width="4.0" height="4.3" fill="#62c500"/>
<rect x="584" y="372" width="4.0" height="4.3" fill="#6ac800"/>
<rect x="588" y="372" width="4.0" height="4.3" fill="#72ca00"/>
<rect x="592" y="372" width="4.0" height="4.3" fill="#79cc00"/>
<rect x="596" y="372" width="4.0" height="4.3" fill="#80ce00"/>
<rect x="600" y="372" width="4.0" height="4.3" fill="#88d000"/>
<rect x="604" y="372" width="4.0" height="4.3" fill="#90d200"/>
<rect x="608" y="372" width="4.0" height="4.3" fill="#98d300"/>
<rect x="612" y="372" width="4.0" height="4.3" fill="#a0d500"/>
<rect x="616" y="372" width="4.0" height="4.3" fill="#a8d700"/>
<rect x="620" y="372" width="4.0" height="4.3" fill="#b0d900"/>
<rect x="624" y="372" width="4.0" height="4.3" fill="#b9db00"/>
<rect x="628" y="372" width="4.0" height="4.3" fill="#c1dd00"/>
<rect x="632" y="372" width="4.0" height="4.3" fill="#cadf00"/>
<rect x="636" y="372" width="4.0" height="4.3" fill="#d3e100"/>
<rect x="640" y="372" width="4.0" height="4.3" fill="#dce300"/>
<rect x="644" y="372" width="4.0" height="4.3" fill="#e5e500"/>
<rect x="648" y="372" width="4.0" height="4.3" fill="#e6e006"/>
<rect x="652" y="372" width="4.0" height="4.3" fill="#e6da0d"/>
<rect x="656" y="372" width="4.0" height="4.3" fill="#e7d514"/>
<rect x="660" y="372" width="4.0" height="4.3" fill="#e7d01a"/>
<rect x="664" y="372" width="4.0" height="4.3" fill="#e7cb21"/>
<rect x="668" y="372" width="4.0" height="4.3" fill="#e8c728"/>
<rect x="672" y="372" width="4.0" height="4.3" fill="#e8c32f"/>
<rect x="676" y="372" width="4.0" height="4.3" fill="#e8bf35"/>
<rect x="680" y="372" width="4.0" height="4.3" fill="#e9bc3c"/>
<rect x="684" y="372" width="4.0" height="4.3" fill="#e9b943"/>
<rect x="688" y="372" width="4.0" height="4.3" fill="#eab74a"/>
<rect x="692" y="372" width="4.0" height="4.3" fill="#eab551"/>
<rect x="696" y="372" width="4.0" height="4.3" fill="#eab358"/>
<rect x="700" y="372" width="4.0" height="4.3" fill="#ebb25f"/>
<rect x="704" y="372" width="4.0" height="4.3" fill="#ebb168"/>
<rect x="708" y="372" width="4.0" height="4.3" fill="#ecb171"/>
<rect x="712" y="372" width="4.0" height="4.3" fill="#ecb17a"/>
<rect x="716" y="372" width="4.0" height="4.3" fill="#edb282"/>
<rect x="720" y="372" width="4.0" height="4.3" fill="#edb48b"/>
<rect x="724" y="372" width="4.0" height="4.3" fill="#edb694"/>
<rect x="728" y="372" width="4.0" height="4.3" fill="#eeb99d"/>
<rect x="732" y="372" width="0.3" height="4.3" fill="#eebaa2"/>
<rect x="532" y="376" width="4.0" height="4.3" fill="#07a800"/>
<rect x="536" y="376" width="4.0" height="4.3" fill="#0eab00"/>
<rect x="540" y="376" width="4.0" height="4.3" fill="#15ad00"/>
<rect x="544" y="376" width="4.0" height="4.3" fill="#1cb000"/>
<rect x="548" y="376" width="4.0" height="4.3" fill="#24b300"/>
<rect x="552" y="376" width="4.0" height="4.3" fill="#2bb500"/>
<rect x="556" y="376" width="4.0" height="4.3" fill="#33b800"/>
<rect x="560" y="376" width="4.0" height="4.3" fill="#3bba00"/>
<rect x="564" y="376" width="4.0" height="4.3" fill="#43bc00"/>
<rect x="568" y="376" width="4.0" height="4.3" fill="#4bbf00"/>
<rect x="572" y="376" width="4.0" height="4.3" fill="#53c100"/>
<rect x="576" y="376" width="4.0" height="4.3" fill="#5bc400"/>
<rect x="580" y="376" width="4.0" height="4.3" fill="#64c600"/>
<rect x="584" y="376" width="4.0" height="4.3" fill="#6cc800"/>
<rect x="588" y="376" width="4.0" height="4.3" fill="#74ca00"/>
<rect x="592" y="376" width="4.0" height="4.3" fill="#7bcc00"/>
<rect x="596" y="376" width="4.0" height="4.3" fill="#83ce00"/>
<rect x="600" y="376" width="4.0" height="4.3" fill="#8bd000"/>
<rect x="604" y="376" width="4.0" height="4.3" fill="#93d200"/>
<rect x="608" y="376" width="4.0" height="4.3" fill="#9bd400"/>
<rect x="612" y="376" width="4.0" height="4.3" fill="#a3d600"/>
<rect x="616" y="376" width="4.0" height="4.3" fill="#acd800"/>
<rect x="620" y="376" width="4.0" height="4.3" fill="#b4da00"/>
<rect x="624" y="376" width="4.0" height="4.3" fill="#bddc00"/>
<rect x="628" y="376" width="4.0" height="4.3" fill="#c6de00"/>
<rect x="632" y="376" width="4.0" height="4.3" fill="#cfe000"/>
<rect x="636" y="376" width="4.0" height="4.3" fill="#d8e200"/>
<rect x="640" y="376" width="4.0" height="4.3" fill="#e1e500"/>
<rect x="644" y="376" width="4.0" height="4.3" fill="#e6e204"/>
<rect x="648" y="376" width="4.0" height="4.3" fill="#e6dc0a"/>
<rect x="652" y="376" width="4.0" height="4.3" fill="#e6d711"/>
<rect x="656" y="376" width="4.0" height="4.3" fill="#e7d118"/>
<rect x="660" y="376" width="4.0" height="4.3" fill="#e7cc1f"/>
<rect x="664" y="376" width="4.0" height="4.3" fill="#e8c826"/>
<rect x="668" y="376" width="4.0" height="4.3" fill="#e8c42d"/>
<rect x="672" y="376" width="4.0" height="4.3" fill="#e8c034"/>
<rect x="676" y="376" width="4.0" height="4.3" fill="#e9bd3b"/>
<rect x="680" y="376" width="4.0" height="4.3" fill="#e9ba42"/>
<rect x="684" y="376" width="4.0" height="4.3" fill="#e9b749"/>
<rect x="688" y="376" width="4.0" height="4.3" fill="#eab550"/>
<rect x="692" y="376" width="4.0" height="4.3" fill="#eab457"/>
<rect x="696" y="376" width="4.0" height="4.3" fill="#ebb25e"/>
<rect x="700" y="376" width="4.0" height="4.3" fill="#ebb167"/>
<rect x="704" y="376" width="4.0" height="4.3" fill="#ecb170"/>
<rect x="708" y="376" width="4.0" height="4.3" fill="#ecb179"/>
<rect x="712" y="376" width="4.0" height="4.3" fill="#edb282"/>
<rect x="716" y="376" width="4.0" height="4.3" fill="#edb48b"/>
<rect x="720" y="376" width="4.0" height="4.3" fill="#edb694"/>
<rect x="724" y="376" width="4.0" height="4.3" fill="#eeb99e"/>
<rect x="728" y="376" width="4.0" height="4.3" fill="#eebca7"/>
<rect x="732" y="376" width="0.3" height="4.3" fill="#efbfad"/>
<rect x="532" y="380" width="4.0" height="4.3" fill="#07a800"/>
<rect x="536" y="380" width="4.0" height="4.3" fill="#0eab00"/>
<rect x="540" y="380" width="4.0" height="4.3" fill="#15ae00"/>
<rect x="544" y="380" width="4.0" height="4.3" fill="#1db000"/>
<rect x="548" y="380" width="4.0" height="4.3" fill="#24b300"/>
<rect x="552" y="380" width="4.0" height="4.3" fill="#2cb500"/>
<rect x="556" y="380" width="4.0" height="4.3" fill="#35b800"/>
<rect x="560" y="380" width="4.0" height="4.3" fill="#3cba00"/>
<rect x="564" y="380" width="4.0" height="4.3" fill="#44bd00"/>
<rect x="568" y="380" width="4.0" height="4.3" fill="#4dbf00"/>
<rect x="572" y="380" width="4.0" height="4.3" fill="#55c200"/>
<rect x="576" y="380" width="4.0" height="4.3" fill="#5dc400"/>
<rect x="580" y="380" width="4.0" height="4.3" fill="#66c700"/>
<rect x="584" y="380" width="4.0" height="4.3" fill="#6ec900"/>
<rect x="588" y="380" width="4.0" height="4.3" fill="#76cb00"/>
<rect x="592" y="380" width="4.0" height="4.3" fill="#7ecd00"/>
<rect x="596" y="380" width="4.0" height="4.3" fill="#86cf00"/>
<rect x="600" y="380" width="4.0" height="4.3" fill="#8ed100"/>
<rect x="604" y="380" width="4.0" height="4.3" fill="#96d300"/>
<rect x="608" y="380" width="4.0" height="4.3" fill="#9ed500"/>
<rect x="612" y="380" width="4.0" height="4.3" fill="#a7d700"/>
<rect x="616" y="380" width="4.0" height="4.3" fill="#afd900"/>
<rect x="620" y="380" width="4.0" height="4.3" fill="#b8db00"/>
<rect x="624" y="380" width="4.0" height="4.3" fill="#c1dd00"/>
<rect x="628" y="380" width="4.0" height="4.3" fill="#cadf00"/>
<rect x="632" y="380" width="4.0" height="4.3" fill="#d3e200"/>
<rect x="636" y="380" width="4.0" height="4.3" fill="#dde400"/>
<rect x="640" y="380" width="4.0" height="4.3" fill="#e6e501"/>
<rect x="644" y="380" width="4.0" height="4.3" fill="#e6df08"/>
<rect x="648" y="380" width="4.0" height="4.3" fill="#e6d90f"/>
<rect x="652" y="380" width="4.0" height="4.3" fill="#e7d316"/>
<rect x="656" y="380" width="4.0" height="4.3" fill="#e7ce1d"/>
<rect x="660" y="380" width="4.0" height="4.3" fill="#e7c924"/>
<rect x="664" y="380" width="4.0" height="4.3" fill="#e8c52b"/>
<rect x="668" y="380" width="4.0" height="4.3" fill="#e8c132"/>
<rect x="672" y="380" width="4.0" height="4.3" fill="#e9be39"/>
<rect x="676" y="380" width="4.0" height="4.3" fill="#e9bb40"/>
<rect x="680" y="380" width="4.0" height="4.3" fill="#e9b847"/>
<rect x="684" y="380" width="4.0" height="4.3" fill="#eab64f"/>
<rect x="688" y="380" width="4.0" height="4.3" fill="#eab456"/>
<rect x="692" y="380" width="4.0" height="4.3" fill="#ebb25d"/>
<rect x="696" y="380" width="4.0" height="4.3" fill="#ebb166"/>
<rect x="700" y="380" width="4.0" height="4.3" fill="#ecb16f"/>
<rect x="704" y="380" width="4.0" height="4.3" fill="#ecb178"/>
<rect x="708" y="380" width="4.0" height="4.3" fill="#ecb282"/>
<rect x="712" y="380" width="4.0" height="4.3" fill="#edb38b"/>
<rect x="716" y="380" width="4.0" height="4.3" fill="#edb694"/>
<rect x="720" y="380" width="4.0" height="4.3" fill="#eeb99d"/>
<rect x="724" y="380" width="4.0" height="4.3" fill="#eebca7"/>
<rect x="728" y="380" width="4.0" height="4.3" fill="#efc2b2"/>
<rect x="732" y="380" width="0.3" height="4.3" fill="#efc5b9"/>
<rect x="532" y="384" width="4.0" height="4.3" fill="#07a800"/>
<rect x="536" y="384" width="4.0" height="4.3" fill="#0eab00"/>
<rect x="540" y="384" width="4.0" height="4.3" fill="#16ae00"/>
<rect x="544" y="384" width="4.0" height="4.3" fill="#1db000"/>
<rect x="548" y="384" width="4.0" height="4.3" fill="#25b300"/>
<rect x="552" y="384" width="4.0" height="4.3" fill="#2db600"/>
<rect x="556" y="384" width="4.0" height="4.3" fill="#36b800"/>
<rect x="560" y="384" width="4.0" height="4.3" fill="#3ebb00"/>
<rect x="564" y="384" width="4.0" height="4.3" fill="#46bd00"/>
<rect x="568" y="384" width="4.0" height="4.3" fill="#4ec000"/>
<rect x="572" y="384" width="4.0" height="4.3" fill="#57c200"/>
<rect x="576" y="384" width="4.0" height="4.3" fill="#5fc500"/>
<rect x="580" y="384" width="4.0" height="4.3" fill="#68c700"/>
<rect x="584" y="384" width="4.0" height="4.3" fill="#71c900"/>
<rect x="588" y="384" width="4.0" height="4.3" fill="#78cb00"/>
<rect x="592" y="384" width="4.0" height="4.3" fill="#80ce00"/>
<rect x="596" y="384" width="4.0" height="4.3" fill="#88d000"/>
<rect x="600" y="384" width="4.0" height="4.3" fill="#91d200"/>
<rect x="604" y="384" width="4.0" height="4.3" fill="#99d400"/>
<rect x="608" y="384" width="4.0" height="4.3" fill="#a2d600"/>
<rect x="612" y="384" width="4.0" height="4.3" fill="#aad800"/>
<rect x="616" y="384" width="4.0" height="4.3" fill="#b3da00"/>
<rect x="620" y="384" width="4.0" height="4.3" fill="#bcdc00"/>
<rect x="624" y="384" width="4.0" height="4.3" fill="#c5de00"/>
<rect x="628" y="384" width="4.0" height="4.3" fill="#cfe000"/>
<rect x="632" y="384" width="4.0" height="4.3" fill="#d8e300"/>
<rect x="636" y="384" width="4.0" height="4.3" fill="#e2e500"/>
<rect x="640" y="384" width="4.0" height="4.3" fill="#e6e104"/>
<rect x="644" y="384" width="4.0" height="4.3" fill="#e6db0c"/>
<rect x="648" y="384" width="4.0" height="4.3" fill="#e7d513"/>
<rect x="652" y="384" width="4.0" height="4.3" fill="#e7d01a"/>
<rect x="656" y="384" width="4.0" height="4.3" fill="#e7cb21"/>
<rect x="660" y="384" width="4.0" height="4.3" fill="#e8c628"/>
<rect x="664" y="384" width="4.0" height="4.3" fill="#e8c230"/>
<rect x="668" y="384" width="4.0" height="4.3" fill="#e9bf37"/>
<rect x="672" y="384" width="4.0" height="4.3" fill="#e9bb3e"/>
<rect x="676" y="384" width="4.0" height="4.3" fill="#e9b846"/>
<rect x="680" y="384" width="4.0" height="4.3" fill="#eab64d"/>
<rect x="684" y="384" width="4.0" height="4.3" fill="#eab454"/>
<rect x="688" y="384" width="4.0" height="4.3" fill="#eab35c"/>
<rect x="692" y="384" width="4.0" height="4.3" fill="#ebb164"/>
<rect x="696" y="384" width="4.0" height="4.3" fill="#ebb16e"/>
<rect x="700" y="384" width="4.0" height="4.3" fill="#ecb177"/>
<rect x="704" y="384" width="4.0" height="4.3" fill="#ecb281"/>
<rect x="708" y="384" width="4.0" height="4.3" fill="#edb38a"/>
<rect x="712" y="384" width="4.0" height="4.3" fill="#edb693"/>
<rect x="716" y="384" width="4.0" height="4.3" fill="#eeb89d"/>
<rect x="720" y="384" width="4.0" height="4.3" fill="#eebca6"/>
<rect x="724" y="384" width="4.0" height="4.3" fill="#efc2b2"/>
<rect x="728" y="384" width="4.0" height="4.3" fill="#f0c9be"/>
<rect x="732" y="384" width="0.3" height="4.3" fill="#f0cdc5"/>
<rect x="532" y="388" width="4.0" height="4.3" fill="#07a800"/>
<rect x="536" y="388" width="4.0" height="4.3" fill="#0eab00"/>
<rect x="540" y="388" width="4.0" height="4.3" fill="#16ae00"/>
<rect x="544" y="388" width="4.0" height="4.3" fill="#1eb100"/>
<rect x="548" y="388" width="4.0" height="4.3" fill="#26b300"/>
<rect x="552" y="388" width="4.0" height="4.3" fill="#2eb600"/>
<rect x="556" y="388" width="4.0" height="4.3" fill="#37b900"/>
<rect x="560" y="388" width="4.0" height="4.3" fill="#3fbb00"/>
<rect x="564" y="388" width="4.0" height="4.3" fill="#47be00"/>
<rect x="568" y="388" width="4.0" height="4.3" fill="#50c000"/>
<rect x="572" y="388" width="4.0" height="4.3" fill="#59c300"/>
<rect x="576" y="388" width="4.0" height="4.3" fill="#61c500"/>
<rect x="580" y="388" width="4.0" height="4.3" fill="#6bc800"/>
<rect x="584" y="388" width="4.0" height="4.3" fill="#73ca00"/>
<rect x="588" y="388" width="4.0" height="4.3" fill="#7bcc00"/>
<rect x="592" y="388" width="4.0" height="4.3" fill="#83ce00"/>
<rect x="596" y="388" width="4.0" height="4.3" fill="#8bd000"/>
<rect x="600" y="388" width="4.0" height="4.3" fill="#94d200"/>
<rect x="604" y="388" width="4.0" height="4.3" fill="#9cd500"/>
<rect x="608" y="388" width="4.0" height="4.3" fill="#a5d700"/>
<rect x="612" y="388" width="4.0" height="4.3" fill="#aed900"/>
<rect x="616" y="388" width="4.0" height="4.3" fill="#b7db00"/>
<rect x="620" y="388" width="4.0" height="4.3" fill="#c1dd00"/>
<rect x="624" y="388" width="4.0" height="4.3" fill="#cadf00"/>
<rect x="628" y="388" width="4.0" height="4.3" fill="#d4e200"/>
<rect x="632" y="388" width="4.0" height="4.3" fill="#dde400"/>
<rect x="636" y="388" width="4.0" height="4.3" fill="#e6e401"/>
<rect x="640" y="388" width="4.0" height="4.3" fill="#e6de08"/>
<rect x="644" y="388" width="4.0" height="4.3" fill="#e6d810"/>
<rect x="648" y="388" width="4.0" height="4.3" fill="#e7d217"/>
<rect x="652" y="388" width="4.0" height="4.3" fill="#e7cd1e"/>
<rect x="656" y="388" width="4.0" height="4.3" fill="#e8c826"/>
<rect x="660" y="388" width="4.0" height="4.3" fill="#e8c42d"/>
<rect x="664" y="388" width="4.0" height="4.3" fill="#e8c035"/>
<rect x="668" y="388" width="4.0" height="4.3" fill="#e9bc3c"/>
<rect x="672" y="388" width="4.0" height="4.3" fill="#e9b944"/>
<rect x="676" y="388" width="4.0" height="4.3" fill="#eab74b"/>
<rect x="680" y="388" width="4.0" height="4.3" fill="#eab553"/>
<rect x="684" y="388" width="4.0" height="4.3" fill="#eab35a"/>
<rect x="688" y="388" width="4.0" height="4.3" fill="#ebb263"/>
<rect x="692" y="388" width="4.0" height="4.3" fill="#ebb16c"/>
<rect x="696" y="388" width="4.0" height="4.3" fill="#ecb176"/>
<rect x="700" y="388" width="4.0" height="4.3" fill="#ecb27f"/>
<rect x="704" y="388" width="4.0" height="4.3" fill="#edb389"/>
<rect x="708" y="388" width="4.0" height="4.3" fill="#edb593"/>
<rect x="712" y="388" width="4.0" height="4.3" fill="#eeb89c"/>
<rect x="716" y="388" width="4.0" height="4.3" fill="#eebca6"/>
<rect x="720" y="388" width="4.0" height="4.3" fill="#efc2b2"/>
<rect x="724" y="388" width="4.0" height="4.3" fill="#f0c9be"/>
<rect x="728" y="388" width="4.0" height="4.3" fill="#f0d1cb"/>
<rect x="732" y="388" width="0.3" height="4.3" fill="#f1d6d2"/>
<rect x="532" y="392" width="4.0" height="0.5" fill="#07a800"/>
<rect x="536" y="392" width="4.0" height="0.5" fill="#0eab00"/>
<rect x="540" y="392" width="4.0" height="0.5" fill="#16ae00"/>
<rect x="544" y="392" width="4.0" height="0.5" fill="#1eb100"/>
<rect x="548" y="392" width="4.0" height="0.5" fill="#26b300"/>
<rect x="552" y="392" width="4.0" height="0.5" fill="#2fb600"/>
<rect x="556" y="392" width="4.0" height="0.5" fill="#37b900"/>
<rect x="560" y="392" width="4.0" height="0.5" fill="#40bb00"/>
<rect x="564" y="392" width="4.0" height="0.5" fill="#48be00"/>
<rect x="568" y="392" width="4.0" height="0.5" fill="#51c000"/>
<rect x="572" y="392" width="4.0" height="0.5" fill="#5ac300"/>
<rect x="576" y="392" width="4.0" height="0.5" fill="#63c600"/>
<rect x="580" y="392" width="4.0" height="0.5" fill="#6cc800"/>
<rect x="584" y="392" width="4.0" height="0.5" fill="#74ca00"/>
<rect x="588" y="392" width="4.0" height="0.5" fill="#7ccc00"/>
<rect x="592" y="392" width="4.0" height="0.5" fill="#84cf00"/>
<rect x="596" y="392" width="4.0" height="0.5" fill="#8dd100"/>
<rect x="600" y="392" width="4.0" height="0.5" fill="#95d300"/>
<rect x="604" y="392" width="4.0" height="0.5" fill="#9ed500"/>
<rect x="608" y="392" width="4.0" height="0.5" fill="#a7d700"/>
<rect x="612" y="392" width="4.0" height="0.5" fill="#b0d900"/>
<rect x="616" y="392" width="4.0" height="0.5" fill="#b9dc00"/>
<rect x="620" y="392" width="4.0" height="0.5" fill="#c3de00"/>
<rect x="624" y="392" width="4.0" height="0.5" fill="#cce000"/>
<rect x="628" y="392" width="4.0" height="0.5" fill="#d6e200"/>
<rect x="632" y="392" width="4.0" height="0.5" fill="#e0e400"/>
<rect x="636" y="392" width="4.0" height="0.5" fill="#e6e203"/>
<rect x="640" y="392" width="4.0" height="0.5" fill="#e6dc0b"/>
<rect x="644" y="392" width="4.0" height="0.5" fill="#e7d612"/>
<rect x="648" y="392" width="4.0" height="0.5" fill="#e7d01a"/>
<rect x="652" y="392" width="4.0" height="0.5" fill="#e7cb21"/>
<rect x="656" y="392" width="4.0" height="0.5" fill="#e8c628"/>
<rect x="660" y="392" width="4.0" height="0.5" fill="#e8c230"/>
<rect x="664" y="392" width="4.0" height="0.5" fill="#e9be37"/>
<rect x="668" y="392" width="4.0" height="0.5" fill="#e9bb3f"/>
<rect x="672" y="392" width="4.0" height="0.5" fill="#e9b847"/>
<rect x="676" y="392" width="4.0" height="0.5" fill="#eab64e"/>
<rect x="680" y="392" width="4.0" height="0.5" fill="#eab456"/>
<rect x="684" y="392" width="4.0" height="0.5" fill="#ebb25d"/>
<rect x="688" y="392" width="4.0" height="0.5" fill="#ebb167"/>
<rect x="692" y="392" width="4.0" height="0.5" fill="#ecb171"/>
<rect x="696" y="392" width="4.0" height="0.5" fill="#ecb17a"/>
<rect x="700" y="392" width="4.0" height="0.5" fill="#edb284"/>
<rect x="704" y="392" width="4.0" height="0.5" fill="#edb48e"/>
<rect x="708" y="392" width="4.0" height="0.5" fill="#eeb797"/>
<rect x="712" y="392" width="4.0" height="0.5" fill="#eebaa1"/>
<rect x="716" y="392" width="4.0" height="0.5" fill="#efbfac"/>
<rect x="720" y="392" width="4.0" height="0.5" fill="#efc5b9"/>
<rect x="724" y="392" width="4.0" height="0.5" fill="#f0cdc5"/>
<rect x="728" y="392" width="4.0" height="0.5" fill="#f1d6d2"/>
<rect x="732" y="392" width="0.3" height="0.5" fill="#f1dbd9"/>
</g>
<line x1="528" y1="373.4" x2="531.5" y2="373.4" stroke="#999" stroke-width="0.8"/>
<text x="525.5" y="376.7" font-size="9" text-anchor="end" font-family="Liberation Sans" fill="#5a5a5a">5</text>
<line x1="528" y1="341.6" x2="531.5" y2="341.6" stroke="#999" stroke-width="0.8"/>
<text x="525.5" y="344.9" font-size="9" text-anchor="end" font-family="Liberation Sans" fill="#5a5a5a">6</text>
<line x1="528" y1="309.8" x2="531.5" y2="309.8" stroke="#999" stroke-width="0.8"/>
<text x="525.5" y="313.1" font-size="9" text-anchor="end" font-family="Liberation Sans" fill="#5a5a5a">7</text>
<line x1="528" y1="278.0" x2="531.5" y2="278.0" stroke="#999" stroke-width="0.8"/>
<text x="525.5" y="281.3" font-size="9" text-anchor="end" font-family="Liberation Sans" fill="#5a5a5a">8</text>
<line x1="593.0" y1="392.5" x2="593.0" y2="395.5" stroke="#999" stroke-width="0.8"/>
<text x="593.0" y="403.0" font-size="9" text-anchor="middle" font-family="Liberation Sans" fill="#5a5a5a">0.5</text>
<line x1="657.3" y1="392.5" x2="657.3" y2="395.5" stroke="#999" stroke-width="0.8"/>
<text x="657.3" y="403.0" font-size="9" text-anchor="middle" font-family="Liberation Sans" fill="#5a5a5a">1.0</text>
<line x1="721.5" y1="392.5" x2="721.5" y2="395.5" stroke="#999" stroke-width="0.8"/>
<text x="721.5" y="403.0" font-size="9" text-anchor="middle" font-family="Liberation Sans" fill="#5a5a5a">1.5</text>
<path d="M555.3 384.6 L555.4 383.9 L555.6 382.2 L556.0 379.7 L556.5 376.6 L557.1 372.9 L557.8 368.8 L558.6 364.4 L559.5 359.7 L560.5 354.9 L561.5 350.0 L562.7 345.2 L563.9 340.3 L565.3 335.6 L566.7 331.0 L568.2 326.6 L569.8 322.4 L571.5 318.4 L573.2 314.6 L575.1 311.0 L577.0 307.6 L579.0 304.4 L581.0 301.5 L583.2 298.7 L585.4 296.1 L587.7 293.7 L590.1 291.5 L592.5 289.4 L595.0 287.5 L597.6 285.7 L600.3 284.0 L603.0 282.5 L605.8 281.0 L608.7 279.7 L611.7 278.4 L614.7 277.2 L617.8 276.1 L620.9 275.0 L624.2 274.0 L627.5 273.1 L630.8 272.2 L634.3 271.3 L637.8 270.5 L641.3 269.7 L645.0 268.9 L648.7 268.2 L652.4 267.5 L656.3 266.8 L660.2 266.1 L664.1 265.5 L668.2 264.8 L672.3 264.2 L676.4 263.6 L680.6 263.0 L684.9 262.4 L689.3 261.8 L693.7 261.2 L698.2 260.6 L702.7 260.0 L707.3 259.5 L712.0 258.9" fill="none" stroke="#0a2e0a" stroke-width="1.35"/>
<circle cx="607" cy="293.2" r="2.7" fill="#e8231a"/>
<text x="611.5" y="291.6" font-size="9.8" text-anchor="start" font-family="Liberation Sans" fill="#1a2a10">Risk screening value</text>
<text x="611.5" y="300.8" font-size="9.8" text-anchor="start" font-family="Liberation Sans" fill="#1a2a10">(0.6 mg/kg, pH &gt;7.5)</text>
<g transform="translate(570.5,283) rotate(-137)"><path d="M0 0 L-6 -5 L-6 -2.3 L-16 -2.3 L-16 2.3 L-6 2.3 L-6 5 Z" fill="#4a8ee0"/></g>
<g transform="translate(601.3,311.3) rotate(37)"><path d="M0 0 L-7 -5.5 L-7 -2.3 L-17 -2.3 L-17 2.3 L-7 2.3 L-7 5.5 Z" fill="#d8322a"/></g>
<text x="0.0" y="0.0" font-size="12.8" text-anchor="middle" font-family="Liberation Sans" font-weight="bold" fill="#3f8ed0" fill-opacity="0.8" transform="translate(565.3,282.3) rotate(-32)">Safe</text>
<text x="0.0" y="0.0" font-size="13" text-anchor="middle" font-family="Liberation Sans" font-weight="bold" fill="#d8402a" transform="translate(606.5,322.5) rotate(-36)">Risky</text>
<text x="633.3" y="249.5" font-size="17.9" text-anchor="middle" font-family="Liberation Serif" font-weight="bold" stroke="#000" stroke-width="0.25" fill="#000">Dietary Cd exposure</text>
<text x="0.0" y="0.0" font-size="17.5" text-anchor="middle" font-family="Liberation Serif" font-weight="bold" stroke="#000" stroke-width="0.25" fill="#000" transform="translate(505,325.5) rotate(-90)">Soil pH</text>
<text x="634.5" y="418.7" font-size="18.1" text-anchor="middle" font-family="Liberation Serif" font-weight="bold" stroke="#000" stroke-width="0.25" fill="#000">Soil Cd content (mg/kg)</text>
</svg>
</body></html>
